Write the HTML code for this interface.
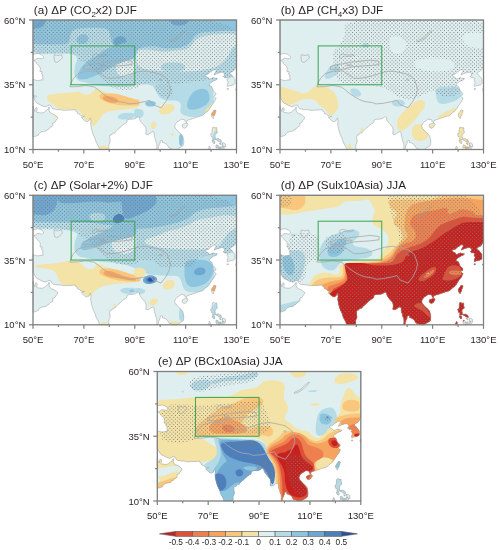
<!DOCTYPE html>
<html><head><meta charset="utf-8"><style>
html,body{margin:0;padding:0;background:#fff;width:500px;height:550px;overflow:hidden}
svg{display:block}
.lab{font-family:"Liberation Sans",sans-serif;font-size:9.5px;fill:#231f20}
.title{font-family:"Liberation Sans",sans-serif;font-size:11.7px;fill:#231f20}
.cbl{font-family:"Liberation Sans",sans-serif;font-size:8.3px;fill:#231f20}
</style></head><body>
<svg width="500" height="550" viewBox="0 0 500 550" style="will-change:transform">
<defs><clipPath id="land"><path d="M0.0,0.0L203.5,0.0L203.5,45.1L203.0,47.1L201.7,49.5L200.7,50.8L198.9,51.8L197.4,52.3L196.9,53.9L197.9,54.4L199.2,55.4L199.9,56.5L200.7,57.5L201.5,58.5L202.0,59.6L202.0,62.2L202.0,63.5L201.0,64.5L199.7,65.0L197.6,65.5L195.9,65.8L194.6,66.6L194.1,65.3L194.6,63.5L195.1,62.2L194.6,60.9L193.8,59.8L195.1,58.5L193.6,57.8L191.5,57.8L190.8,56.5L190.0,56.7L191.3,55.4L191.5,53.6L190.3,52.8L189.0,52.1L187.0,52.6L183.9,53.6L181.1,54.9L181.9,53.1L183.2,51.0L182.6,49.5L180.6,49.7L179.3,51.0L177.0,52.1L175.5,53.9L173.7,54.4L172.2,54.6L172.5,56.2L174.2,57.0L175.5,57.8L176.3,59.3L178.8,58.3L180.1,57.5L181.9,58.3L184.4,58.5L183.7,59.8L180.6,60.9L178.8,62.2L176.8,63.5L176.0,65.3L178.6,66.6L179.8,69.9L180.6,71.2L182.9,73.3L182.6,75.1L180.6,76.1L182.1,77.7L183.2,78.2L182.1,80.3L181.6,81.6L180.1,83.4L178.6,85.5L177.0,88.1L176.0,89.6L174.2,91.7L173.0,92.2L170.9,94.3L169.2,95.6L166.6,96.3L164.1,97.1L162.8,97.6L161.5,97.9L159.0,98.9L156.4,99.7L153.9,100.5L153.4,102.8L152.1,101.5L151.6,99.7L148.8,99.2L147.5,99.7L145.8,101.0L144.0,102.0L142.4,104.1L141.7,106.2L142.4,108.3L144.0,110.1L146.5,112.7L148.0,114.0L149.8,116.3L150.6,119.7L150.8,121.7L150.6,123.8L150.6,124.6L150.1,125.6L147.8,127.2L145.2,128.5L144.2,129.5L139.4,129.5L138.6,128.5L136.3,128.2L135.1,126.4L134.6,125.1L133.0,123.8L131.0,122.8L129.5,122.5L129.5,120.7L128.5,120.4L127.2,121.0L127.1,123.0L126.2,124.8L125.4,126.9L125.2,128.7L124.9,129.5L123.6,129.5L123.9,126.9L123.9,124.8L123.6,123.0L122.6,121.0L122.4,119.1L121.3,116.5L121.1,113.2L120.3,111.6L119.0,111.9L117.8,112.7L115.7,114.2L114.0,114.5L112.7,114.0L113.2,110.6L112.7,107.5L111.7,106.2L110.7,104.9L109.4,103.6L108.4,102.3L107.6,101.3L106.8,99.7L106.3,97.6L105.6,96.9L104.3,97.1L103.0,98.2L102.0,98.7L100.5,98.9L99.2,99.2L97.9,99.2L96.9,99.2L95.6,99.5L94.1,100.0L93.9,101.8L93.4,102.8L91.1,104.1L89.3,105.4L88.3,106.2L86.7,108.0L84.7,109.6L82.2,111.9L82.2,112.7L79.4,113.4L78.9,114.7L76.8,115.3L76.6,117.8L77.1,121.0L76.8,123.0L75.8,124.8L75.8,127.2L75.9,128.7L74.5,129.5L66.6,129.5L65.6,126.4L64.1,123.8L63.1,122.0L62.1,118.4L60.5,115.3L59.3,111.9L58.5,108.8L58.0,106.2L57.7,103.6L58.0,101.0L57.5,97.9L56.5,99.2L56.2,100.5L54.7,101.5L52.9,101.5L51.4,100.5L49.9,98.9L48.3,97.4L49.9,97.1L51.6,96.1L50.1,96.3L47.8,95.6L46.8,94.3L44.5,93.5L43.8,91.4L42.5,90.9L42.2,89.6L39.4,89.9L36.9,90.1L34.3,90.1L31.3,90.4L29.5,90.1L27.0,89.6L24.2,89.6L22.1,89.1L19.8,88.8L18.6,87.3L17.8,85.5L16.0,85.0L14.0,86.2L12.2,86.8L10.2,86.2L8.9,85.7L6.6,84.4L3.8,83.1L2.0,80.5L1.3,79.0L0.5,77.7L0.0,77.2L0.0,59.3L1.3,59.6L2.5,60.1L4.6,60.6L6.4,60.3L8.9,59.8L10.2,60.1L9.9,58.5L9.7,57.0L9.9,54.9L8.1,53.6L9.4,52.8L8.9,51.5L7.1,51.8L7.1,50.2L7.4,48.7L6.9,47.1L6.1,45.8L4.3,44.3L3.3,43.5L3.1,42.5L2.0,41.2L0.8,40.4L2.0,39.9L3.3,39.4L3.8,38.3L6.4,38.3L8.9,38.9L10.7,37.8L10.2,36.3L8.4,34.7L6.4,33.9L4.8,33.5L3.1,33.7L1.0,34.2L0.0,34.7ZM0.0,86.0L0.5,86.5L0.3,87.5L0.5,89.1L1.5,90.6L2.0,91.4L2.0,89.1L3.1,87.5L4.1,88.3L4.1,90.1L3.6,91.7L4.1,92.5L6.4,92.7L8.9,93.0L11.2,92.2L13.5,90.1L15.3,88.8L15.5,87.5L16.3,87.0L16.3,88.6L16.0,90.1L16.8,92.2L18.6,93.5L20.9,94.3L22.4,95.3L24.2,96.9L24.9,97.4L24.2,98.9L22.9,100.5L21.9,102.3L19.8,103.1L19.8,105.7L19.1,106.4L17.3,107.2L16.0,109.0L14.0,109.8L13.2,111.1L10.4,111.4L7.9,112.1L5.6,114.0L5.6,115.0L3.8,115.8L1.3,116.5L0.0,116.8ZM180.6,90.4L181.9,89.9L183.2,90.6L182.6,92.2L182.1,93.8L181.6,95.6L180.6,96.9L180.2,98.7L179.6,97.6L178.8,96.9L178.3,95.8L178.4,94.0L179.3,92.5L180.4,91.2ZM152.6,103.3L154.4,103.3L155.2,104.4L154.2,105.7L153.9,106.7L152.6,107.7L151.4,108.3L149.8,107.5L149.1,105.9L149.3,104.6L150.6,103.9L151.6,103.6ZM203.5,67.6L203.0,68.6L202.5,69.2L203.0,69.9L203.0,71.0L203.5,71.2L203.5,67.6ZM193.8,68.9L194.6,68.5L195.6,68.6L195.4,69.3L194.1,69.4ZM179.6,107.5L180.6,107.2L182.9,108.0L183.7,107.5L183.9,110.6L184.4,112.7L182.1,114.5L182.1,116.5L182.4,118.6L183.7,118.9L185.2,118.6L186.5,119.4L187.7,119.7L188.5,121.7L188.2,122.8L187.0,122.0L185.7,121.5L184.4,120.4L182.6,119.4L181.1,119.9L179.8,119.7L179.6,118.4L180.4,117.6L179.6,117.1L178.6,117.1L178.1,115.8L177.6,113.7L178.6,113.7L179.1,111.9L179.1,110.1ZM179.1,120.4L181.1,120.7L181.9,121.7L181.6,123.5L180.6,123.5L179.3,121.7ZM183.2,124.8L185.2,125.4L185.9,126.4L184.7,127.7L183.2,128.2L182.9,126.4ZM185.4,127.2L187.0,127.2L186.5,129.5L185.2,129.5ZM187.7,126.4L188.5,127.9L188.0,129.5L187.2,128.7ZM189.0,125.6L190.8,126.4L191.3,128.7L190.3,129.5L189.3,127.7ZM189.0,123.0L190.8,122.8L192.3,123.8L192.8,126.9L190.8,126.7L189.8,125.4ZM176.3,125.9L177.6,127.7L176.3,129.5L174.8,129.5L176.0,127.2ZM186.2,123.3L187.7,123.5L188.2,124.6L187.0,124.3Z"/></clipPath>
<pattern id="stip" patternUnits="userSpaceOnUse" width="3.75" height="3.7"><rect x="0.5" y="0.5" width="1" height="1" fill="#787878" shape-rendering="crispEdges"/><rect x="2.375" y="2.35" width="1" height="1" fill="#787878" shape-rendering="crispEdges"/></pattern>
</defs>
<g transform="translate(33.0,20.0)">
<g clip-path="url(#land)">
<rect x="0" y="0" width="203.5" height="129.5" fill="#dfeeee"/>
<path d="M74.8,-6.0L128.7,-6.0L169.1,-2.2L196.0,5.4L209.5,16.9L209.5,32.1L208.6,43.8L206.8,51.8L204.1,56.1L200.4,56.9L197.1,57.7L194.0,58.6L191.2,59.5L188.8,60.5L186.6,61.6L184.9,62.9L183.5,64.2L182.5,65.8L181.7,67.4L181.1,69.1L180.6,71.0L180.4,73.0L180.3,74.9L180.3,76.7L180.5,78.5L180.9,80.1L180.9,81.9L180.5,83.7L179.9,85.7L178.8,87.7L177.4,89.7L175.6,91.4L173.4,93.1L170.9,94.7L168.2,95.8L165.3,96.6L162.4,97.0L159.2,97.0L156.4,96.7L153.8,96.2L151.5,95.5L149.5,94.4L148.1,93.2L147.3,91.6L147.2,89.8L147.7,87.7L147.8,85.9L147.6,84.3L147.1,83.1L146.3,82.0L145.0,81.3L143.3,80.8L141.2,80.5L138.8,80.5L136.4,80.4L134.3,80.2L132.4,79.9L130.6,79.6L129.1,79.0L127.7,78.2L126.5,77.1L125.5,75.9L124.6,74.6L123.9,73.2L123.2,71.8L122.8,70.2L122.1,68.9L121.4,67.8L120.5,66.9L119.5,66.1L118.2,65.5L116.8,65.0L115.0,64.6L113.0,64.4L111.1,64.2L109.4,64.2L107.8,64.4L106.2,64.6L104.6,64.9L102.7,65.3L100.6,65.8L98.4,66.2L96.1,66.6L93.7,66.9L91.2,67.0L88.8,67.0L86.2,67.0L83.8,66.9L81.2,66.8L78.8,66.7L76.2,66.6L73.8,66.4L71.2,66.3L68.8,66.2L66.6,66.0L64.7,65.8L63.1,65.4L61.9,65.1L60.4,64.7L58.8,64.2L57.0,63.8L55.0,63.2L53.1,62.8L51.2,62.3L49.4,61.9L47.6,61.6L46.1,60.9L44.7,60.0L43.5,58.8L42.5,57.2L41.8,55.5L41.4,53.5L41.4,51.2L41.6,48.8L42.0,46.4L42.5,44.3L43.1,42.4L43.9,40.6L44.1,39.1L43.9,37.7L43.1,36.5L41.9,35.5L40.3,34.7L38.4,34.2L36.2,33.8L33.8,33.7L31.2,33.6L28.8,33.6L26.2,33.6L23.8,33.6L20.2,33.7L15.8,33.7L10.2,33.7L3.8,33.7L-1.1,31.2L-4.4,26.3L-6.0,18.8L-6.0,8.9L7.5,1.4L34.4,-3.5Z" fill="#b5dbe7"/>
<path d="M106.1,30.2L108.2,29.8L110.4,29.5L112.7,29.4L115.2,29.6L117.7,29.9L120.3,30.3L122.9,30.7L125.5,31.1L128.0,31.4L130.6,31.6L133.2,31.6L135.8,31.4L138.3,31.1L141.1,30.7L144.0,30.3L147.0,29.9L150.2,29.6L152.9,29.0L155.1,28.2L156.9,27.1L158.1,25.9L159.2,24.6L160.2,23.3L161.1,22.0L161.9,20.6L163.1,19.4L164.7,18.4L166.8,17.4L169.4,16.7L172.0,16.0L174.8,15.4L177.6,14.9L180.6,14.6L183.3,14.2L185.9,14.0L188.3,13.8L190.5,13.7L193.1,13.7L196.2,13.8L199.7,14.1L203.6,14.4L206.6,15.2L208.5,16.2L209.5,17.6L209.5,19.4L208.8,21.1L207.5,22.7L205.6,24.2L202.9,25.8L200.8,27.2L199.3,28.6L198.2,29.9L197.8,31.1L197.0,32.6L196.1,34.2L195.0,36.1L193.7,38.1L192.2,40.1L190.5,41.9L188.6,43.5L186.6,45.1L183.8,46.5L180.1,47.8L175.8,48.9L170.6,50.0L165.5,50.7L160.3,51.2L155.1,51.5L150.0,51.5L144.8,51.4L139.6,51.3L134.5,51.1L129.3,50.9L124.5,50.5L120.0,50.1L115.8,49.6L111.9,48.9L108.7,48.0L106.4,46.7L104.9,45.0L104.1,43.0L103.6,40.9L103.2,38.8L103.0,36.6L103.0,34.4L103.5,32.6L104.6,31.2Z" fill="#dfeeee"/>
<path d="M132.5,43.2L135.5,42.8L138.5,42.5L141.5,42.5L144.5,42.8L147.5,43.2L149.8,44.1L151.2,45.3L152.0,46.8L152.0,48.7L150.5,50.1L147.5,51.0L143.0,51.5L137.0,51.5L132.5,51.0L129.5,50.1L128.0,48.7L128.0,46.8L128.8,45.3L130.2,44.1Z" fill="#b5dbe7"/>
<path d="M85.8,41.2L88.2,40.8L90.8,40.3L93.2,39.9L95.8,39.6L98.2,39.4L100.2,39.6L101.8,40.2L102.8,41.2L103.2,42.8L103.4,44.4L103.1,46.3L102.5,48.4L101.5,50.6L100.2,52.5L98.8,54.0L97.0,55.1L95.0,55.9L93.0,56.3L91.0,56.4L89.0,56.2L87.0,55.8L85.4,54.6L84.1,52.7L83.2,50.1L82.8,46.9L83.0,44.3L84.0,42.4Z" fill="#dfeeee"/>
<path d="M74.8,-6.0L128.7,-6.0L169.1,-4.9L196.0,-2.6L209.5,0.8L209.5,5.2L208.5,8.5L206.6,10.6L203.6,11.4L199.7,11.1L195.9,10.8L192.2,10.8L188.6,10.9L185.2,11.1L181.8,11.4L178.6,11.6L175.5,11.9L172.5,12.1L169.9,12.5L167.6,12.9L165.8,13.4L164.2,14.1L162.9,15.0L161.6,16.2L160.5,17.6L159.5,19.4L158.4,20.9L157.1,22.3L155.8,23.5L154.2,24.5L152.7,25.4L151.1,26.1L149.4,26.8L147.6,27.2L145.7,27.7L143.6,28.0L141.2,28.2L138.8,28.3L136.4,28.4L134.3,28.3L132.4,28.2L130.6,28.1L128.9,27.8L127.2,27.5L125.6,27.1L124.0,26.7L122.1,26.4L120.0,26.3L117.6,26.4L115.0,26.6L112.6,26.9L110.3,27.3L108.4,27.8L106.6,28.2L105.1,28.9L103.9,29.6L102.9,30.5L102.1,31.5L101.2,32.1L100.1,32.2L98.8,31.9L97.2,31.1L95.7,30.5L94.1,30.0L92.4,29.6L90.6,29.4L88.8,28.9L86.9,28.3L85.0,27.5L83.0,26.5L81.3,25.3L80.0,23.9L79.1,22.4L78.4,20.6L77.9,18.8L77.4,16.8L76.9,14.6L76.6,12.4L75.6,10.6L74.0,9.3L71.9,8.4L69.1,8.1L66.1,7.8L62.9,7.7L59.4,7.7L55.6,7.8L52.2,8.0L49.1,8.2L46.2,8.6L43.8,8.9L41.7,9.6L40.1,10.4L38.9,11.6L38.1,12.9L37.5,14.6L37.0,16.4L36.6,18.6L36.4,20.9L35.2,22.7L33.1,23.9L30.0,24.5L26.0,24.5L21.4,24.5L16.1,24.5L10.2,24.5L3.8,24.5L-1.1,22.6L-4.4,18.8L-6.0,13.1L-6.0,5.4L7.5,-0.3L34.4,-4.1Z" fill="#8ec5de"/>
<path d="M44.5,17.3L45.5,16.2L46.6,15.3L47.9,14.7L49.2,14.3L50.8,14.2L52.1,14.3L53.2,14.8L54.1,15.5L54.9,16.5L55.3,17.6L55.4,18.7L55.2,19.9L54.8,21.1L54.0,22.2L53.0,23.0L51.8,23.6L50.2,23.9L48.9,24.1L47.6,24.0L46.5,23.8L45.5,23.2L44.7,22.7L44.1,22.0L43.6,21.2L43.4,20.3L43.4,19.4L43.8,18.4Z" fill="#8ec5de"/>
<path d="M1.5,-6.0L6.5,-6.0L10.1,-5.4L12.4,-4.1L13.2,-2.2L12.8,0.2L12.1,2.4L11.4,4.1L10.5,5.5L9.5,6.5L7.9,7.3L5.6,7.9L2.8,8.4L-0.8,8.6L-3.4,7.9L-5.1,6.1L-6.0,3.4L-6.0,-0.4L-4.8,-3.2L-2.2,-5.1Z" fill="#6ea8d2"/>
<path d="M143.6,-6.0L149.4,-6.0L153.5,-5.4L156.0,-4.1L156.9,-2.2L156.1,0.2L154.9,2.2L153.3,3.8L151.2,4.8L148.8,5.2L146.4,5.5L144.3,5.5L142.4,5.2L140.6,4.8L139.1,3.8L137.9,2.2L136.9,0.2L136.1,-2.2L137.0,-4.1L139.5,-5.4Z" fill="#6ea8d2"/>
<path d="M81.5,19.3L82.5,18.2L83.6,17.3L84.9,16.7L86.2,16.3L87.8,16.2L89.1,16.3L90.4,16.8L91.5,17.5L92.5,18.5L93.1,19.6L93.4,20.7L93.2,21.9L92.8,23.1L91.9,24.2L90.8,25.0L89.4,25.6L87.6,25.9L86.1,26.1L84.7,26.1L83.5,25.9L82.5,25.6L81.7,25.0L81.1,24.3L80.6,23.5L80.4,22.5L80.4,21.5L80.8,20.4Z" fill="#6ea8d2"/>
<path d="M45.9,51.7L47.7,48.5L49.8,45.7L52.3,43.2L55.1,41.1L58.3,39.3L61.2,37.5L63.9,35.7L66.4,33.9L68.6,32.1L70.9,30.5L73.1,29.2L75.4,28.0L77.6,27.2L80.1,26.3L82.8,25.4L85.7,24.4L88.8,23.6L91.7,22.8L94.3,22.2L96.7,21.7L98.8,21.5L100.5,21.8L101.8,22.8L102.8,24.4L103.2,26.6L103.5,28.8L103.6,31.0L103.4,33.2L103.1,35.2L102.3,36.9L101.2,38.2L99.8,39.1L98.0,39.5L95.8,40.2L93.1,41.1L89.9,42.2L86.4,43.6L83.1,44.9L80.2,46.3L77.6,47.6L75.4,49.0L72.8,50.4L69.9,52.0L66.6,53.7L63.0,55.5L59.6,57.0L56.5,58.1L53.6,58.9L50.8,59.3L48.6,59.4L46.8,59.2L45.5,58.7L44.5,57.7L44.3,56.3L44.8,54.3Z" fill="#8ec5de"/>
<path d="M16.0,74.9L17.7,74.6L19.7,74.2L21.9,73.9L24.2,73.6L26.8,73.4L29.3,73.2L31.9,73.0L34.4,72.8L37.0,72.7L39.2,72.5L41.1,72.3L42.8,72.1L44.1,71.9L45.2,71.8L46.2,72.0L47.1,72.4L47.9,73.1L48.8,73.6L49.9,74.0L51.2,74.4L52.8,74.6L54.2,74.6L55.6,74.4L56.9,73.9L58.1,73.1L59.2,72.3L60.2,71.5L61.1,70.7L61.9,69.8L62.7,69.2L63.6,69.0L64.5,69.1L65.5,69.4L66.9,70.0L68.7,70.7L71.0,71.5L73.6,72.5L76.5,73.6L79.6,74.7L82.9,75.9L86.5,77.1L89.8,78.2L92.8,79.0L95.6,79.6L98.2,79.9L100.3,80.1L102.1,80.1L103.5,79.9L104.5,79.6L105.4,79.5L106.1,79.7L106.8,80.1L107.2,80.9L107.5,81.7L107.5,82.7L107.2,83.8L106.8,84.9L106.1,85.9L105.4,86.7L104.5,87.4L103.5,87.8L102.1,88.2L100.3,88.6L98.2,88.9L95.6,89.1L93.1,89.4L90.5,89.6L88.0,89.9L85.4,90.1L82.9,90.4L80.3,90.8L77.8,91.3L75.2,91.8L72.9,92.7L70.9,94.0L69.1,95.6L67.6,97.7L66.2,99.6L64.9,101.4L63.8,103.0L62.7,104.6L61.8,105.6L61.1,106.1L60.5,106.1L60.0,105.6L59.3,104.9L58.6,104.2L57.7,103.3L56.6,102.2L55.6,101.3L54.6,100.6L53.6,100.0L52.5,99.5L51.6,98.8L50.9,98.1L50.2,97.2L49.8,96.1L49.2,95.1L48.7,94.1L48.2,93.1L47.7,92.0L46.9,91.2L45.9,90.6L44.6,90.1L43.1,89.9L41.3,89.7L39.3,89.6L37.0,89.5L34.4,89.5L32.1,89.4L30.1,89.3L28.3,89.1L26.8,88.9L25.4,88.4L24.1,87.8L23.0,87.0L21.9,85.9L20.8,84.9L19.5,83.9L18.1,82.9L16.6,81.8L15.4,80.8L14.5,79.7L13.9,78.5L13.7,77.3L13.9,76.3L14.7,75.5Z" fill="#f4e3a6"/>
<path d="M67.5,74.4L68.5,74.1L70.0,73.8L71.9,73.5L74.3,73.4L77.2,73.3L80.1,73.4L82.8,73.8L85.4,74.3L88.0,75.1L90.5,75.8L93.1,76.6L95.6,77.4L98.2,78.1L100.3,78.8L102.1,79.2L103.5,79.6L104.5,79.7L105.2,80.2L105.8,81.0L106.0,82.1L106.0,83.4L105.8,84.5L105.2,85.2L104.5,85.5L103.5,85.6L102.1,85.6L100.3,85.6L98.2,85.6L95.6,85.6L93.1,85.5L90.5,85.4L88.0,85.2L85.4,85.0L82.9,84.6L80.4,84.1L78.0,83.4L75.6,82.7L73.5,81.9L71.7,81.2L70.1,80.6L68.9,79.9L67.9,79.2L67.1,78.4L66.6,77.5L66.4,76.5L66.4,75.7L66.8,75.0Z" fill="#f8c67c"/>
<path d="M72.5,76.1L74.5,76.1L76.6,76.3L78.6,76.7L80.6,77.3L82.7,78.2L84.1,79.1L84.9,79.9L85.1,80.8L84.6,81.7L83.8,82.3L82.6,82.7L81.0,82.8L79.0,82.7L77.2,82.4L75.5,82.1L73.9,81.6L72.6,80.9L71.5,80.2L70.6,79.4L70.1,78.6L69.8,77.6L70.1,76.9L71.0,76.4Z" fill="#f5a35f"/>
<path d="M86.2,94.9L87.8,94.1L89.4,93.5L91.1,93.1L93.0,92.9L95.0,92.8L96.8,92.8L98.2,92.9L99.5,93.1L100.5,93.5L101.1,94.0L101.4,94.8L101.2,95.7L100.8,96.8L99.9,97.7L98.6,98.4L97.0,98.9L95.0,99.3L93.1,99.4L91.4,99.5L89.8,99.4L88.2,99.3L87.0,98.9L86.0,98.5L85.2,97.9L84.8,97.1L84.8,96.4L85.2,95.6Z" fill="#b5dbe7"/>
<path d="M21.0,94.5L21.4,94.1L21.9,94.0L22.4,94.1L22.9,94.5L23.6,95.1L23.9,95.7L24.1,96.4L23.9,97.0L23.6,97.7L23.1,98.0L22.6,97.8L22.0,97.3L21.4,96.4L21.0,95.6L20.9,95.0Z" fill="#f4e3a6"/>
<path d="M67.1,126.2L68.2,125.8L69.5,125.5L70.7,125.5L72.1,125.8L73.4,126.2L74.5,127.2L75.2,128.5L75.5,130.2L75.5,132.3L74.9,133.9L73.6,135.0L71.7,135.5L69.1,135.5L67.2,135.0L65.9,133.9L65.3,132.3L65.3,130.2L65.6,128.5L66.2,127.2Z" fill="#f4e3a6"/>
<path d="M-2.2,74.4L0.2,74.6L2.1,75.0L3.4,75.5L4.0,76.1L4.0,76.9L3.4,77.4L2.1,77.8L0.2,78.0L-2.2,78.0L-4.1,77.8L-5.4,77.2L-6.0,76.5L-6.0,75.5L-5.4,74.8L-4.1,74.4Z" fill="#b5dbe7"/>
<path d="M154.8,81.3L156.4,77.6L158.2,74.7L160.2,72.3L162.6,70.7L165.1,69.6L167.5,69.0L169.5,68.8L171.3,68.9L172.9,69.4L174.2,70.5L175.2,72.0L176.0,74.1L176.5,76.6L176.5,79.0L176.0,81.0L175.0,82.8L173.4,84.4L171.5,85.8L169.2,87.1L166.4,88.2L163.3,89.3L160.6,89.8L158.3,89.8L156.4,89.3L154.8,88.2L154.1,86.6L154.1,84.2Z" fill="#8ec5de"/>
<path d="M113.1,82.1L114.2,81.4L115.6,81.1L117.1,80.9L118.9,81.1L120.8,81.4L122.1,82.0L122.7,82.8L122.7,83.8L122.0,84.9L121.1,85.8L119.9,86.4L118.4,86.6L116.6,86.6L115.1,86.3L113.9,85.9L113.0,85.2L112.3,84.3L112.1,83.5L112.3,82.8Z" fill="#8ec5de"/>
<path d="M127.3,88.1L128.4,86.9L129.6,85.8L131.0,85.1L132.6,84.5L134.4,84.1L136.0,84.0L137.5,84.1L138.9,84.5L140.2,85.1L141.1,85.9L141.5,87.0L141.4,88.2L140.8,89.8L140.0,91.1L138.8,92.2L137.4,93.1L135.6,93.8L133.9,94.3L132.3,94.6L130.8,94.6L129.2,94.3L128.0,93.9L127.1,93.3L126.5,92.5L126.2,91.5L126.2,90.4L126.6,89.3Z" fill="#f4e3a6"/>
<path d="M118.4,103.5L119.1,102.5L119.8,101.9L120.5,101.6L121.4,101.8L122.3,102.2L122.9,102.9L123.2,103.8L123.3,104.9L122.9,106.1L122.5,107.2L121.9,107.9L121.2,108.5L120.3,108.9L119.6,108.9L118.9,108.5L118.4,107.8L118.1,106.6L117.9,105.6L118.1,104.5Z" fill="#f4e3a6"/>
<path d="M138.8,112.8L139.2,112.7L139.7,112.8L140.1,113.0L140.4,113.4L140.6,114.1L140.7,114.6L140.6,115.1L140.2,115.6L139.8,116.0L139.3,116.1L138.9,115.8L138.6,115.2L138.4,114.4L138.3,113.6L138.4,113.1Z" fill="#f4e3a6"/>
<path d="M178.5,84.1L179.5,83.5L180.2,83.4L180.6,83.8L180.6,84.6L180.4,86.0L179.9,87.3L179.1,88.6L178.1,89.8L176.9,91.1L175.7,91.9L174.6,92.4L173.5,92.6L172.5,92.3L172.1,91.7L172.4,90.7L173.2,89.4L174.8,87.6L176.1,86.2L177.4,85.0Z" fill="#f4e3a6"/>
<path d="M179.9,88.0L181.1,88.0L182.1,88.5L182.7,89.5L183.0,91.0L183.0,93.0L182.7,94.5L182.1,95.5L181.1,96.0L179.9,96.0L178.9,95.5L178.3,94.5L178.0,93.0L178.0,91.0L178.3,89.5L178.9,88.5Z" fill="#f5a35f"/>
<path d="M183.1,110.0L185.9,110.0L187.9,111.6L189.3,114.8L190.0,119.6L190.0,125.9L189.3,130.7L187.9,133.9L185.9,135.5L183.1,135.5L181.1,133.9L179.7,130.7L179.0,125.9L179.0,119.6L179.7,114.8L181.1,111.6Z" fill="#b5dbe7"/>
<path d="M102.9,88.9L104.1,88.8L105.4,88.9L106.6,89.2L107.9,89.6L109.1,90.1L110.0,90.9L110.5,92.0L110.6,93.2L110.4,94.8L109.8,96.0L108.9,97.0L107.8,97.8L106.2,98.2L104.9,98.5L103.8,98.5L102.9,98.2L102.1,97.8L101.6,96.9L101.2,95.6L101.0,94.0L101.0,92.0L101.3,90.5L101.9,89.4Z" fill="#b5dbe7"/>
<path d="M147.5,114.0L148.5,114.0L149.2,114.8L149.8,116.2L150.0,118.5L150.0,121.5L149.8,123.8L149.2,125.2L148.5,126.0L147.5,126.0L146.8,125.2L146.2,123.8L146.0,121.5L146.0,118.5L146.2,116.2L146.8,114.8Z" fill="#8ec5de"/>
<path d="M181.5,106.5L182.5,106.5L183.2,106.7L183.8,107.2L184.0,107.8L184.0,108.7L183.8,109.3L183.2,109.8L182.5,110.0L181.5,110.0L180.8,109.8L180.2,109.3L180.0,108.7L180.0,107.8L180.2,107.2L180.8,106.7Z" fill="#f4e3a6"/>
<path d="M74.8,-6.0L128.7,-6.0L169.1,-2.1L196.0,5.6L209.5,17.2L209.5,32.8L208.3,44.5L205.8,52.5L202.2,56.8L197.3,57.2L192.7,57.8L188.4,58.2L184.4,58.8L180.6,59.2L176.9,59.8L173.1,60.2L169.4,60.8L165.6,61.2L162.2,61.7L159.1,62.1L156.2,62.4L153.8,62.6L151.2,62.9L148.8,63.1L146.2,63.4L143.8,63.6L141.2,63.8L138.8,63.8L136.2,63.6L133.8,63.4L131.2,63.1L128.8,62.9L126.2,62.6L123.8,62.4L121.2,62.3L118.8,62.4L116.2,62.8L113.8,63.2L111.5,63.9L109.5,64.6L107.8,65.5L106.2,66.5L104.6,67.4L102.7,68.2L100.6,68.9L98.4,69.6L95.8,69.9L92.8,70.1L89.4,69.9L85.6,69.6L82.5,68.9L80.0,68.0L78.1,66.8L76.9,65.2L75.5,63.8L74.0,62.4L72.4,61.1L70.6,59.9L68.9,58.6L67.3,57.2L65.8,55.8L64.2,54.2L62.9,52.8L61.6,51.2L60.5,49.8L59.5,48.2L58.2,46.9L56.8,45.6L55.0,44.5L53.0,43.5L51.2,42.5L49.6,41.5L48.1,40.5L46.9,39.5L45.9,38.5L45.3,37.5L45.0,36.5L45.0,35.5L44.1,34.7L42.2,34.2L39.4,33.9L35.6,33.8L30.6,33.8L24.2,33.7L16.5,33.7L7.5,33.7L0.8,31.2L-3.8,26.3L-6.0,18.8L-6.0,8.9L7.5,1.4L34.4,-3.5ZM128.5,64.0L133.1,64.0L136.6,64.9L138.8,66.6L140.0,69.2L140.0,72.8L139.4,75.4L138.1,77.1L136.2,78.0L133.8,78.0L131.3,77.6L129.1,76.9L126.9,75.8L124.8,74.2L123.2,72.6L122.1,70.9L121.6,69.0L121.6,67.0L122.7,65.5L125.0,64.5Z" fill="url(#stip)" fill-rule="evenodd"/>
</g>
<path d="M0.0,0.0L203.5,0.0L203.5,45.1L203.0,47.1L201.7,49.5L200.7,50.8L198.9,51.8L197.4,52.3L196.9,53.9L197.9,54.4L199.2,55.4L199.9,56.5L200.7,57.5L201.5,58.5L202.0,59.6L202.0,62.2L202.0,63.5L201.0,64.5L199.7,65.0L197.6,65.5L195.9,65.8L194.6,66.6L194.1,65.3L194.6,63.5L195.1,62.2L194.6,60.9L193.8,59.8L195.1,58.5L193.6,57.8L191.5,57.8L190.8,56.5L190.0,56.7L191.3,55.4L191.5,53.6L190.3,52.8L189.0,52.1L187.0,52.6L183.9,53.6L181.1,54.9L181.9,53.1L183.2,51.0L182.6,49.5L180.6,49.7L179.3,51.0L177.0,52.1L175.5,53.9L173.7,54.4L172.2,54.6L172.5,56.2L174.2,57.0L175.5,57.8L176.3,59.3L178.8,58.3L180.1,57.5L181.9,58.3L184.4,58.5L183.7,59.8L180.6,60.9L178.8,62.2L176.8,63.5L176.0,65.3L178.6,66.6L179.8,69.9L180.6,71.2L182.9,73.3L182.6,75.1L180.6,76.1L182.1,77.7L183.2,78.2L182.1,80.3L181.6,81.6L180.1,83.4L178.6,85.5L177.0,88.1L176.0,89.6L174.2,91.7L173.0,92.2L170.9,94.3L169.2,95.6L166.6,96.3L164.1,97.1L162.8,97.6L161.5,97.9L159.0,98.9L156.4,99.7L153.9,100.5L153.4,102.8L152.1,101.5L151.6,99.7L148.8,99.2L147.5,99.7L145.8,101.0L144.0,102.0L142.4,104.1L141.7,106.2L142.4,108.3L144.0,110.1L146.5,112.7L148.0,114.0L149.8,116.3L150.6,119.7L150.8,121.7L150.6,123.8L150.6,124.6L150.1,125.6L147.8,127.2L145.2,128.5L144.2,129.5L139.4,129.5L138.6,128.5L136.3,128.2L135.1,126.4L134.6,125.1L133.0,123.8L131.0,122.8L129.5,122.5L129.5,120.7L128.5,120.4L127.2,121.0L127.1,123.0L126.2,124.8L125.4,126.9L125.2,128.7L124.9,129.5L123.6,129.5L123.9,126.9L123.9,124.8L123.6,123.0L122.6,121.0L122.4,119.1L121.3,116.5L121.1,113.2L120.3,111.6L119.0,111.9L117.8,112.7L115.7,114.2L114.0,114.5L112.7,114.0L113.2,110.6L112.7,107.5L111.7,106.2L110.7,104.9L109.4,103.6L108.4,102.3L107.6,101.3L106.8,99.7L106.3,97.6L105.6,96.9L104.3,97.1L103.0,98.2L102.0,98.7L100.5,98.9L99.2,99.2L97.9,99.2L96.9,99.2L95.6,99.5L94.1,100.0L93.9,101.8L93.4,102.8L91.1,104.1L89.3,105.4L88.3,106.2L86.7,108.0L84.7,109.6L82.2,111.9L82.2,112.7L79.4,113.4L78.9,114.7L76.8,115.3L76.6,117.8L77.1,121.0L76.8,123.0L75.8,124.8L75.8,127.2L75.9,128.7L74.5,129.5L66.6,129.5L65.6,126.4L64.1,123.8L63.1,122.0L62.1,118.4L60.5,115.3L59.3,111.9L58.5,108.8L58.0,106.2L57.7,103.6L58.0,101.0L57.5,97.9L56.5,99.2L56.2,100.5L54.7,101.5L52.9,101.5L51.4,100.5L49.9,98.9L48.3,97.4L49.9,97.1L51.6,96.1L50.1,96.3L47.8,95.6L46.8,94.3L44.5,93.5L43.8,91.4L42.5,90.9L42.2,89.6L39.4,89.9L36.9,90.1L34.3,90.1L31.3,90.4L29.5,90.1L27.0,89.6L24.2,89.6L22.1,89.1L19.8,88.8L18.6,87.3L17.8,85.5L16.0,85.0L14.0,86.2L12.2,86.8L10.2,86.2L8.9,85.7L6.6,84.4L3.8,83.1L2.0,80.5L1.3,79.0L0.5,77.7L0.0,77.2L0.0,59.3L1.3,59.6L2.5,60.1L4.6,60.6L6.4,60.3L8.9,59.8L10.2,60.1L9.9,58.5L9.7,57.0L9.9,54.9L8.1,53.6L9.4,52.8L8.9,51.5L7.1,51.8L7.1,50.2L7.4,48.7L6.9,47.1L6.1,45.8L4.3,44.3L3.3,43.5L3.1,42.5L2.0,41.2L0.8,40.4L2.0,39.9L3.3,39.4L3.8,38.3L6.4,38.3L8.9,38.9L10.7,37.8L10.2,36.3L8.4,34.7L6.4,33.9L4.8,33.5L3.1,33.7L1.0,34.2L0.0,34.7ZM0.0,86.0L0.5,86.5L0.3,87.5L0.5,89.1L1.5,90.6L2.0,91.4L2.0,89.1L3.1,87.5L4.1,88.3L4.1,90.1L3.6,91.7L4.1,92.5L6.4,92.7L8.9,93.0L11.2,92.2L13.5,90.1L15.3,88.8L15.5,87.5L16.3,87.0L16.3,88.6L16.0,90.1L16.8,92.2L18.6,93.5L20.9,94.3L22.4,95.3L24.2,96.9L24.9,97.4L24.2,98.9L22.9,100.5L21.9,102.3L19.8,103.1L19.8,105.7L19.1,106.4L17.3,107.2L16.0,109.0L14.0,109.8L13.2,111.1L10.4,111.4L7.9,112.1L5.6,114.0L5.6,115.0L3.8,115.8L1.3,116.5L0.0,116.8ZM180.6,90.4L181.9,89.9L183.2,90.6L182.6,92.2L182.1,93.8L181.6,95.6L180.6,96.9L180.2,98.7L179.6,97.6L178.8,96.9L178.3,95.8L178.4,94.0L179.3,92.5L180.4,91.2ZM152.6,103.3L154.4,103.3L155.2,104.4L154.2,105.7L153.9,106.7L152.6,107.7L151.4,108.3L149.8,107.5L149.1,105.9L149.3,104.6L150.6,103.9L151.6,103.6ZM203.5,67.6L203.0,68.6L202.5,69.2L203.0,69.9L203.0,71.0L203.5,71.2L203.5,67.6ZM193.8,68.9L194.6,68.5L195.6,68.6L195.4,69.3L194.1,69.4ZM179.6,107.5L180.6,107.2L182.9,108.0L183.7,107.5L183.9,110.6L184.4,112.7L182.1,114.5L182.1,116.5L182.4,118.6L183.7,118.9L185.2,118.6L186.5,119.4L187.7,119.7L188.5,121.7L188.2,122.8L187.0,122.0L185.7,121.5L184.4,120.4L182.6,119.4L181.1,119.9L179.8,119.7L179.6,118.4L180.4,117.6L179.6,117.1L178.6,117.1L178.1,115.8L177.6,113.7L178.6,113.7L179.1,111.9L179.1,110.1ZM179.1,120.4L181.1,120.7L181.9,121.7L181.6,123.5L180.6,123.5L179.3,121.7ZM183.2,124.8L185.2,125.4L185.9,126.4L184.7,127.7L183.2,128.2L182.9,126.4ZM185.4,127.2L187.0,127.2L186.5,129.5L185.2,129.5ZM187.7,126.4L188.5,127.9L188.0,129.5L187.2,128.7ZM189.0,125.6L190.8,126.4L191.3,128.7L190.3,129.5L189.3,127.7ZM189.0,123.0L190.8,122.8L192.3,123.8L192.8,126.9L190.8,126.7L189.8,125.4ZM176.3,125.9L177.6,127.7L176.3,129.5L174.8,129.5L176.0,127.2ZM186.2,123.3L187.7,123.5L188.2,124.6L187.0,124.3Z" fill="none" stroke="#9a9a9a" stroke-width="0.5"/>
<path d="M21.1,34.7L24.9,35.5L28.5,34.7L29.5,37.6L26.7,40.7L23.7,42.5L21.6,41.4L21.1,38.1Z" fill="none" stroke="#9a9a9a" stroke-width="0.5"/><path d="M59.8,35.0L62.3,33.9L64.9,34.7L68.7,35.2L72.5,34.4L74.3,35.0L71.2,36.3L67.4,36.5L63.6,36.0L61.6,38.3L59.8,38.1Z" fill="none" stroke="#9a9a9a" stroke-width="0.5"/><path d="M136.6,21.5L138.6,21.8L142.4,19.9L146.3,17.4L150.1,13.5L152.1,11.1L150.8,10.9L147.5,14.0L143.7,17.6L139.9,19.7L137.4,20.7Z" fill="none" stroke="#9a9a9a" stroke-width="0.5"/><path d="M66.6,45.3L69.2,44.5L72.0,45.1L71.2,46.1L68.7,45.8Z" fill="none" stroke="#9a9a9a" stroke-width="0.5"/><path d="M126.2,59.6L128.0,59.1L129.2,59.8L127.7,60.6Z" fill="none" stroke="#9a9a9a" stroke-width="0.5"/>
<path d="M36.9,66.8L44.8,66.6L52.7,65.5L61.0,66.8L65.1,69.7L70.0,73.8L75.0,77.2L79.9,79.8L85.0,81.6L92.6,82.6L95.9,83.9L102.8,83.4L111.9,81.6L117.0,80.3L120.1,84.7L128.0,87.8L132.8,81.6L136.1,75.1L137.6,68.6L134.3,59.1L128.0,54.4L123.1,53.1L112.4,51.0L105.1,51.8L99.0,53.6L90.0,56.5L80.9,58.3L73.8,58.3L68.4,54.6L63.1,51.0L53.9,51.0L45.0,53.6L40.7,58.3L38.2,62.2ZM50.4,46.6L55.7,44.8L63.1,43.8L72.0,42.0L80.9,41.2L90.0,40.1L99.0,41.2L99.0,44.5L90.0,45.6L73.8,46.6L63.1,49.2L50.4,49.2Z" fill="none" stroke="#a8a8a8" stroke-width="0.8" stroke-linejoin="round"/>
<rect x="38.16" y="25.90" width="63.59" height="38.85" fill="none" stroke="#3aa655" stroke-width="1"/>
<rect x="0" y="0" width="203.5" height="129.5" fill="none" stroke="#7f7f7f" stroke-width="1.3"/>
<line x1="0.00" y1="129.5" x2="0.00" y2="133.5" stroke="#7f7f7f" stroke-width="1.2"/>
<line x1="25.44" y1="129.5" x2="25.44" y2="131.7" stroke="#7f7f7f" stroke-width="1.2"/>
<line x1="50.88" y1="129.5" x2="50.88" y2="133.5" stroke="#7f7f7f" stroke-width="1.2"/>
<line x1="76.31" y1="129.5" x2="76.31" y2="131.7" stroke="#7f7f7f" stroke-width="1.2"/>
<line x1="101.75" y1="129.5" x2="101.75" y2="133.5" stroke="#7f7f7f" stroke-width="1.2"/>
<line x1="127.19" y1="129.5" x2="127.19" y2="131.7" stroke="#7f7f7f" stroke-width="1.2"/>
<line x1="152.62" y1="129.5" x2="152.62" y2="133.5" stroke="#7f7f7f" stroke-width="1.2"/>
<line x1="178.06" y1="129.5" x2="178.06" y2="131.7" stroke="#7f7f7f" stroke-width="1.2"/>
<line x1="203.50" y1="129.5" x2="203.50" y2="133.5" stroke="#7f7f7f" stroke-width="1.2"/>
<line x1="-4" y1="0.00" x2="0" y2="0.00" stroke="#7f7f7f" stroke-width="1.2"/>
<line x1="-2.2" y1="32.38" x2="0" y2="32.38" stroke="#7f7f7f" stroke-width="1.2"/>
<line x1="-4" y1="64.75" x2="0" y2="64.75" stroke="#7f7f7f" stroke-width="1.2"/>
<line x1="-2.2" y1="97.12" x2="0" y2="97.12" stroke="#7f7f7f" stroke-width="1.2"/>
<line x1="-4" y1="129.50" x2="0" y2="129.50" stroke="#7f7f7f" stroke-width="1.2"/>
<text x="0.00" y="147.60" text-anchor="middle" class="lab">50°E</text>
<text x="50.88" y="147.60" text-anchor="middle" class="lab">70°E</text>
<text x="101.75" y="147.60" text-anchor="middle" class="lab">90°E</text>
<text x="152.62" y="147.60" text-anchor="middle" class="lab">110°E</text>
<text x="203.50" y="147.60" text-anchor="middle" class="lab">130°E</text>
<text x="-7.7" y="3.60" text-anchor="end" class="lab">60°N</text>
<text x="-7.7" y="68.35" text-anchor="end" class="lab">35°N</text>
<text x="-7.7" y="133.10" text-anchor="end" class="lab">10°N</text>
<text x="0.8" y="-6.5" class="title">(a) ΔP (CO<tspan dy="3.6" font-size="8">2</tspan><tspan dy="-3.6">x2)</tspan> DJF</text>
</g>
<g transform="translate(280.0,20.0)">
<g clip-path="url(#land)">
<rect x="0" y="0" width="203.5" height="129.5" fill="#dfeeee"/>
<path d="M45.8,53.3L47.1,50.7L48.4,48.6L49.8,47.0L51.3,45.8L52.8,45.0L54.3,44.6L55.7,44.5L57.0,44.6L58.3,45.1L59.2,45.9L59.7,46.9L59.8,48.2L59.6,49.7L59.0,51.2L58.1,52.6L56.9,53.9L55.4,55.2L53.9,56.3L52.3,57.2L50.8,57.9L49.2,58.4L47.9,58.7L46.7,58.7L45.8,58.4L45.0,57.9L44.8,56.9L45.0,55.3Z" fill="#b5dbe7"/>
<path d="M82.9,24.0L83.7,23.4L84.7,23.0L85.7,22.9L86.8,23.0L88.0,23.4L88.8,23.9L89.2,24.6L89.1,25.3L88.7,26.2L88.0,26.9L87.2,27.3L86.1,27.5L84.9,27.5L83.8,27.3L83.1,27.0L82.5,26.5L82.1,25.9L82.1,25.3L82.3,24.7Z" fill="#b5dbe7"/>
<path d="M-1.5,65.5L1.6,66.6L4.5,67.5L7.3,68.4L9.9,69.2L12.5,70.0L14.9,70.7L17.2,71.5L19.4,72.3L21.4,73.0L23.3,73.4L25.1,73.2L26.8,72.7L28.3,71.6L29.7,70.6L31.0,69.6L32.1,68.6L33.2,67.5L34.3,66.7L35.6,66.1L37.0,65.6L38.5,65.4L40.2,65.4L42.0,65.6L43.9,66.2L45.9,66.9L47.8,67.8L49.6,68.9L51.3,70.0L52.8,71.3L54.2,72.8L55.3,74.6L56.3,76.7L57.0,79.0L57.6,81.1L58.0,83.0L58.2,84.7L58.2,86.2L58.0,87.6L57.6,88.9L57.0,90.0L56.3,91.1L55.5,92.0L54.7,92.9L53.9,93.7L53.2,94.5L52.4,95.0L51.6,95.2L50.9,95.2L50.1,95.0L49.3,94.4L48.4,93.5L47.5,92.3L46.4,90.8L45.3,89.5L44.2,88.5L43.0,87.7L41.7,87.2L40.6,86.5L39.5,85.6L38.6,84.5L37.9,83.2L36.9,82.1L35.8,81.1L34.4,80.2L32.9,79.4L31.2,78.9L29.4,78.7L27.5,78.7L25.5,78.9L23.7,79.2L22.2,79.6L20.9,80.0L19.9,80.5L18.8,81.1L17.5,81.8L16.1,82.5L14.5,83.2L13.0,83.9L11.4,84.4L9.9,84.8L8.4,85.0L6.5,85.2L4.2,85.2L1.6,85.0L-1.5,84.8L-3.7,83.3L-5.2,80.6L-6.0,76.8L-6.0,71.7L-5.2,68.1L-3.7,66.0Z" fill="#f4e3a6"/>
<path d="M70.8,69.3L71.7,68.8L72.6,68.5L73.7,68.4L74.9,68.4L76.1,68.7L77.3,69.1L78.4,69.9L79.3,70.9L80.2,72.1L80.8,73.3L80.9,74.3L80.6,75.2L80.0,76.1L79.1,76.6L78.0,76.8L76.8,76.8L75.2,76.5L73.9,75.9L72.7,75.0L71.7,73.8L70.8,72.2L70.3,71.0L70.3,70.0Z" fill="#b5dbe7"/>
<path d="M80.5,108.2L81.1,107.7L81.7,107.4L82.2,107.4L82.6,107.7L83.1,108.2L83.3,108.8L83.3,109.4L83.1,110.1L82.6,110.9L82.2,111.2L81.7,111.2L81.1,110.9L80.5,110.1L80.2,109.4L80.2,108.8Z" fill="#f4e3a6"/>
<path d="M68.3,124.9L69.0,124.1L69.6,123.8L70.1,123.9L70.5,124.5L70.9,125.5L71.1,126.8L71.3,128.3L71.4,130.2L71.4,132.3L71.1,133.9L70.6,135.0L69.9,135.5L68.8,135.5L68.1,134.9L67.6,133.7L67.3,131.9L67.3,129.6L67.5,127.6L67.8,126.0Z" fill="#f4e3a6"/>
<path d="M117.1,106.3L116.9,104.2L117.0,102.1L117.5,100.1L118.4,98.0L119.7,96.0L121.3,93.9L123.2,91.9L125.5,89.8L128.0,87.7L130.4,85.8L132.4,84.2L134.2,82.7L135.8,81.4L137.3,80.5L138.9,80.0L140.4,79.9L142.0,80.1L143.2,80.7L144.1,81.6L144.7,82.8L144.9,84.4L144.8,85.9L144.3,87.5L143.4,89.0L142.1,90.6L140.8,92.2L139.4,94.1L137.9,96.0L136.3,98.0L134.8,99.9L133.2,101.8L131.7,103.4L130.1,105.0L128.6,106.4L127.0,107.7L125.5,108.8L123.9,109.9L122.5,110.5L121.2,110.8L120.1,110.7L119.0,110.2L118.2,109.3L117.6,108.0Z" fill="#f4e3a6"/>
<path d="M134.9,104.9L137.0,104.3L138.9,103.9L140.8,103.9L142.6,104.3L144.4,104.9L145.9,105.9L147.2,107.1L148.3,108.6L149.2,110.4L149.6,112.1L149.4,113.9L148.8,115.6L147.7,117.4L146.3,118.8L144.8,119.9L143.0,120.6L141.0,121.1L139.1,121.1L137.4,120.7L135.7,119.9L134.2,118.8L133.0,117.2L132.3,115.2L131.9,112.9L131.9,110.1L132.4,107.9L133.4,106.2Z" fill="#f4e3a6"/>
<path d="M160.0,95.1L162.0,93.9L164.1,92.7L166.4,91.6L168.8,90.5L171.2,89.5L173.4,88.6L175.3,87.9L176.9,87.2L178.1,86.8L178.9,86.6L179.3,86.9L179.2,87.5L178.8,88.5L177.9,89.6L176.6,90.7L175.0,91.9L173.0,93.1L170.9,94.3L168.6,95.4L166.2,96.5L163.8,97.5L161.7,98.1L160.1,98.4L158.9,98.2L158.1,97.8L158.1,97.1L158.7,96.2Z" fill="#f4e3a6"/>
<path d="M160.6,67.3L164.0,66.8L167.1,66.5L170.1,66.4L172.9,66.5L175.5,66.7L177.6,67.4L179.3,68.4L180.5,69.8L181.3,71.6L181.5,73.3L181.3,75.0L180.5,76.6L179.2,78.2L177.4,79.6L174.9,80.9L171.9,82.0L168.3,83.1L165.3,83.7L162.8,84.0L161.0,83.8L159.7,83.3L158.5,82.5L157.6,81.2L156.9,79.5L156.4,77.4L156.0,75.5L155.7,73.7L155.6,72.0L155.6,70.4L156.4,69.1L158.1,68.1Z" fill="#b5dbe7"/>
<path d="M113.1,81.1L114.2,80.4L115.6,80.0L117.0,79.8L118.6,79.7L120.4,79.8L121.9,80.2L123.1,80.7L124.0,81.5L124.7,82.5L124.8,83.4L124.5,84.3L123.6,85.0L122.1,85.7L120.6,86.2L119.0,86.4L117.4,86.4L115.6,86.3L114.2,85.9L113.1,85.3L112.4,84.5L111.9,83.5L111.9,82.6L112.3,81.8Z" fill="#b5dbe7"/>
<path d="M157.5,104.0L162.5,104.0L166.2,104.4L168.8,105.1L170.0,106.2L170.0,107.8L168.8,108.9L166.2,109.6L162.5,110.0L157.5,110.0L153.8,109.6L151.2,108.9L150.0,107.8L150.0,106.2L151.2,105.1L153.8,104.4Z" fill="#f4e3a6"/>
<path d="M180.6,86.0L184.4,86.0L187.2,89.1L189.1,95.3L190.0,104.6L190.0,116.9L189.1,126.2L187.2,132.4L184.4,135.5L180.6,135.5L177.8,132.4L175.9,126.2L175.0,116.9L175.0,104.6L175.9,95.3L177.8,89.1Z" fill="#f4e3a6"/>
<path d="M186.9,120.0L188.1,120.0L189.1,121.0L189.7,122.9L190.0,125.8L190.0,129.7L189.7,132.6L189.1,134.5L188.1,135.5L186.9,135.5L185.9,134.5L185.3,132.6L185.0,129.7L185.0,125.8L185.3,122.9L185.9,121.0Z" fill="#f8c67c"/>
<path d="M66.4,3.9L68.6,3.1L72.1,2.1L76.9,0.7L82.9,-1.0L90.1,-3.0L102.3,-4.5L119.5,-5.5L141.7,-6.0L168.8,-6.0L189.2,-2.8L202.7,3.6L209.5,13.1L209.5,25.9L208.6,35.9L206.8,43.1L204.1,47.6L200.4,49.4L197.4,51.2L195.0,53.1L193.1,55.0L191.9,57.0L190.3,58.9L188.4,60.6L186.2,62.2L183.8,63.8L181.2,65.0L178.8,66.0L176.2,66.8L173.8,67.2L171.2,67.7L168.8,68.1L166.2,68.4L163.8,68.6L161.1,69.0L158.4,69.5L155.5,70.1L152.5,70.9L149.6,71.8L146.9,72.9L144.2,74.2L141.8,75.8L139.2,77.0L136.8,78.0L134.2,78.8L131.8,79.2L129.2,79.4L126.8,79.3L124.2,78.9L121.8,78.1L119.4,77.2L117.1,76.1L115.0,74.8L113.0,73.2L110.9,71.8L108.8,70.4L106.6,69.1L104.4,67.9L100.1,66.9L93.9,66.1L85.6,65.5L75.4,65.2L67.4,64.4L61.6,63.0L58.1,61.1L56.9,58.7L55.8,55.9L54.9,52.8L54.2,49.4L53.8,45.6L53.4,42.2L53.1,39.2L53.0,36.6L53.0,34.4L53.4,32.4L54.3,30.6L55.6,29.1L57.4,27.9L59.1,26.1L60.7,23.7L62.2,20.8L63.8,17.2L64.7,14.2L65.1,11.6L64.9,9.4L64.1,7.6L64.1,6.1L64.9,4.9ZM112.4,16.6L114.6,16.4L116.8,16.4L118.9,16.8L121.0,17.5L123.0,18.5L124.5,19.9L125.5,21.6L126.0,23.8L126.0,26.2L125.5,28.4L124.5,30.3L123.0,31.9L121.0,33.1L119.0,33.8L117.0,33.8L115.0,33.1L113.0,31.9L111.4,30.1L110.3,27.9L109.6,25.1L109.4,21.9L109.8,19.4L110.8,17.6ZM140.6,39.2L144.4,38.8L148.3,38.4L152.4,38.3L156.8,38.4L161.2,38.6L165.1,39.1L168.4,39.7L171.0,40.5L173.0,41.5L174.2,42.7L174.8,44.1L174.5,45.6L173.5,47.4L171.9,48.8L169.6,49.9L166.8,50.8L163.2,51.2L159.6,51.5L155.9,51.5L152.0,51.2L148.0,50.8L144.5,50.1L141.5,49.4L139.0,48.5L137.0,47.5L135.6,46.4L134.7,45.1L134.4,43.8L134.6,42.2L135.8,41.0L137.8,40.0ZM186.9,13.2L190.1,12.8L193.5,12.5L196.9,12.5L200.4,12.8L204.1,13.2L206.8,14.5L208.6,16.5L209.5,19.2L209.5,22.8L208.3,25.4L205.8,27.1L202.2,28.0L197.3,28.0L193.2,27.6L189.9,26.9L187.4,25.8L185.6,24.2L184.2,22.6L183.2,20.9L182.6,19.0L182.4,17.0L183.0,15.4L184.5,14.1ZM160.2,67.8L163.8,67.2L167.0,66.9L170.0,66.8L172.8,66.9L175.2,67.1L177.3,67.6L178.9,68.3L180.1,69.2L180.9,70.3L181.0,71.4L180.5,72.5L179.4,73.5L177.6,74.5L175.7,75.3L173.6,75.9L171.2,76.4L168.8,76.6L166.3,76.6L163.9,76.4L161.6,75.9L159.4,75.1L157.6,74.2L156.4,73.2L155.6,71.9L155.4,70.6L156.1,69.4L157.7,68.5Z" fill="url(#stip)" fill-rule="evenodd"/>
</g>
<path d="M0.0,0.0L203.5,0.0L203.5,45.1L203.0,47.1L201.7,49.5L200.7,50.8L198.9,51.8L197.4,52.3L196.9,53.9L197.9,54.4L199.2,55.4L199.9,56.5L200.7,57.5L201.5,58.5L202.0,59.6L202.0,62.2L202.0,63.5L201.0,64.5L199.7,65.0L197.6,65.5L195.9,65.8L194.6,66.6L194.1,65.3L194.6,63.5L195.1,62.2L194.6,60.9L193.8,59.8L195.1,58.5L193.6,57.8L191.5,57.8L190.8,56.5L190.0,56.7L191.3,55.4L191.5,53.6L190.3,52.8L189.0,52.1L187.0,52.6L183.9,53.6L181.1,54.9L181.9,53.1L183.2,51.0L182.6,49.5L180.6,49.7L179.3,51.0L177.0,52.1L175.5,53.9L173.7,54.4L172.2,54.6L172.5,56.2L174.2,57.0L175.5,57.8L176.3,59.3L178.8,58.3L180.1,57.5L181.9,58.3L184.4,58.5L183.7,59.8L180.6,60.9L178.8,62.2L176.8,63.5L176.0,65.3L178.6,66.6L179.8,69.9L180.6,71.2L182.9,73.3L182.6,75.1L180.6,76.1L182.1,77.7L183.2,78.2L182.1,80.3L181.6,81.6L180.1,83.4L178.6,85.5L177.0,88.1L176.0,89.6L174.2,91.7L173.0,92.2L170.9,94.3L169.2,95.6L166.6,96.3L164.1,97.1L162.8,97.6L161.5,97.9L159.0,98.9L156.4,99.7L153.9,100.5L153.4,102.8L152.1,101.5L151.6,99.7L148.8,99.2L147.5,99.7L145.8,101.0L144.0,102.0L142.4,104.1L141.7,106.2L142.4,108.3L144.0,110.1L146.5,112.7L148.0,114.0L149.8,116.3L150.6,119.7L150.8,121.7L150.6,123.8L150.6,124.6L150.1,125.6L147.8,127.2L145.2,128.5L144.2,129.5L139.4,129.5L138.6,128.5L136.3,128.2L135.1,126.4L134.6,125.1L133.0,123.8L131.0,122.8L129.5,122.5L129.5,120.7L128.5,120.4L127.2,121.0L127.1,123.0L126.2,124.8L125.4,126.9L125.2,128.7L124.9,129.5L123.6,129.5L123.9,126.9L123.9,124.8L123.6,123.0L122.6,121.0L122.4,119.1L121.3,116.5L121.1,113.2L120.3,111.6L119.0,111.9L117.8,112.7L115.7,114.2L114.0,114.5L112.7,114.0L113.2,110.6L112.7,107.5L111.7,106.2L110.7,104.9L109.4,103.6L108.4,102.3L107.6,101.3L106.8,99.7L106.3,97.6L105.6,96.9L104.3,97.1L103.0,98.2L102.0,98.7L100.5,98.9L99.2,99.2L97.9,99.2L96.9,99.2L95.6,99.5L94.1,100.0L93.9,101.8L93.4,102.8L91.1,104.1L89.3,105.4L88.3,106.2L86.7,108.0L84.7,109.6L82.2,111.9L82.2,112.7L79.4,113.4L78.9,114.7L76.8,115.3L76.6,117.8L77.1,121.0L76.8,123.0L75.8,124.8L75.8,127.2L75.9,128.7L74.5,129.5L66.6,129.5L65.6,126.4L64.1,123.8L63.1,122.0L62.1,118.4L60.5,115.3L59.3,111.9L58.5,108.8L58.0,106.2L57.7,103.6L58.0,101.0L57.5,97.9L56.5,99.2L56.2,100.5L54.7,101.5L52.9,101.5L51.4,100.5L49.9,98.9L48.3,97.4L49.9,97.1L51.6,96.1L50.1,96.3L47.8,95.6L46.8,94.3L44.5,93.5L43.8,91.4L42.5,90.9L42.2,89.6L39.4,89.9L36.9,90.1L34.3,90.1L31.3,90.4L29.5,90.1L27.0,89.6L24.2,89.6L22.1,89.1L19.8,88.8L18.6,87.3L17.8,85.5L16.0,85.0L14.0,86.2L12.2,86.8L10.2,86.2L8.9,85.7L6.6,84.4L3.8,83.1L2.0,80.5L1.3,79.0L0.5,77.7L0.0,77.2L0.0,59.3L1.3,59.6L2.5,60.1L4.6,60.6L6.4,60.3L8.9,59.8L10.2,60.1L9.9,58.5L9.7,57.0L9.9,54.9L8.1,53.6L9.4,52.8L8.9,51.5L7.1,51.8L7.1,50.2L7.4,48.7L6.9,47.1L6.1,45.8L4.3,44.3L3.3,43.5L3.1,42.5L2.0,41.2L0.8,40.4L2.0,39.9L3.3,39.4L3.8,38.3L6.4,38.3L8.9,38.9L10.7,37.8L10.2,36.3L8.4,34.7L6.4,33.9L4.8,33.5L3.1,33.7L1.0,34.2L0.0,34.7ZM0.0,86.0L0.5,86.5L0.3,87.5L0.5,89.1L1.5,90.6L2.0,91.4L2.0,89.1L3.1,87.5L4.1,88.3L4.1,90.1L3.6,91.7L4.1,92.5L6.4,92.7L8.9,93.0L11.2,92.2L13.5,90.1L15.3,88.8L15.5,87.5L16.3,87.0L16.3,88.6L16.0,90.1L16.8,92.2L18.6,93.5L20.9,94.3L22.4,95.3L24.2,96.9L24.9,97.4L24.2,98.9L22.9,100.5L21.9,102.3L19.8,103.1L19.8,105.7L19.1,106.4L17.3,107.2L16.0,109.0L14.0,109.8L13.2,111.1L10.4,111.4L7.9,112.1L5.6,114.0L5.6,115.0L3.8,115.8L1.3,116.5L0.0,116.8ZM180.6,90.4L181.9,89.9L183.2,90.6L182.6,92.2L182.1,93.8L181.6,95.6L180.6,96.9L180.2,98.7L179.6,97.6L178.8,96.9L178.3,95.8L178.4,94.0L179.3,92.5L180.4,91.2ZM152.6,103.3L154.4,103.3L155.2,104.4L154.2,105.7L153.9,106.7L152.6,107.7L151.4,108.3L149.8,107.5L149.1,105.9L149.3,104.6L150.6,103.9L151.6,103.6ZM203.5,67.6L203.0,68.6L202.5,69.2L203.0,69.9L203.0,71.0L203.5,71.2L203.5,67.6ZM193.8,68.9L194.6,68.5L195.6,68.6L195.4,69.3L194.1,69.4ZM179.6,107.5L180.6,107.2L182.9,108.0L183.7,107.5L183.9,110.6L184.4,112.7L182.1,114.5L182.1,116.5L182.4,118.6L183.7,118.9L185.2,118.6L186.5,119.4L187.7,119.7L188.5,121.7L188.2,122.8L187.0,122.0L185.7,121.5L184.4,120.4L182.6,119.4L181.1,119.9L179.8,119.7L179.6,118.4L180.4,117.6L179.6,117.1L178.6,117.1L178.1,115.8L177.6,113.7L178.6,113.7L179.1,111.9L179.1,110.1ZM179.1,120.4L181.1,120.7L181.9,121.7L181.6,123.5L180.6,123.5L179.3,121.7ZM183.2,124.8L185.2,125.4L185.9,126.4L184.7,127.7L183.2,128.2L182.9,126.4ZM185.4,127.2L187.0,127.2L186.5,129.5L185.2,129.5ZM187.7,126.4L188.5,127.9L188.0,129.5L187.2,128.7ZM189.0,125.6L190.8,126.4L191.3,128.7L190.3,129.5L189.3,127.7ZM189.0,123.0L190.8,122.8L192.3,123.8L192.8,126.9L190.8,126.7L189.8,125.4ZM176.3,125.9L177.6,127.7L176.3,129.5L174.8,129.5L176.0,127.2ZM186.2,123.3L187.7,123.5L188.2,124.6L187.0,124.3Z" fill="none" stroke="#9a9a9a" stroke-width="0.5"/>
<path d="M21.1,34.7L24.9,35.5L28.5,34.7L29.5,37.6L26.7,40.7L23.7,42.5L21.6,41.4L21.1,38.1Z" fill="none" stroke="#9a9a9a" stroke-width="0.5"/><path d="M59.8,35.0L62.3,33.9L64.9,34.7L68.7,35.2L72.5,34.4L74.3,35.0L71.2,36.3L67.4,36.5L63.6,36.0L61.6,38.3L59.8,38.1Z" fill="none" stroke="#9a9a9a" stroke-width="0.5"/><path d="M136.6,21.5L138.6,21.8L142.4,19.9L146.3,17.4L150.1,13.5L152.1,11.1L150.8,10.9L147.5,14.0L143.7,17.6L139.9,19.7L137.4,20.7Z" fill="none" stroke="#9a9a9a" stroke-width="0.5"/><path d="M66.6,45.3L69.2,44.5L72.0,45.1L71.2,46.1L68.7,45.8Z" fill="none" stroke="#9a9a9a" stroke-width="0.5"/><path d="M126.2,59.6L128.0,59.1L129.2,59.8L127.7,60.6Z" fill="none" stroke="#9a9a9a" stroke-width="0.5"/>
<path d="M36.9,66.8L44.8,66.6L52.7,65.5L61.0,66.8L65.1,69.7L70.0,73.8L75.0,77.2L79.9,79.8L85.0,81.6L92.6,82.6L95.9,83.9L102.8,83.4L111.9,81.6L117.0,80.3L120.1,84.7L128.0,87.8L132.8,81.6L136.1,75.1L137.6,68.6L134.3,59.1L128.0,54.4L123.1,53.1L112.4,51.0L105.1,51.8L99.0,53.6L90.0,56.5L80.9,58.3L73.8,58.3L68.4,54.6L63.1,51.0L53.9,51.0L45.0,53.6L40.7,58.3L38.2,62.2ZM50.4,46.6L55.7,44.8L63.1,43.8L72.0,42.0L80.9,41.2L90.0,40.1L99.0,41.2L99.0,44.5L90.0,45.6L73.8,46.6L63.1,49.2L50.4,49.2Z" fill="none" stroke="#a8a8a8" stroke-width="0.8" stroke-linejoin="round"/>
<rect x="38.16" y="25.90" width="63.59" height="38.85" fill="none" stroke="#3aa655" stroke-width="1"/>
<rect x="0" y="0" width="203.5" height="129.5" fill="none" stroke="#7f7f7f" stroke-width="1.3"/>
<line x1="0.00" y1="129.5" x2="0.00" y2="133.5" stroke="#7f7f7f" stroke-width="1.2"/>
<line x1="25.44" y1="129.5" x2="25.44" y2="131.7" stroke="#7f7f7f" stroke-width="1.2"/>
<line x1="50.88" y1="129.5" x2="50.88" y2="133.5" stroke="#7f7f7f" stroke-width="1.2"/>
<line x1="76.31" y1="129.5" x2="76.31" y2="131.7" stroke="#7f7f7f" stroke-width="1.2"/>
<line x1="101.75" y1="129.5" x2="101.75" y2="133.5" stroke="#7f7f7f" stroke-width="1.2"/>
<line x1="127.19" y1="129.5" x2="127.19" y2="131.7" stroke="#7f7f7f" stroke-width="1.2"/>
<line x1="152.62" y1="129.5" x2="152.62" y2="133.5" stroke="#7f7f7f" stroke-width="1.2"/>
<line x1="178.06" y1="129.5" x2="178.06" y2="131.7" stroke="#7f7f7f" stroke-width="1.2"/>
<line x1="203.50" y1="129.5" x2="203.50" y2="133.5" stroke="#7f7f7f" stroke-width="1.2"/>
<line x1="-4" y1="0.00" x2="0" y2="0.00" stroke="#7f7f7f" stroke-width="1.2"/>
<line x1="-2.2" y1="32.38" x2="0" y2="32.38" stroke="#7f7f7f" stroke-width="1.2"/>
<line x1="-4" y1="64.75" x2="0" y2="64.75" stroke="#7f7f7f" stroke-width="1.2"/>
<line x1="-2.2" y1="97.12" x2="0" y2="97.12" stroke="#7f7f7f" stroke-width="1.2"/>
<line x1="-4" y1="129.50" x2="0" y2="129.50" stroke="#7f7f7f" stroke-width="1.2"/>
<text x="0.00" y="147.60" text-anchor="middle" class="lab">50°E</text>
<text x="50.88" y="147.60" text-anchor="middle" class="lab">70°E</text>
<text x="101.75" y="147.60" text-anchor="middle" class="lab">90°E</text>
<text x="152.62" y="147.60" text-anchor="middle" class="lab">110°E</text>
<text x="203.50" y="147.60" text-anchor="middle" class="lab">130°E</text>
<text x="-7.7" y="3.60" text-anchor="end" class="lab">60°N</text>
<text x="-7.7" y="68.35" text-anchor="end" class="lab">35°N</text>
<text x="-7.7" y="133.10" text-anchor="end" class="lab">10°N</text>
<text x="0.8" y="-6.5" class="title">(b) ΔP (CH<tspan dy="3.6" font-size="8">4</tspan><tspan dy="-3.6">x3)</tspan> DJF</text>
</g>
<g transform="translate(33.0,195.3)">
<g clip-path="url(#land)">
<rect x="0" y="0" width="203.5" height="129.5" fill="#dfeeee"/>
<path d="M74.8,-6.0L128.7,-6.0L169.1,-2.2L196.0,5.4L209.5,16.9L209.5,32.1L208.6,43.8L206.8,51.8L204.1,56.1L200.4,56.9L197.1,57.7L194.0,58.6L191.2,59.5L188.8,60.5L186.6,61.6L184.9,62.9L183.5,64.2L182.5,65.8L181.8,67.4L181.2,69.1L181.0,71.0L181.0,73.0L181.0,75.0L181.1,77.0L181.1,79.0L181.3,81.0L181.1,83.0L180.6,85.0L179.9,87.0L178.8,89.0L177.4,90.8L175.6,92.4L173.4,93.9L170.9,95.1L168.2,96.1L165.3,96.7L162.4,97.0L159.2,97.0L156.6,96.7L154.5,96.2L152.9,95.5L151.7,94.4L150.7,93.2L149.9,91.6L149.2,89.8L148.8,87.7L148.2,85.9L147.6,84.3L146.9,83.1L146.1,82.0L144.9,81.3L143.3,80.8L141.2,80.5L138.8,80.5L136.2,80.5L133.8,80.4L131.2,80.3L128.8,80.2L126.1,80.0L123.2,79.8L120.1,79.4L116.9,79.1L113.9,78.5L111.3,77.8L109.0,76.8L107.0,75.7L104.9,74.6L102.8,73.5L100.6,72.5L98.4,71.5L96.1,70.6L93.7,69.9L91.2,69.2L88.8,68.8L86.2,68.3L83.8,67.9L81.2,67.6L78.8,67.4L76.2,67.1L73.8,66.9L71.2,66.6L68.8,66.4L66.6,66.1L64.7,65.8L63.1,65.4L61.9,65.1L60.4,64.7L58.8,64.2L57.0,63.8L55.0,63.2L53.1,62.8L51.2,62.3L49.4,61.9L47.6,61.6L46.1,60.9L44.7,60.0L43.5,58.8L42.5,57.2L41.8,55.5L41.4,53.5L41.4,51.2L41.6,48.8L42.0,46.5L42.5,44.5L43.1,42.7L43.9,41.1L44.1,39.8L43.9,38.7L43.1,37.8L41.9,37.0L40.3,36.4L38.4,35.8L36.2,35.2L33.8,34.8L31.2,34.3L28.8,33.9L26.2,33.6L23.8,33.4L20.2,33.2L15.8,33.1L10.2,33.0L3.8,33.0L-1.1,30.6L-4.4,25.7L-6.0,18.4L-6.0,8.6L7.5,1.3L34.4,-3.6Z" fill="#b5dbe7"/>
<path d="M115.4,43.3L119.1,42.2L122.4,41.0L125.4,39.9L128.1,38.7L130.4,37.6L132.9,36.5L135.6,35.7L138.3,34.9L141.2,34.4L144.1,33.6L147.0,32.8L149.9,31.7L152.9,30.6L155.5,29.4L157.9,28.2L159.9,27.0L161.7,25.9L164.0,24.8L166.9,24.0L170.4,23.2L174.5,22.7L178.4,22.1L181.9,21.5L185.1,20.9L188.0,20.3L191.3,20.0L194.9,20.0L198.8,20.3L203.1,20.9L206.3,21.9L208.4,23.2L209.5,24.9L209.5,26.9L208.7,28.8L207.0,30.6L204.4,32.2L201.1,33.8L198.2,35.4L195.7,37.3L193.8,39.4L192.2,41.6L190.9,43.8L189.6,45.8L188.5,47.6L187.5,49.4L185.8,50.8L183.2,51.9L180.0,52.8L176.0,53.2L171.8,53.6L167.2,53.9L162.5,54.0L157.5,54.0L152.5,53.9L147.5,53.8L142.5,53.6L137.5,53.4L132.8,53.0L128.4,52.5L124.4,51.9L120.6,51.1L117.5,50.2L115.0,49.2L113.1,48.1L111.9,46.9L111.8,45.7L113.0,44.5Z" fill="#dfeeee"/>
<path d="M81.5,42.9L84.1,42.1L86.9,41.5L90.0,41.2L93.2,40.9L96.8,40.9L99.5,41.3L101.5,42.2L102.8,43.5L103.2,45.3L103.4,47.2L103.1,49.2L102.5,51.4L101.5,53.6L100.1,55.5L98.4,56.8L96.2,57.8L93.8,58.4L91.2,58.6L88.8,58.5L86.2,58.0L83.8,57.2L81.7,55.8L80.2,54.0L79.1,51.5L78.5,48.5L78.7,46.1L79.7,44.2Z" fill="#dfeeee"/>
<path d="M74.8,-6.0L128.7,-6.0L169.1,-5.0L196.0,-3.0L209.5,0.0L209.5,4.1L208.0,7.2L205.0,9.5L200.5,11.0L194.4,11.5L189.0,12.0L184.3,12.5L180.1,12.8L176.6,13.2L173.4,13.6L170.4,14.2L167.8,14.9L165.5,15.8L163.4,16.7L161.7,17.8L160.2,18.9L159.1,20.0L157.6,21.2L155.8,22.4L153.8,23.6L151.4,24.7L149.1,25.8L146.7,26.6L144.4,27.4L142.0,27.9L139.7,28.5L137.3,29.1L135.0,29.7L132.7,30.2L129.8,30.8L126.3,31.4L122.2,32.0L117.5,32.6L112.5,33.0L107.2,33.4L101.6,33.5L95.8,33.5L90.9,33.3L87.2,32.8L84.4,32.2L82.6,31.3L80.1,30.5L76.7,29.8L72.5,29.1L67.5,28.4L62.5,27.9L57.5,27.6L52.5,27.3L47.5,27.2L42.5,27.1L37.5,27.0L32.5,27.0L27.5,27.0L22.1,27.0L16.4,27.0L10.2,27.0L3.8,27.0L-1.1,24.9L-4.4,20.8L-6.0,14.6L-6.0,6.4L7.5,0.2L34.4,-3.9Z" fill="#8ec5de"/>
<path d="M58.2,18.4L59.8,18.1L61.4,17.8L63.1,17.7L65.0,17.7L67.0,17.8L68.7,18.2L70.1,18.7L71.1,19.5L71.9,20.5L72.2,21.5L72.2,22.5L71.9,23.5L71.1,24.5L70.1,25.3L68.7,25.8L67.0,26.2L65.0,26.3L63.2,26.2L61.6,26.0L60.1,25.6L58.9,24.9L57.9,24.2L57.1,23.2L56.6,22.1L56.4,20.9L56.6,19.8L57.2,19.0Z" fill="#b5dbe7"/>
<path d="M52.9,-6.0L72.1,-6.0L86.6,-5.3L96.2,-3.9L101.0,-1.9L101.0,0.9L99.7,3.1L97.1,4.7L93.1,5.8L87.9,6.2L82.7,6.6L77.6,6.7L72.5,6.6L67.5,6.4L62.5,6.3L57.5,6.4L52.5,6.8L47.5,7.2L42.8,7.6L38.2,7.9L34.0,8.0L30.0,8.0L27.0,7.1L25.0,5.4L24.0,2.8L24.0,-0.8L28.8,-3.4L38.4,-5.1Z" fill="#6ea8d2"/>
<path d="M5.4,-6.0L13.1,-6.0L18.8,-5.1L22.6,-3.3L24.5,-0.7L24.5,2.9L24.2,6.0L23.7,8.8L23.0,11.2L21.9,13.3L20.7,15.0L19.1,16.6L17.3,17.8L15.3,18.9L13.2,19.6L11.2,20.0L9.2,20.0L7.1,19.8L5.0,19.5L2.7,19.3L0.3,19.0L-2.2,18.8L-4.1,17.1L-5.4,13.9L-6.0,9.2L-6.0,3.1L-4.1,-1.4L-0.3,-4.5Z" fill="#6ea8d2"/>
<path d="M99.4,-6.0L107.6,-6.0L114.1,-5.2L118.9,-3.8L121.9,-1.5L123.1,1.5L123.6,4.2L123.4,6.8L122.4,9.0L120.6,11.0L118.5,12.9L116.0,14.6L113.1,16.2L109.9,17.8L106.8,19.1L103.9,20.4L101.2,21.5L98.8,22.5L96.6,23.1L94.7,23.4L93.1,23.2L91.9,22.8L90.8,20.6L89.8,16.9L88.9,11.5L88.1,4.5L89.6,-0.8L93.4,-4.2Z" fill="#6ea8d2"/>
<path d="M72.6,-6.0L76.4,-6.0L79.1,-5.2L80.9,-3.8L81.6,-1.5L81.4,1.5L80.8,3.9L79.8,5.6L78.4,6.8L76.6,7.2L74.9,7.4L73.3,7.3L71.8,6.9L70.2,6.1L69.1,4.9L68.2,3.1L67.6,0.9L67.4,-1.9L68.1,-3.9L69.9,-5.3Z" fill="#6ea8d2"/>
<path d="M80.9,21.5L81.7,20.5L82.7,19.7L83.7,19.1L84.9,18.8L86.1,18.6L87.3,18.7L88.4,19.1L89.4,19.8L90.4,20.6L91.0,21.6L91.2,22.7L91.1,23.9L90.7,25.1L90.0,26.2L89.0,27.0L87.8,27.6L86.2,28.0L84.9,28.2L83.7,28.1L82.7,27.8L81.8,27.3L81.1,26.7L80.6,26.0L80.2,25.2L79.9,24.3L80.0,23.4L80.3,22.5Z" fill="#4e7fbb"/>
<path d="M50.8,46.2L53.6,44.4L56.5,42.7L59.6,41.1L63.0,39.7L66.6,38.3L69.8,36.9L72.6,35.5L75.0,33.9L77.0,32.4L79.1,30.9L81.4,29.6L83.8,28.5L86.2,27.5L88.9,26.7L91.7,26.1L94.7,25.6L97.8,25.4L100.2,25.5L102.0,26.0L103.1,26.9L103.4,28.1L103.6,29.8L103.6,31.9L103.4,34.4L103.1,37.3L101.4,39.7L98.6,41.6L94.4,43.0L89.1,43.9L83.9,45.1L79.0,46.4L74.2,48.0L69.8,49.8L65.5,51.4L61.4,52.7L57.6,53.8L54.0,54.8L51.2,55.0L49.2,54.5L47.9,53.4L47.5,51.6L47.8,49.8L48.9,48.0Z" fill="#8ec5de"/>
<path d="M5.8,69.4L8.4,69.2L11.1,68.9L13.9,68.7L16.8,68.4L19.9,68.2L22.8,67.9L25.6,67.5L28.3,67.0L30.9,66.5L33.2,66.0L35.2,65.6L37.0,65.3L38.5,65.1L40.2,65.1L42.0,65.5L43.9,66.2L45.9,67.3L47.7,68.3L49.3,69.5L50.5,70.7L51.6,72.0L52.8,72.9L54.4,73.6L56.1,73.9L58.2,73.9L59.8,73.5L61.1,72.8L62.0,71.6L62.5,70.1L63.4,69.1L64.7,68.7L66.3,68.9L68.4,69.7L70.8,70.6L73.6,71.6L76.8,72.8L80.3,74.1L84.0,75.3L87.9,76.4L91.8,77.5L95.9,78.5L99.2,79.2L101.7,79.6L103.5,79.6L104.5,79.4L105.4,79.4L106.1,79.6L106.8,80.1L107.2,80.9L107.5,81.7L107.5,82.6L107.2,83.5L106.8,84.5L106.1,85.3L105.4,86.0L104.5,86.4L103.5,86.8L101.7,87.0L99.2,87.3L95.9,87.6L91.8,87.8L87.9,88.1L84.0,88.5L80.3,89.0L76.8,89.5L73.6,90.1L70.8,90.8L68.4,91.7L66.3,92.8L64.6,93.8L63.0,94.8L61.8,95.8L60.7,96.9L59.8,97.9L59.1,98.9L58.4,99.9L57.9,101.0L57.2,101.6L56.5,101.8L55.6,101.7L54.6,101.2L53.6,100.5L52.6,99.8L51.6,98.9L50.5,97.9L49.5,96.9L48.5,95.9L47.5,94.9L46.4,93.8L45.2,92.9L43.6,92.2L41.8,91.5L39.8,91.0L37.7,90.5L35.7,90.1L33.7,89.8L31.6,89.6L30.0,89.2L28.7,88.7L27.8,88.0L27.3,87.3L26.6,86.0L25.9,84.4L25.0,82.3L23.9,79.8L22.8,77.8L21.5,76.2L20.1,75.2L18.6,74.7L16.9,74.2L15.2,73.8L13.3,73.5L11.2,73.3L9.3,73.0L7.5,72.8L5.9,72.5L4.3,72.3L3.2,72.0L2.4,71.6L2.0,71.1L2.0,70.6L2.6,70.1L3.9,69.7Z" fill="#f4e3a6"/>
<path d="M67.5,74.2L68.5,73.8L70.0,73.4L72.0,73.2L74.5,73.2L77.5,73.3L80.4,73.6L83.1,74.1L85.8,74.8L88.2,75.7L90.8,76.5L93.2,77.3L95.8,78.1L98.2,78.9L100.4,79.5L102.3,79.9L103.9,80.2L105.1,80.3L106.1,80.8L106.9,81.5L107.4,82.6L107.6,83.9L107.4,85.0L106.8,85.8L105.8,86.2L104.2,86.3L102.5,86.4L100.5,86.4L98.2,86.3L95.8,86.2L93.2,86.0L90.8,85.8L88.2,85.4L85.8,85.1L83.2,84.6L80.8,84.0L78.2,83.4L75.8,82.6L73.6,81.9L71.7,81.2L70.1,80.6L68.9,79.9L67.9,79.2L67.1,78.4L66.6,77.5L66.4,76.5L66.4,75.6L66.8,74.9Z" fill="#f8c67c"/>
<path d="M73.0,75.8L75.0,75.7L77.0,75.8L79.0,76.2L81.0,76.8L83.0,77.7L85.1,78.5L87.2,79.3L89.4,80.1L91.6,80.9L93.8,81.5L95.8,82.0L97.6,82.4L99.4,82.6L100.8,83.0L101.9,83.4L102.8,83.9L103.2,84.6L103.1,85.0L102.4,85.2L101.0,85.3L99.0,85.2L96.8,85.0L94.4,84.7L91.9,84.2L89.1,83.8L86.5,83.3L84.0,82.8L81.6,82.4L79.4,82.1L77.4,81.7L75.6,81.2L74.1,80.8L72.9,80.2L71.9,79.7L71.1,79.0L70.6,78.2L70.4,77.3L70.7,76.6L71.6,76.1Z" fill="#f5a35f"/>
<path d="M88.1,94.0L89.6,93.3L91.4,92.8L93.5,92.5L95.8,92.4L98.2,92.4L100.2,92.7L101.8,93.1L102.8,93.8L103.2,94.7L103.4,95.5L103.1,96.2L102.5,96.9L101.5,97.5L100.2,98.0L98.8,98.3L97.0,98.6L95.0,98.6L93.1,98.5L91.3,98.1L89.6,97.4L88.1,96.4L87.3,95.5L87.3,94.7Z" fill="#b5dbe7"/>
<path d="M96.9,94.6L98.1,94.4L99.2,94.3L100.1,94.4L100.8,94.8L101.2,95.2L101.4,95.7L101.1,96.1L100.5,96.4L99.5,96.6L98.6,96.7L97.7,96.6L96.9,96.2L96.1,95.8L95.9,95.3L96.1,94.9Z" fill="#8ec5de"/>
<path d="M80.5,109.5L81.1,109.1L81.7,109.0L82.2,109.0L82.6,109.3L83.1,109.8L83.3,110.3L83.3,110.8L83.1,111.3L82.6,111.9L82.2,112.1L81.7,112.1L81.1,111.7L80.5,111.0L80.2,110.4L80.2,109.9Z" fill="#f4e3a6"/>
<path d="M68.7,127.4L69.6,127.1L70.6,126.9L71.6,126.9L72.7,127.1L73.8,127.4L74.7,128.2L75.2,129.3L75.5,130.8L75.5,132.7L75.0,134.1L74.0,135.0L72.4,135.5L70.4,135.5L68.8,135.0L67.8,134.1L67.3,132.7L67.3,130.8L67.5,129.3L68.0,128.2Z" fill="#f4e3a6"/>
<path d="M156.4,65.0L159.0,64.5L161.9,64.2L164.9,64.2L168.3,64.5L171.9,65.0L174.9,65.9L177.2,67.2L178.8,68.9L179.9,70.9L180.4,73.1L180.4,75.4L179.9,77.9L178.8,80.4L177.6,82.8L176.0,84.8L174.2,86.6L172.1,88.2L169.8,89.5L167.2,90.5L164.4,91.3L161.3,91.8L158.7,91.7L156.5,90.9L154.8,89.5L153.4,87.4L152.5,85.1L151.8,82.5L151.5,79.6L151.5,76.5L151.6,73.8L151.7,71.5L151.9,69.6L152.1,68.1L153.0,66.8L154.4,65.8Z" fill="#8ec5de"/>
<path d="M162.0,74.7L162.8,73.8L163.8,73.1L164.9,72.6L166.2,72.3L167.8,72.2L169.1,72.3L170.2,72.6L171.2,73.1L172.0,73.9L172.5,74.7L172.6,75.7L172.4,76.7L171.8,77.8L171.0,78.7L170.0,79.3L168.8,79.8L167.2,79.9L165.9,80.0L164.7,79.9L163.7,79.8L162.8,79.4L162.1,79.0L161.6,78.5L161.2,77.9L161.1,77.1L161.1,76.3L161.4,75.5Z" fill="#6ea8d2"/>
<path d="M110.8,82.8L111.7,81.9L112.7,81.1L113.9,80.6L115.2,80.2L116.8,80.0L118.2,80.0L119.7,80.3L121.1,80.8L122.4,81.4L123.4,82.3L124.0,83.2L124.1,84.2L123.9,85.3L123.3,86.3L122.3,87.1L121.1,87.8L119.4,88.2L117.8,88.6L116.3,88.7L114.8,88.6L113.2,88.4L112.0,88.0L111.1,87.3L110.4,86.6L110.1,85.6L110.0,84.7L110.2,83.7Z" fill="#6ea8d2"/>
<path d="M113.8,83.1L114.7,82.4L115.7,82.0L116.7,81.8L117.9,81.7L119.1,81.8L120.2,82.1L121.0,82.5L121.6,83.1L121.9,83.9L122.0,84.6L121.8,85.3L121.2,85.9L120.3,86.6L119.3,87.0L118.3,87.2L117.1,87.3L115.9,87.2L114.8,86.9L114.0,86.5L113.4,85.9L113.1,85.1L113.0,84.4L113.2,83.7Z" fill="#4e7fbb"/>
<path d="M115.4,83.4L116.1,83.1L116.7,82.8L117.4,82.8L118.1,82.9L118.9,83.1L119.4,83.5L119.7,83.9L119.8,84.4L119.7,85.1L119.4,85.6L119.0,85.9L118.4,86.2L117.6,86.3L116.9,86.2L116.3,86.0L115.8,85.6L115.2,84.9L115.0,84.4L115.1,83.9Z" fill="#2a4ea0"/>
<path d="M103.6,72.6L105.4,72.4L107.0,72.4L108.6,72.6L110.0,73.1L111.4,73.9L112.3,74.8L112.8,75.8L112.9,76.9L112.5,78.1L111.9,79.2L111.0,80.1L109.8,80.9L108.2,81.4L106.8,81.8L105.4,81.9L104.1,81.8L102.9,81.5L101.9,80.7L101.3,79.6L101.0,78.0L101.0,76.0L101.4,74.4L102.3,73.3Z" fill="#f4e3a6"/>
<path d="M131.4,87.5L132.5,86.5L133.6,85.7L134.9,85.1L136.2,84.7L137.8,84.6L139.0,84.7L140.0,85.0L140.8,85.7L141.4,86.6L141.6,87.6L141.6,88.7L141.4,89.9L140.8,91.1L140.0,92.2L139.0,93.0L137.8,93.6L136.2,94.0L134.9,94.2L133.6,94.2L132.5,94.0L131.5,93.6L130.7,93.1L130.2,92.3L130.0,91.5L129.9,90.5L130.2,89.5L130.7,88.5Z" fill="#f4e3a6"/>
<path d="M116.8,106.3L117.6,105.2L118.7,104.3L120.0,103.7L121.5,103.3L123.2,103.2L124.3,103.4L125.0,104.0L125.1,104.9L124.6,106.1L124.0,107.3L123.2,108.3L122.1,109.2L120.9,109.9L119.7,110.3L118.6,110.3L117.6,109.9L116.8,109.2L116.3,108.3L116.3,107.3Z" fill="#f4e3a6"/>
<path d="M137.9,126.5L139.1,126.1L140.4,125.9L141.7,125.9L143.0,126.1L144.4,126.5L145.4,127.3L146.1,128.5L146.4,130.2L146.4,132.3L145.8,133.9L144.5,135.0L142.5,135.5L139.9,135.5L137.9,135.0L136.7,133.9L136.0,132.3L136.0,130.2L136.3,128.5L136.9,127.3Z" fill="#f4e3a6"/>
<path d="M103.2,92.9L104.8,92.8L106.3,92.8L107.8,93.1L109.4,93.5L111.0,94.1L112.0,94.8L112.4,95.6L112.1,96.4L111.3,97.4L110.2,98.1L108.9,98.5L107.4,98.7L105.6,98.6L104.2,98.2L103.1,97.5L102.2,96.4L101.8,95.1L101.8,94.0L102.2,93.3Z" fill="#b5dbe7"/>
<path d="M147.9,112.0L149.1,112.0L150.1,112.9L150.7,114.6L151.0,117.2L151.0,120.8L150.7,123.4L150.1,125.1L149.1,126.0L147.9,126.0L146.9,125.1L146.3,123.4L146.0,120.8L146.0,117.2L146.3,114.6L146.9,112.9Z" fill="#b5dbe7"/>
<path d="M179.9,88.0L181.1,88.0L182.1,88.5L182.7,89.5L183.0,91.0L183.0,93.0L182.7,94.5L182.1,95.5L181.1,96.0L179.9,96.0L178.9,95.5L178.3,94.5L178.0,93.0L178.0,91.0L178.3,89.5L178.9,88.5Z" fill="#f5a35f"/>
<path d="M182.5,108.0L185.5,108.0L187.8,109.7L189.2,113.2L190.0,118.3L190.0,125.2L189.2,130.3L187.8,133.8L185.5,135.5L182.5,135.5L180.2,133.8L178.8,130.3L178.0,125.2L178.0,118.3L178.8,113.2L180.2,109.7Z" fill="#b5dbe7"/>
<path d="M74.8,-6.0L128.7,-6.0L169.1,-2.1L196.0,5.6L209.5,17.2L209.5,32.8L208.3,44.5L205.8,52.5L202.2,56.8L197.3,57.2L192.7,57.8L188.4,58.2L184.4,58.8L180.6,59.2L177.2,59.8L174.1,60.4L171.2,61.1L168.8,61.9L166.6,63.0L164.7,64.5L163.1,66.4L161.9,68.6L160.3,70.3L158.4,71.4L156.2,72.0L153.8,72.0L151.2,72.0L148.8,72.0L146.2,72.0L143.8,72.0L141.0,72.0L138.0,72.0L134.8,72.0L131.2,72.0L128.4,71.6L126.1,70.9L124.5,69.8L123.5,68.2L122.0,67.0L120.0,66.0L117.5,65.2L114.5,64.8L111.9,64.6L109.6,64.9L107.8,65.5L106.2,66.5L104.6,67.4L102.7,68.1L100.6,68.8L98.4,69.2L95.8,69.5L92.8,69.5L89.4,69.2L85.6,68.8L82.5,68.1L80.0,67.2L78.1,66.1L76.9,64.9L75.5,63.6L74.0,62.4L72.4,61.1L70.6,59.9L68.9,58.6L67.3,57.2L65.8,55.8L64.2,54.2L62.9,52.8L61.6,51.2L60.5,49.8L59.5,48.2L58.2,46.9L56.8,45.6L55.0,44.5L53.0,43.5L51.2,42.5L49.6,41.5L48.1,40.5L46.9,39.5L45.9,38.6L45.3,37.7L45.0,36.9L45.0,36.1L44.1,35.5L42.2,35.1L39.4,34.8L35.6,34.7L30.6,34.6L24.2,34.5L16.5,34.5L7.5,34.5L0.8,32.0L-3.8,26.9L-6.0,19.3L-6.0,9.2L7.5,1.6L34.4,-3.5Z" fill="url(#stip)" fill-rule="evenodd"/>
</g>
<path d="M0.0,0.0L203.5,0.0L203.5,45.1L203.0,47.1L201.7,49.5L200.7,50.8L198.9,51.8L197.4,52.3L196.9,53.9L197.9,54.4L199.2,55.4L199.9,56.5L200.7,57.5L201.5,58.5L202.0,59.6L202.0,62.2L202.0,63.5L201.0,64.5L199.7,65.0L197.6,65.5L195.9,65.8L194.6,66.6L194.1,65.3L194.6,63.5L195.1,62.2L194.6,60.9L193.8,59.8L195.1,58.5L193.6,57.8L191.5,57.8L190.8,56.5L190.0,56.7L191.3,55.4L191.5,53.6L190.3,52.8L189.0,52.1L187.0,52.6L183.9,53.6L181.1,54.9L181.9,53.1L183.2,51.0L182.6,49.5L180.6,49.7L179.3,51.0L177.0,52.1L175.5,53.9L173.7,54.4L172.2,54.6L172.5,56.2L174.2,57.0L175.5,57.8L176.3,59.3L178.8,58.3L180.1,57.5L181.9,58.3L184.4,58.5L183.7,59.8L180.6,60.9L178.8,62.2L176.8,63.5L176.0,65.3L178.6,66.6L179.8,69.9L180.6,71.2L182.9,73.3L182.6,75.1L180.6,76.1L182.1,77.7L183.2,78.2L182.1,80.3L181.6,81.6L180.1,83.4L178.6,85.5L177.0,88.1L176.0,89.6L174.2,91.7L173.0,92.2L170.9,94.3L169.2,95.6L166.6,96.3L164.1,97.1L162.8,97.6L161.5,97.9L159.0,98.9L156.4,99.7L153.9,100.5L153.4,102.8L152.1,101.5L151.6,99.7L148.8,99.2L147.5,99.7L145.8,101.0L144.0,102.0L142.4,104.1L141.7,106.2L142.4,108.3L144.0,110.1L146.5,112.7L148.0,114.0L149.8,116.3L150.6,119.7L150.8,121.7L150.6,123.8L150.6,124.6L150.1,125.6L147.8,127.2L145.2,128.5L144.2,129.5L139.4,129.5L138.6,128.5L136.3,128.2L135.1,126.4L134.6,125.1L133.0,123.8L131.0,122.8L129.5,122.5L129.5,120.7L128.5,120.4L127.2,121.0L127.1,123.0L126.2,124.8L125.4,126.9L125.2,128.7L124.9,129.5L123.6,129.5L123.9,126.9L123.9,124.8L123.6,123.0L122.6,121.0L122.4,119.1L121.3,116.5L121.1,113.2L120.3,111.6L119.0,111.9L117.8,112.7L115.7,114.2L114.0,114.5L112.7,114.0L113.2,110.6L112.7,107.5L111.7,106.2L110.7,104.9L109.4,103.6L108.4,102.3L107.6,101.3L106.8,99.7L106.3,97.6L105.6,96.9L104.3,97.1L103.0,98.2L102.0,98.7L100.5,98.9L99.2,99.2L97.9,99.2L96.9,99.2L95.6,99.5L94.1,100.0L93.9,101.8L93.4,102.8L91.1,104.1L89.3,105.4L88.3,106.2L86.7,108.0L84.7,109.6L82.2,111.9L82.2,112.7L79.4,113.4L78.9,114.7L76.8,115.3L76.6,117.8L77.1,121.0L76.8,123.0L75.8,124.8L75.8,127.2L75.9,128.7L74.5,129.5L66.6,129.5L65.6,126.4L64.1,123.8L63.1,122.0L62.1,118.4L60.5,115.3L59.3,111.9L58.5,108.8L58.0,106.2L57.7,103.6L58.0,101.0L57.5,97.9L56.5,99.2L56.2,100.5L54.7,101.5L52.9,101.5L51.4,100.5L49.9,98.9L48.3,97.4L49.9,97.1L51.6,96.1L50.1,96.3L47.8,95.6L46.8,94.3L44.5,93.5L43.8,91.4L42.5,90.9L42.2,89.6L39.4,89.9L36.9,90.1L34.3,90.1L31.3,90.4L29.5,90.1L27.0,89.6L24.2,89.6L22.1,89.1L19.8,88.8L18.6,87.3L17.8,85.5L16.0,85.0L14.0,86.2L12.2,86.8L10.2,86.2L8.9,85.7L6.6,84.4L3.8,83.1L2.0,80.5L1.3,79.0L0.5,77.7L0.0,77.2L0.0,59.3L1.3,59.6L2.5,60.1L4.6,60.6L6.4,60.3L8.9,59.8L10.2,60.1L9.9,58.5L9.7,57.0L9.9,54.9L8.1,53.6L9.4,52.8L8.9,51.5L7.1,51.8L7.1,50.2L7.4,48.7L6.9,47.1L6.1,45.8L4.3,44.3L3.3,43.5L3.1,42.5L2.0,41.2L0.8,40.4L2.0,39.9L3.3,39.4L3.8,38.3L6.4,38.3L8.9,38.9L10.7,37.8L10.2,36.3L8.4,34.7L6.4,33.9L4.8,33.5L3.1,33.7L1.0,34.2L0.0,34.7ZM0.0,86.0L0.5,86.5L0.3,87.5L0.5,89.1L1.5,90.6L2.0,91.4L2.0,89.1L3.1,87.5L4.1,88.3L4.1,90.1L3.6,91.7L4.1,92.5L6.4,92.7L8.9,93.0L11.2,92.2L13.5,90.1L15.3,88.8L15.5,87.5L16.3,87.0L16.3,88.6L16.0,90.1L16.8,92.2L18.6,93.5L20.9,94.3L22.4,95.3L24.2,96.9L24.9,97.4L24.2,98.9L22.9,100.5L21.9,102.3L19.8,103.1L19.8,105.7L19.1,106.4L17.3,107.2L16.0,109.0L14.0,109.8L13.2,111.1L10.4,111.4L7.9,112.1L5.6,114.0L5.6,115.0L3.8,115.8L1.3,116.5L0.0,116.8ZM180.6,90.4L181.9,89.9L183.2,90.6L182.6,92.2L182.1,93.8L181.6,95.6L180.6,96.9L180.2,98.7L179.6,97.6L178.8,96.9L178.3,95.8L178.4,94.0L179.3,92.5L180.4,91.2ZM152.6,103.3L154.4,103.3L155.2,104.4L154.2,105.7L153.9,106.7L152.6,107.7L151.4,108.3L149.8,107.5L149.1,105.9L149.3,104.6L150.6,103.9L151.6,103.6ZM203.5,67.6L203.0,68.6L202.5,69.2L203.0,69.9L203.0,71.0L203.5,71.2L203.5,67.6ZM193.8,68.9L194.6,68.5L195.6,68.6L195.4,69.3L194.1,69.4ZM179.6,107.5L180.6,107.2L182.9,108.0L183.7,107.5L183.9,110.6L184.4,112.7L182.1,114.5L182.1,116.5L182.4,118.6L183.7,118.9L185.2,118.6L186.5,119.4L187.7,119.7L188.5,121.7L188.2,122.8L187.0,122.0L185.7,121.5L184.4,120.4L182.6,119.4L181.1,119.9L179.8,119.7L179.6,118.4L180.4,117.6L179.6,117.1L178.6,117.1L178.1,115.8L177.6,113.7L178.6,113.7L179.1,111.9L179.1,110.1ZM179.1,120.4L181.1,120.7L181.9,121.7L181.6,123.5L180.6,123.5L179.3,121.7ZM183.2,124.8L185.2,125.4L185.9,126.4L184.7,127.7L183.2,128.2L182.9,126.4ZM185.4,127.2L187.0,127.2L186.5,129.5L185.2,129.5ZM187.7,126.4L188.5,127.9L188.0,129.5L187.2,128.7ZM189.0,125.6L190.8,126.4L191.3,128.7L190.3,129.5L189.3,127.7ZM189.0,123.0L190.8,122.8L192.3,123.8L192.8,126.9L190.8,126.7L189.8,125.4ZM176.3,125.9L177.6,127.7L176.3,129.5L174.8,129.5L176.0,127.2ZM186.2,123.3L187.7,123.5L188.2,124.6L187.0,124.3Z" fill="none" stroke="#9a9a9a" stroke-width="0.5"/>
<path d="M21.1,34.7L24.9,35.5L28.5,34.7L29.5,37.6L26.7,40.7L23.7,42.5L21.6,41.4L21.1,38.1Z" fill="none" stroke="#9a9a9a" stroke-width="0.5"/><path d="M59.8,35.0L62.3,33.9L64.9,34.7L68.7,35.2L72.5,34.4L74.3,35.0L71.2,36.3L67.4,36.5L63.6,36.0L61.6,38.3L59.8,38.1Z" fill="none" stroke="#9a9a9a" stroke-width="0.5"/><path d="M136.6,21.5L138.6,21.8L142.4,19.9L146.3,17.4L150.1,13.5L152.1,11.1L150.8,10.9L147.5,14.0L143.7,17.6L139.9,19.7L137.4,20.7Z" fill="none" stroke="#9a9a9a" stroke-width="0.5"/><path d="M66.6,45.3L69.2,44.5L72.0,45.1L71.2,46.1L68.7,45.8Z" fill="none" stroke="#9a9a9a" stroke-width="0.5"/><path d="M126.2,59.6L128.0,59.1L129.2,59.8L127.7,60.6Z" fill="none" stroke="#9a9a9a" stroke-width="0.5"/>
<path d="M36.9,66.8L44.8,66.6L52.7,65.5L61.0,66.8L65.1,69.7L70.0,73.8L75.0,77.2L79.9,79.8L85.0,81.6L92.6,82.6L95.9,83.9L102.8,83.4L111.9,81.6L117.0,80.3L120.1,84.7L128.0,87.8L132.8,81.6L136.1,75.1L137.6,68.6L134.3,59.1L128.0,54.4L123.1,53.1L112.4,51.0L105.1,51.8L99.0,53.6L90.0,56.5L80.9,58.3L73.8,58.3L68.4,54.6L63.1,51.0L53.9,51.0L45.0,53.6L40.7,58.3L38.2,62.2ZM50.4,46.6L55.7,44.8L63.1,43.8L72.0,42.0L80.9,41.2L90.0,40.1L99.0,41.2L99.0,44.5L90.0,45.6L73.8,46.6L63.1,49.2L50.4,49.2Z" fill="none" stroke="#a8a8a8" stroke-width="0.8" stroke-linejoin="round"/>
<rect x="38.16" y="25.90" width="63.59" height="38.85" fill="none" stroke="#3aa655" stroke-width="1"/>
<rect x="0" y="0" width="203.5" height="129.5" fill="none" stroke="#7f7f7f" stroke-width="1.3"/>
<line x1="0.00" y1="129.5" x2="0.00" y2="133.5" stroke="#7f7f7f" stroke-width="1.2"/>
<line x1="25.44" y1="129.5" x2="25.44" y2="131.7" stroke="#7f7f7f" stroke-width="1.2"/>
<line x1="50.88" y1="129.5" x2="50.88" y2="133.5" stroke="#7f7f7f" stroke-width="1.2"/>
<line x1="76.31" y1="129.5" x2="76.31" y2="131.7" stroke="#7f7f7f" stroke-width="1.2"/>
<line x1="101.75" y1="129.5" x2="101.75" y2="133.5" stroke="#7f7f7f" stroke-width="1.2"/>
<line x1="127.19" y1="129.5" x2="127.19" y2="131.7" stroke="#7f7f7f" stroke-width="1.2"/>
<line x1="152.62" y1="129.5" x2="152.62" y2="133.5" stroke="#7f7f7f" stroke-width="1.2"/>
<line x1="178.06" y1="129.5" x2="178.06" y2="131.7" stroke="#7f7f7f" stroke-width="1.2"/>
<line x1="203.50" y1="129.5" x2="203.50" y2="133.5" stroke="#7f7f7f" stroke-width="1.2"/>
<line x1="-4" y1="0.00" x2="0" y2="0.00" stroke="#7f7f7f" stroke-width="1.2"/>
<line x1="-2.2" y1="32.38" x2="0" y2="32.38" stroke="#7f7f7f" stroke-width="1.2"/>
<line x1="-4" y1="64.75" x2="0" y2="64.75" stroke="#7f7f7f" stroke-width="1.2"/>
<line x1="-2.2" y1="97.12" x2="0" y2="97.12" stroke="#7f7f7f" stroke-width="1.2"/>
<line x1="-4" y1="129.50" x2="0" y2="129.50" stroke="#7f7f7f" stroke-width="1.2"/>
<text x="0.00" y="147.60" text-anchor="middle" class="lab">50°E</text>
<text x="50.88" y="147.60" text-anchor="middle" class="lab">70°E</text>
<text x="101.75" y="147.60" text-anchor="middle" class="lab">90°E</text>
<text x="152.62" y="147.60" text-anchor="middle" class="lab">110°E</text>
<text x="203.50" y="147.60" text-anchor="middle" class="lab">130°E</text>
<text x="-7.7" y="3.60" text-anchor="end" class="lab">60°N</text>
<text x="-7.7" y="68.35" text-anchor="end" class="lab">35°N</text>
<text x="-7.7" y="133.10" text-anchor="end" class="lab">10°N</text>
<text x="0.8" y="-6.5" class="title">(c) ΔP (Solar+2%) DJF</text>
</g>
<g transform="translate(280.0,195.3)">
<g clip-path="url(#land)">
<rect x="0" y="0" width="203.5" height="129.5" fill="#dfeeee"/>
<path d="M74.8,-6.0L128.7,-6.0L169.1,2.8L196.0,20.5L209.5,47.1L209.5,82.4L198.0,109.0L174.9,126.7L140.3,135.5L94.2,135.5L59.6,133.9L36.5,130.7L25.0,125.9L25.0,119.6L25.1,113.9L25.4,109.0L25.8,104.8L26.2,101.2L26.7,98.3L27.2,95.8L27.6,93.9L27.9,92.4L28.4,91.0L28.9,89.7L29.4,88.3L30.1,87.0L30.8,85.7L31.6,84.3L32.5,83.0L33.5,81.7L34.6,80.6L35.7,79.7L36.9,79.0L38.1,78.5L39.5,78.0L41.0,77.7L42.6,77.5L44.4,77.4L46.1,77.4L47.7,77.5L49.2,77.8L50.8,78.1L52.1,78.5L53.4,78.8L54.5,79.1L55.5,79.3L56.4,79.5L57.1,79.5L57.8,79.3L58.2,79.1L58.7,78.6L59.1,78.0L59.4,77.2L59.6,76.2L59.8,75.2L59.8,74.2L59.6,73.2L59.4,72.2L59.3,71.4L59.4,70.8L59.8,70.3L60.2,70.1L60.8,69.8L61.2,69.6L61.8,69.3L62.2,69.1L63.1,68.8L64.2,68.4L65.6,67.9L67.4,67.3L69.3,66.9L71.4,66.5L73.8,66.3L76.2,66.2L78.8,66.1L81.2,65.9L83.8,65.8L86.2,65.7L88.5,65.5L90.7,65.4L92.6,65.2L94.2,65.0L95.6,64.8L96.7,64.5L97.4,64.1L97.8,63.7L98.3,63.1L98.9,62.3L99.6,61.3L100.4,60.1L101.2,58.9L102.0,57.7L102.8,56.5L103.6,55.3L104.4,54.1L105.2,52.9L106.0,51.7L106.8,50.5L107.5,49.3L108.0,48.1L108.3,46.9L108.5,45.7L108.6,44.5L108.6,43.3L108.5,42.1L108.3,40.9L107.8,39.7L107.1,38.5L106.1,37.4L104.7,36.2L103.5,35.2L102.2,34.3L101.0,33.6L99.8,33.0L98.6,32.4L97.4,31.8L96.2,31.2L95.0,30.6L94.0,29.8L93.3,28.9L92.8,27.9L92.4,26.7L92.3,25.5L92.3,24.3L92.4,23.1L92.8,21.9L93.1,20.7L93.5,19.5L93.9,18.3L94.3,17.1L94.5,16.0L94.5,14.9L94.3,13.9L93.9,13.1L93.4,12.1L92.9,11.0L92.3,9.9L91.7,8.7L91.1,7.6L90.6,6.6L90.1,5.8L89.7,5.0L89.1,4.5L88.3,4.2L87.4,4.1L86.4,4.3L85.3,4.5L84.2,4.7L83.0,4.9L81.8,5.3L80.4,5.5L78.8,5.6L77.0,5.7L75.0,5.8L73.1,5.8L71.3,5.8L69.6,5.9L68.0,6.0L66.6,6.1L65.4,6.4L64.4,6.7L63.6,7.1L62.8,7.6L62.0,8.2L61.2,8.9L60.4,9.7L59.4,10.4L58.2,11.0L56.8,11.5L55.2,11.9L53.5,12.2L51.7,12.5L49.8,12.8L47.8,13.0L45.7,13.3L43.5,13.6L41.2,13.9L38.8,14.3L36.4,14.7L34.0,15.1L31.6,15.5L29.2,15.9L26.8,16.3L24.4,16.7L22.0,17.1L19.6,17.5L17.3,17.9L15.1,18.3L13.0,18.7L11.0,19.1L8.6,19.3L5.9,19.4L2.8,19.2L-0.8,18.9L-3.4,17.1L-5.1,13.9L-6.0,9.2L-6.0,3.1L7.5,-1.4L34.4,-4.5Z" fill="#f4e3a6"/>
<path d="M5.2,-6.0L12.8,-6.0L18.5,-5.3L22.4,-4.0L24.6,-2.1L25.0,0.6L25.3,2.8L25.4,4.7L25.3,6.3L25.1,7.5L24.7,8.7L24.1,9.8L23.3,10.8L22.3,11.8L21.2,12.7L20.2,13.4L19.0,13.9L17.8,14.3L16.5,14.6L15.1,14.7L13.6,14.6L12.0,14.4L10.4,14.1L8.8,13.8L7.2,13.5L5.6,13.1L3.8,12.8L1.9,12.5L-0.2,12.2L-2.6,12.0L-4.3,10.7L-5.4,8.4L-6.0,5.1L-6.0,0.6L-4.1,-2.7L-0.4,-4.9Z" fill="#f8c67c"/>
<path d="M113.0,4.3L115.8,4.2L118.8,4.1L122.1,4.0L125.6,4.0L129.4,4.0L133.1,4.0L136.9,4.0L140.6,4.0L144.4,4.0L147.8,3.9L150.9,3.6L153.8,3.2L156.2,2.8L159.1,1.9L162.2,0.6L165.6,-1.0L169.4,-3.0L174.3,-4.5L180.5,-5.5L187.9,-6.0L196.6,-6.0L203.0,2.8L207.3,20.5L209.5,47.1L209.5,82.4L198.3,109.0L175.8,126.7L142.2,135.5L97.3,135.5L63.7,133.6L41.2,129.8L30.0,124.1L30.0,116.4L30.1,110.1L30.2,105.0L30.4,101.2L30.6,98.8L30.9,96.6L31.1,94.7L31.4,93.1L31.6,91.9L32.0,90.7L32.5,89.5L33.1,88.4L33.9,87.3L34.8,86.4L35.8,85.6L36.9,85.0L38.1,84.5L39.5,84.0L41.0,83.5L42.6,83.1L44.4,82.8L46.2,82.5L48.1,82.3L50.0,82.2L52.0,82.2L53.9,82.2L55.6,82.1L57.2,82.0L58.8,81.9L60.0,81.6L61.0,81.2L61.8,80.6L62.2,79.8L62.6,79.0L62.9,78.0L63.0,76.8L63.0,75.6L63.0,74.4L62.9,73.3L62.8,72.2L62.7,71.2L62.7,70.4L62.8,69.7L63.1,69.2L63.4,68.9L64.1,68.7L65.0,68.4L66.2,68.2L67.8,68.1L69.5,67.9L71.5,67.7L73.8,67.5L76.2,67.3L78.8,67.1L81.2,67.0L83.8,66.8L86.2,66.7L88.8,66.6L91.2,66.4L93.8,66.3L96.2,66.2L98.2,66.0L99.8,65.6L100.8,65.1L101.2,64.6L101.8,63.9L102.4,63.3L103.1,62.6L103.9,61.8L104.8,61.1L105.8,60.3L106.9,59.6L108.1,58.8L109.2,58.0L110.2,57.1L111.1,56.2L111.9,55.2L112.6,54.3L113.4,53.4L114.1,52.6L114.9,51.8L115.7,51.0L116.6,50.1L117.5,49.2L118.5,48.2L119.4,47.2L120.3,46.2L121.1,45.2L121.9,44.2L122.4,43.2L122.6,42.2L122.6,41.2L122.4,40.2L122.1,39.1L121.7,37.8L121.2,36.5L120.8,35.0L120.0,33.6L119.0,32.5L117.8,31.6L116.2,30.8L115.1,30.0L114.2,29.1L113.6,28.2L113.4,27.2L113.4,26.1L113.8,25.0L114.5,23.8L115.5,22.6L116.2,21.3L116.6,20.1L116.6,18.8L116.4,17.6L115.9,16.4L115.1,15.4L114.1,14.6L112.9,13.8L111.8,13.0L110.9,12.1L110.2,11.2L109.8,10.2L109.4,9.2L109.1,8.2L108.9,7.1L108.9,6.1L109.5,5.3L110.9,4.7Z" fill="#f8c67c"/>
<path d="M124.7,27.0L124.8,25.0L125.0,23.1L125.3,21.2L125.8,19.4L126.2,17.6L126.9,16.0L127.6,14.5L128.5,13.1L129.5,11.9L130.6,10.8L131.9,9.8L133.2,9.1L134.8,8.4L136.4,7.9L138.1,7.4L140.0,6.9L142.0,6.6L144.1,6.2L146.4,5.8L148.8,5.4L151.2,5.1L153.7,4.7L156.1,4.4L158.4,4.1L160.6,3.9L163.3,3.6L166.4,3.4L170.0,3.1L174.0,2.9L178.0,2.8L182.0,2.8L186.0,3.1L190.0,3.4L193.8,3.8L197.5,4.2L201.1,4.6L204.4,4.9L207.0,13.3L208.7,29.8L209.5,54.2L209.5,86.8L198.9,111.1L177.7,127.4L145.9,135.5L103.6,135.5L71.8,132.6L50.8,126.9L40.4,118.3L40.6,106.9L41.1,98.2L41.9,92.2L42.9,89.0L44.1,88.5L45.5,88.0L47.0,87.5L48.6,87.0L50.4,86.5L52.1,86.0L53.9,85.6L55.6,85.3L57.4,85.1L58.9,84.8L60.3,84.4L61.5,84.0L62.5,83.5L63.3,82.8L63.9,81.9L64.4,80.8L64.6,79.6L64.8,78.3L64.8,76.9L64.8,75.5L64.7,74.0L64.7,72.7L64.8,71.6L65.1,70.7L65.4,70.0L66.3,69.4L67.6,69.0L69.4,68.6L71.6,68.4L74.2,68.2L77.2,68.0L80.6,67.8L84.4,67.7L87.8,67.6L90.9,67.4L93.8,67.3L96.2,67.2L98.3,67.0L99.9,66.6L101.1,66.1L101.9,65.6L102.8,65.0L103.8,64.5L104.9,64.0L106.1,63.5L107.3,62.9L108.4,62.3L109.5,61.6L110.5,60.8L111.4,60.0L112.1,59.1L112.8,58.2L113.2,57.2L113.8,56.2L114.4,55.2L115.1,54.2L115.9,53.2L116.7,52.2L117.6,51.2L118.5,50.2L119.5,49.2L120.5,48.3L121.5,47.4L122.5,46.6L123.5,45.8L124.4,45.0L125.3,44.1L126.1,43.2L126.9,42.2L127.4,41.3L127.6,40.6L127.6,40.0L127.4,39.5L127.0,38.7L126.6,37.8L126.1,36.6L125.4,35.1L125.0,33.9L124.7,32.8L124.5,31.9L124.5,31.1L124.5,30.1L124.6,28.7Z" fill="#f5a35f"/>
<path d="M130.4,26.1L130.6,24.9L131.1,23.7L131.7,22.7L132.5,21.7L133.5,20.8L134.6,20.0L135.9,19.3L137.2,18.8L138.8,18.2L140.4,17.8L142.3,17.2L144.4,16.8L146.6,16.2L148.8,15.8L150.9,15.4L153.0,15.1L155.0,14.9L156.8,14.6L158.4,14.2L159.9,13.8L161.1,13.4L162.4,13.0L163.6,12.8L164.9,12.7L166.1,12.7L167.1,13.1L167.7,13.9L168.0,15.1L168.0,16.6L168.2,17.8L168.8,18.4L169.5,18.6L170.5,18.4L171.6,18.0L172.7,17.6L173.9,17.1L175.1,16.6L176.3,16.0L177.4,15.5L178.5,14.9L179.5,14.4L180.7,14.1L182.1,14.0L183.6,14.1L185.4,14.3L187.0,14.6L188.5,14.9L189.9,15.2L191.1,15.5L192.2,16.0L193.1,16.6L193.8,17.3L194.2,18.2L194.9,18.9L195.8,19.4L196.9,19.7L198.1,19.8L199.7,19.9L201.5,20.0L203.6,20.0L205.9,20.0L207.7,27.2L208.9,41.7L209.5,63.3L209.5,92.2L199.2,113.8L178.5,128.3L147.4,135.5L106.1,135.5L75.2,132.8L54.7,127.3L44.8,119.1L45.2,108.1L46.1,99.8L47.2,94.1L48.6,91.0L50.4,90.5L52.1,90.0L53.7,89.5L55.2,89.0L56.8,88.5L58.2,87.9L59.8,87.3L61.2,86.6L62.8,85.8L63.9,85.0L64.8,84.0L65.4,82.8L65.6,81.6L65.8,80.3L65.8,78.9L65.8,77.5L65.7,76.0L65.6,74.6L65.6,73.3L65.7,72.1L65.8,71.1L66.8,70.2L68.6,69.5L71.2,68.9L74.8,68.6L78.6,68.2L82.9,68.0L87.5,67.8L92.5,67.7L96.8,67.5L100.2,67.2L103.0,66.8L105.0,66.2L106.8,65.6L108.4,64.9L109.9,64.1L111.1,63.1L112.2,62.1L113.1,61.0L113.8,59.8L114.2,58.6L114.8,57.4L115.4,56.3L116.1,55.2L116.9,54.2L117.7,53.3L118.6,52.4L119.5,51.6L120.5,50.8L121.6,50.1L122.7,49.5L123.9,48.9L125.1,48.3L126.4,47.8L127.8,47.4L129.2,46.9L130.8,46.6L132.1,46.0L133.2,45.2L134.1,44.1L134.9,42.9L135.4,41.6L135.6,40.2L135.6,38.8L135.4,37.2L134.9,35.9L134.3,34.6L133.5,33.5L132.5,32.5L131.7,31.6L131.1,30.7L130.6,29.9L130.4,29.1L130.2,28.2L130.2,27.2Z" fill="#ee8050"/>
<path d="M70.6,69.1L74.4,68.8L78.4,68.5L82.8,68.3L87.5,68.1L92.5,68.1L96.9,68.0L100.6,67.9L103.8,67.8L106.2,67.7L108.4,67.4L110.1,67.1L111.5,66.6L112.5,65.9L113.4,65.2L114.1,64.2L114.8,63.1L115.2,61.9L115.9,60.7L116.8,59.5L117.9,58.3L119.1,57.2L120.4,56.2L121.8,55.3L123.2,54.6L124.8,53.9L126.2,53.3L127.8,52.8L129.2,52.2L130.8,51.8L132.2,51.2L133.8,50.8L135.2,50.2L136.8,49.8L138.2,49.2L139.8,48.6L141.2,47.9L142.8,47.1L144.2,46.3L145.6,45.4L146.9,44.5L148.1,43.5L149.4,42.3L150.6,40.9L151.9,39.4L153.1,37.6L154.4,36.0L155.6,34.5L156.9,33.1L158.1,31.9L159.4,30.8L160.6,29.8L161.9,29.1L163.1,28.4L164.7,27.8L166.6,27.0L168.8,26.2L171.2,25.3L173.6,24.5L175.9,23.7L178.0,22.9L180.0,22.1L181.9,21.6L183.8,21.4L185.6,21.5L187.4,21.7L189.3,22.0L191.4,22.2L193.8,22.4L196.2,22.5L198.7,22.6L201.2,22.7L203.6,22.7L205.9,22.7L207.7,29.8L208.9,43.8L209.5,65.0L209.5,93.2L199.4,114.3L179.2,128.4L148.9,135.5L108.6,135.5L78.5,132.9L58.7,127.8L49.1,120.2L49.9,110.0L50.8,102.2L51.9,96.7L53.2,93.6L54.8,92.8L56.2,92.1L57.8,91.3L59.2,90.6L60.8,89.8L62.1,89.1L63.4,88.3L64.5,87.6L65.5,86.8L66.2,86.0L66.8,85.0L67.0,83.8L67.0,82.6L66.9,81.3L66.8,79.9L66.6,78.5L66.4,77.0L66.1,75.5L65.9,74.1L65.6,72.8L65.4,71.6L66.1,70.5L67.9,69.7Z" fill="#de5138"/>
<path d="M52.5,96.3L53.5,95.6L54.6,95.0L55.7,94.3L56.9,93.6L58.1,92.8L59.3,92.1L60.4,91.3L61.5,90.6L62.5,89.8L63.4,89.1L64.3,88.3L65.1,87.6L65.9,86.8L66.5,86.1L67.0,85.3L67.4,84.6L67.6,83.8L67.7,82.9L67.6,81.8L67.2,80.5L66.8,79.0L66.3,77.5L65.9,76.1L65.6,74.8L65.4,73.6L65.1,72.5L64.9,71.5L64.6,70.6L64.4,69.8L64.4,69.2L64.8,68.7L65.5,68.3L66.5,68.0L67.7,67.8L69.1,67.7L70.6,67.6L72.4,67.6L74.3,67.6L76.4,67.7L78.8,67.8L81.2,67.8L83.4,68.0L85.3,68.3L86.9,68.6L88.1,68.9L89.7,69.3L91.6,69.6L93.8,69.9L96.2,70.1L98.8,70.3L101.2,70.3L103.8,70.3L106.2,70.2L108.5,70.0L110.5,69.8L112.2,69.6L113.8,69.4L115.2,69.1L116.6,68.8L117.9,68.4L119.1,68.1L120.2,67.6L121.2,67.1L122.1,66.6L122.9,65.9L123.6,65.2L124.2,64.2L124.8,63.1L125.2,61.9L125.9,60.8L126.6,59.8L127.5,58.9L128.5,58.1L129.6,57.4L130.9,56.8L132.2,56.2L133.8,55.8L135.3,55.2L136.9,54.7L138.6,54.1L140.4,53.4L142.1,52.7L143.9,51.9L145.6,51.0L147.4,50.0L149.1,48.9L150.9,47.8L152.6,46.6L154.4,45.4L156.1,44.2L157.7,43.0L159.2,41.8L160.8,40.7L162.3,39.6L163.9,38.4L165.6,37.3L167.4,36.2L169.3,35.0L171.4,33.7L173.8,32.2L176.2,30.8L178.6,29.5L180.7,28.5L182.6,27.8L184.4,27.2L186.2,26.9L188.1,26.7L190.0,26.6L192.0,26.6L194.4,26.7L197.2,26.7L200.4,26.8L204.1,26.9L206.8,33.7L208.6,47.3L209.5,67.7L209.5,94.8L199.5,115.2L179.6,128.7L149.7,135.5L109.8,135.5L79.8,133.3L59.6,128.8L49.2,122.2L48.8,113.3L48.6,106.5L48.7,101.7L49.1,98.9L49.9,98.3L50.7,97.6L51.6,96.9Z" fill="#c7211f"/>
<path d="M138.8,82.9L139.6,81.7L140.6,80.5L141.8,79.3L143.2,78.1L144.8,76.9L146.4,75.8L148.0,74.6L149.6,73.6L151.2,72.6L152.6,71.9L153.8,71.7L154.8,71.7L155.6,72.1L156.1,72.8L156.3,73.7L156.2,74.8L155.8,76.2L155.1,77.5L154.1,78.8L152.8,80.1L151.2,81.3L149.6,82.4L148.0,83.4L146.4,84.3L144.8,85.1L143.3,85.6L141.9,85.8L140.6,85.7L139.4,85.3L138.7,84.7L138.5,83.9Z" fill="#de5138"/>
<path d="M144.2,81.3L145.4,80.1L146.7,78.9L148.1,77.7L149.6,76.5L151.2,75.3L152.4,74.6L153.3,74.4L153.9,74.7L154.1,75.5L153.9,76.4L153.3,77.4L152.3,78.5L150.9,79.7L149.5,80.7L148.0,81.5L146.4,82.1L144.8,82.5L143.9,82.5L143.7,82.1Z" fill="#ee8050"/>
<path d="M147.1,77.7L148.1,77.3L148.9,77.1L149.4,77.0L149.8,77.2L149.9,77.5L149.7,77.8L149.4,78.2L148.9,78.6L148.1,78.9L147.5,79.1L146.9,79.2L146.5,79.1L146.1,78.8L146.1,78.4L146.4,78.1Z" fill="#f5a35f"/>
<path d="M163.9,79.6L165.0,77.0L166.0,74.9L167.0,73.2L168.1,71.9L169.1,71.2L170.3,70.6L171.6,70.2L173.0,70.0L174.6,70.0L176.0,70.1L177.3,70.4L178.5,70.8L179.5,71.3L180.4,72.2L181.0,73.3L181.5,74.8L181.7,76.6L181.6,78.2L181.1,79.6L180.2,80.9L178.8,81.9L177.4,82.8L175.7,83.6L173.8,84.3L171.7,84.8L169.8,85.1L168.0,85.3L166.3,85.2L164.7,84.9L163.6,84.6L162.8,84.4L162.4,84.1L162.4,83.9L162.7,83.0L163.2,81.6Z" fill="#de5138"/>
<path d="M169.5,76.2L170.5,75.8L171.8,75.4L173.2,75.2L175.0,75.2L177.0,75.3L178.6,75.5L179.9,75.8L180.8,76.2L181.2,76.8L181.5,77.3L181.5,77.8L181.2,78.4L180.8,79.1L179.9,79.5L178.6,79.8L177.0,80.0L175.0,80.0L173.2,79.8L171.8,79.4L170.5,78.9L169.5,78.1L169.0,77.4L169.0,76.8Z" fill="#ee8050"/>
<path d="M136.0,108.7L137.6,107.9L139.1,107.6L140.5,107.8L141.8,108.5L143.0,109.7L144.2,111.0L145.4,112.4L146.6,113.9L147.8,115.5L148.7,117.0L149.4,118.4L149.9,119.7L150.1,120.9L150.0,121.6L149.6,121.8L148.9,121.5L147.9,120.7L146.9,119.8L145.8,118.8L144.6,117.7L143.4,116.5L142.1,115.5L140.7,114.6L139.2,113.8L137.6,113.2L136.3,112.6L135.3,112.0L134.6,111.4L134.2,110.8L134.3,110.2L134.9,109.5Z" fill="#de5138"/>
<path d="M41.9,49.0L43.1,47.0L44.5,45.2L46.0,43.8L47.6,42.5L49.4,41.5L51.2,40.6L53.1,39.7L55.0,38.9L57.0,38.1L59.0,37.4L61.0,36.7L63.0,36.1L65.0,35.4L67.0,35.0L69.0,34.8L71.0,34.7L73.0,34.8L74.8,35.0L76.2,35.3L77.5,35.8L78.5,36.2L79.1,36.9L79.4,37.8L79.2,38.9L78.8,40.1L78.0,41.4L77.0,42.6L75.8,43.9L74.2,45.1L73.2,46.3L72.8,47.4L72.8,48.5L73.2,49.5L74.1,50.3L75.4,50.9L77.0,51.4L79.0,51.6L81.0,51.9L83.0,52.3L85.0,52.8L87.0,53.2L88.7,53.9L90.1,54.6L91.1,55.5L91.9,56.5L92.2,57.5L92.2,58.5L91.9,59.5L91.1,60.5L89.9,61.3L88.3,62.0L86.2,62.6L83.8,62.9L81.2,63.3L78.8,63.7L76.2,64.1L73.8,64.4L71.4,64.8L69.1,65.1L67.0,65.4L65.0,65.6L63.2,66.1L61.8,66.7L60.5,67.5L59.5,68.5L58.6,69.5L57.7,70.6L56.9,71.7L56.1,72.8L55.2,73.7L54.2,74.4L53.1,74.9L51.9,75.1L50.6,75.2L49.2,75.0L47.8,74.6L46.2,73.9L44.9,73.2L43.8,72.2L42.9,71.1L42.1,69.9L41.4,68.4L40.8,66.8L40.2,65.0L39.8,63.0L39.4,61.0L39.3,59.0L39.4,57.0L39.6,55.0L40.1,53.0L40.9,51.0Z" fill="#b5dbe7"/>
<path d="M48.9,52.8L50.1,51.2L51.4,49.9L52.8,48.6L54.2,47.5L55.8,46.5L57.2,45.6L58.8,44.9L60.2,44.2L61.8,43.8L63.1,43.6L64.2,43.7L65.1,44.1L65.9,44.9L66.2,45.8L66.2,46.8L65.9,47.9L65.1,49.1L64.5,50.4L64.0,51.8L63.6,53.2L63.4,54.8L62.9,56.1L62.1,57.4L61.1,58.5L59.9,59.5L58.6,60.3L57.2,60.9L55.8,61.4L54.2,61.6L52.9,61.7L51.6,61.6L50.5,61.2L49.5,60.8L48.7,60.1L48.1,59.2L47.6,58.1L47.4,56.9L47.5,55.6L48.0,54.2Z" fill="#8ec5de"/>
<path d="M-3.1,59.7L-1.2,59.4L0.7,59.1L2.6,58.6L4.6,57.9L6.6,57.1L8.6,56.4L10.6,55.8L12.6,55.3L14.6,54.9L16.5,54.8L18.3,55.0L20.0,55.5L21.6,56.3L22.9,57.3L23.9,58.5L24.6,59.9L25.0,61.5L25.2,63.2L25.2,65.0L25.0,66.9L24.6,68.9L24.2,70.8L23.8,72.6L23.4,74.3L23.0,75.9L22.5,77.5L21.9,79.1L21.2,80.7L20.4,82.3L19.4,83.7L18.2,84.9L16.8,85.9L15.2,86.7L13.6,87.2L12.0,87.6L10.4,87.6L8.8,87.4L7.3,87.1L5.9,86.7L4.6,86.2L3.4,85.6L2.0,84.9L0.5,84.0L-1.2,82.9L-3.1,81.8L-4.6,79.6L-5.5,76.5L-6.0,72.5L-6.0,67.5L-5.5,63.7L-4.6,61.1Z" fill="#b5dbe7"/>
<path d="M4.6,60.9L5.9,60.6L7.2,60.4L8.4,60.6L9.5,60.9L10.5,61.6L11.4,62.4L12.2,63.6L12.9,64.9L13.6,66.6L14.0,68.2L14.3,69.9L14.5,71.6L14.5,73.4L14.3,74.9L14.0,76.3L13.6,77.5L12.9,78.5L12.2,79.2L11.3,79.6L10.3,79.6L9.2,79.4L8.1,78.9L7.1,78.1L6.2,77.1L5.3,75.9L4.6,74.6L3.9,73.2L3.4,71.8L3.1,70.2L2.8,68.7L2.6,67.2L2.5,65.6L2.5,63.9L2.8,62.6L3.5,61.6Z" fill="#8ec5de"/>
<path d="M-0.6,109.7L3.0,108.9L6.2,108.1L9.1,107.4L11.6,106.8L13.7,106.3L15.5,105.9L17.1,105.5L18.4,105.3L19.4,105.2L20.4,105.2L21.3,105.4L22.1,105.8L22.9,106.2L23.4,107.8L23.8,110.2L24.0,113.8L24.0,118.2L22.1,121.6L18.4,123.9L12.8,125.0L5.2,125.0L-0.4,124.1L-4.1,122.4L-6.0,119.8L-6.0,116.2L-5.1,113.4L-3.3,111.2Z" fill="#b5dbe7"/>
<path d="M12.1,38.6L12.9,38.4L13.6,38.3L14.2,38.4L14.8,38.8L15.2,39.2L15.5,39.7L15.5,40.2L15.2,40.6L14.8,41.0L14.2,41.3L13.6,41.4L12.9,41.4L12.1,41.2L11.6,41.0L11.2,40.7L11.0,40.2L11.0,39.8L11.2,39.3L11.6,38.9Z" fill="#b5dbe7"/>
<path d="M0.8,-6.0L5.2,-6.0L8.6,-5.1L10.9,-3.4L12.0,-0.8L12.0,2.8L11.6,5.6L10.9,7.9L9.8,9.5L8.2,10.5L6.4,11.2L4.1,11.8L1.5,12.0L-1.5,12.0L-3.8,10.9L-5.2,8.6L-6.0,5.2L-6.0,0.8L-4.9,-2.6L-2.6,-4.9ZM19.9,38.0L27.1,38.0L32.7,38.8L36.6,40.2L38.8,42.5L39.2,45.5L39.5,48.8L39.5,52.2L39.2,56.0L38.8,60.0L37.6,63.0L35.9,65.0L33.5,66.0L30.5,66.0L28.2,67.4L26.8,70.1L26.0,74.2L26.0,79.8L24.0,83.9L20.0,86.6L14.0,88.0L6.0,88.0L0.0,86.0L-4.0,82.0L-6.0,76.0L-6.0,68.0L-5.1,61.8L-3.2,57.2L-0.4,54.5L3.4,53.5L6.2,51.9L8.1,49.6L9.0,46.8L9.0,43.2L10.8,40.6L14.4,38.9ZM53.2,39.2L58.8,38.8L62.9,39.5L65.6,41.5L67.0,44.8L67.0,49.2L65.9,52.9L63.8,55.6L60.6,57.5L56.4,58.5L52.9,58.8L50.1,58.2L48.1,57.0L46.9,55.0L45.9,52.8L45.3,50.2L45.0,47.5L45.0,44.5L46.4,42.1L49.1,40.4ZM145.4,-6.0L171.1,-6.0L190.3,2.8L203.1,20.5L209.5,47.1L209.5,82.4L199.5,109.0L179.6,126.7L149.7,135.5L109.8,135.5L80.2,133.2L60.9,128.5L51.9,121.4L53.1,112.1L54.5,104.7L56.0,99.2L57.6,95.8L59.4,94.2L60.9,92.7L62.3,91.1L63.5,89.4L64.5,87.6L65.3,85.7L65.9,83.6L66.4,81.2L66.6,78.8L67.1,76.6L67.9,74.7L68.9,73.1L70.1,71.9L72.2,70.9L75.1,70.3L78.8,70.0L83.2,70.0L87.4,69.9L91.1,69.8L94.5,69.6L97.5,69.4L100.1,69.0L102.4,68.5L104.2,67.9L105.8,67.1L107.2,66.2L108.6,65.1L109.9,63.8L111.1,62.2L112.4,60.8L113.6,59.4L114.9,58.1L116.1,56.9L117.2,55.3L118.1,53.4L118.8,51.2L119.2,48.8L119.5,46.2L119.5,43.8L119.2,41.2L118.8,38.8L118.1,36.2L117.2,33.8L116.1,31.2L114.9,28.8L113.8,26.2L112.8,23.8L111.9,21.2L111.1,18.8L110.4,16.2L109.8,13.8L109.2,11.2L108.8,8.8L108.3,6.2L107.9,3.6L107.6,0.9L107.4,-1.9L113.6,-3.9L126.3,-5.3Z" fill="url(#stip)" fill-rule="evenodd"/>
</g>
<path d="M0.0,0.0L203.5,0.0L203.5,45.1L203.0,47.1L201.7,49.5L200.7,50.8L198.9,51.8L197.4,52.3L196.9,53.9L197.9,54.4L199.2,55.4L199.9,56.5L200.7,57.5L201.5,58.5L202.0,59.6L202.0,62.2L202.0,63.5L201.0,64.5L199.7,65.0L197.6,65.5L195.9,65.8L194.6,66.6L194.1,65.3L194.6,63.5L195.1,62.2L194.6,60.9L193.8,59.8L195.1,58.5L193.6,57.8L191.5,57.8L190.8,56.5L190.0,56.7L191.3,55.4L191.5,53.6L190.3,52.8L189.0,52.1L187.0,52.6L183.9,53.6L181.1,54.9L181.9,53.1L183.2,51.0L182.6,49.5L180.6,49.7L179.3,51.0L177.0,52.1L175.5,53.9L173.7,54.4L172.2,54.6L172.5,56.2L174.2,57.0L175.5,57.8L176.3,59.3L178.8,58.3L180.1,57.5L181.9,58.3L184.4,58.5L183.7,59.8L180.6,60.9L178.8,62.2L176.8,63.5L176.0,65.3L178.6,66.6L179.8,69.9L180.6,71.2L182.9,73.3L182.6,75.1L180.6,76.1L182.1,77.7L183.2,78.2L182.1,80.3L181.6,81.6L180.1,83.4L178.6,85.5L177.0,88.1L176.0,89.6L174.2,91.7L173.0,92.2L170.9,94.3L169.2,95.6L166.6,96.3L164.1,97.1L162.8,97.6L161.5,97.9L159.0,98.9L156.4,99.7L153.9,100.5L153.4,102.8L152.1,101.5L151.6,99.7L148.8,99.2L147.5,99.7L145.8,101.0L144.0,102.0L142.4,104.1L141.7,106.2L142.4,108.3L144.0,110.1L146.5,112.7L148.0,114.0L149.8,116.3L150.6,119.7L150.8,121.7L150.6,123.8L150.6,124.6L150.1,125.6L147.8,127.2L145.2,128.5L144.2,129.5L139.4,129.5L138.6,128.5L136.3,128.2L135.1,126.4L134.6,125.1L133.0,123.8L131.0,122.8L129.5,122.5L129.5,120.7L128.5,120.4L127.2,121.0L127.1,123.0L126.2,124.8L125.4,126.9L125.2,128.7L124.9,129.5L123.6,129.5L123.9,126.9L123.9,124.8L123.6,123.0L122.6,121.0L122.4,119.1L121.3,116.5L121.1,113.2L120.3,111.6L119.0,111.9L117.8,112.7L115.7,114.2L114.0,114.5L112.7,114.0L113.2,110.6L112.7,107.5L111.7,106.2L110.7,104.9L109.4,103.6L108.4,102.3L107.6,101.3L106.8,99.7L106.3,97.6L105.6,96.9L104.3,97.1L103.0,98.2L102.0,98.7L100.5,98.9L99.2,99.2L97.9,99.2L96.9,99.2L95.6,99.5L94.1,100.0L93.9,101.8L93.4,102.8L91.1,104.1L89.3,105.4L88.3,106.2L86.7,108.0L84.7,109.6L82.2,111.9L82.2,112.7L79.4,113.4L78.9,114.7L76.8,115.3L76.6,117.8L77.1,121.0L76.8,123.0L75.8,124.8L75.8,127.2L75.9,128.7L74.5,129.5L66.6,129.5L65.6,126.4L64.1,123.8L63.1,122.0L62.1,118.4L60.5,115.3L59.3,111.9L58.5,108.8L58.0,106.2L57.7,103.6L58.0,101.0L57.5,97.9L56.5,99.2L56.2,100.5L54.7,101.5L52.9,101.5L51.4,100.5L49.9,98.9L48.3,97.4L49.9,97.1L51.6,96.1L50.1,96.3L47.8,95.6L46.8,94.3L44.5,93.5L43.8,91.4L42.5,90.9L42.2,89.6L39.4,89.9L36.9,90.1L34.3,90.1L31.3,90.4L29.5,90.1L27.0,89.6L24.2,89.6L22.1,89.1L19.8,88.8L18.6,87.3L17.8,85.5L16.0,85.0L14.0,86.2L12.2,86.8L10.2,86.2L8.9,85.7L6.6,84.4L3.8,83.1L2.0,80.5L1.3,79.0L0.5,77.7L0.0,77.2L0.0,59.3L1.3,59.6L2.5,60.1L4.6,60.6L6.4,60.3L8.9,59.8L10.2,60.1L9.9,58.5L9.7,57.0L9.9,54.9L8.1,53.6L9.4,52.8L8.9,51.5L7.1,51.8L7.1,50.2L7.4,48.7L6.9,47.1L6.1,45.8L4.3,44.3L3.3,43.5L3.1,42.5L2.0,41.2L0.8,40.4L2.0,39.9L3.3,39.4L3.8,38.3L6.4,38.3L8.9,38.9L10.7,37.8L10.2,36.3L8.4,34.7L6.4,33.9L4.8,33.5L3.1,33.7L1.0,34.2L0.0,34.7ZM0.0,86.0L0.5,86.5L0.3,87.5L0.5,89.1L1.5,90.6L2.0,91.4L2.0,89.1L3.1,87.5L4.1,88.3L4.1,90.1L3.6,91.7L4.1,92.5L6.4,92.7L8.9,93.0L11.2,92.2L13.5,90.1L15.3,88.8L15.5,87.5L16.3,87.0L16.3,88.6L16.0,90.1L16.8,92.2L18.6,93.5L20.9,94.3L22.4,95.3L24.2,96.9L24.9,97.4L24.2,98.9L22.9,100.5L21.9,102.3L19.8,103.1L19.8,105.7L19.1,106.4L17.3,107.2L16.0,109.0L14.0,109.8L13.2,111.1L10.4,111.4L7.9,112.1L5.6,114.0L5.6,115.0L3.8,115.8L1.3,116.5L0.0,116.8ZM180.6,90.4L181.9,89.9L183.2,90.6L182.6,92.2L182.1,93.8L181.6,95.6L180.6,96.9L180.2,98.7L179.6,97.6L178.8,96.9L178.3,95.8L178.4,94.0L179.3,92.5L180.4,91.2ZM152.6,103.3L154.4,103.3L155.2,104.4L154.2,105.7L153.9,106.7L152.6,107.7L151.4,108.3L149.8,107.5L149.1,105.9L149.3,104.6L150.6,103.9L151.6,103.6ZM203.5,67.6L203.0,68.6L202.5,69.2L203.0,69.9L203.0,71.0L203.5,71.2L203.5,67.6ZM193.8,68.9L194.6,68.5L195.6,68.6L195.4,69.3L194.1,69.4ZM179.6,107.5L180.6,107.2L182.9,108.0L183.7,107.5L183.9,110.6L184.4,112.7L182.1,114.5L182.1,116.5L182.4,118.6L183.7,118.9L185.2,118.6L186.5,119.4L187.7,119.7L188.5,121.7L188.2,122.8L187.0,122.0L185.7,121.5L184.4,120.4L182.6,119.4L181.1,119.9L179.8,119.7L179.6,118.4L180.4,117.6L179.6,117.1L178.6,117.1L178.1,115.8L177.6,113.7L178.6,113.7L179.1,111.9L179.1,110.1ZM179.1,120.4L181.1,120.7L181.9,121.7L181.6,123.5L180.6,123.5L179.3,121.7ZM183.2,124.8L185.2,125.4L185.9,126.4L184.7,127.7L183.2,128.2L182.9,126.4ZM185.4,127.2L187.0,127.2L186.5,129.5L185.2,129.5ZM187.7,126.4L188.5,127.9L188.0,129.5L187.2,128.7ZM189.0,125.6L190.8,126.4L191.3,128.7L190.3,129.5L189.3,127.7ZM189.0,123.0L190.8,122.8L192.3,123.8L192.8,126.9L190.8,126.7L189.8,125.4ZM176.3,125.9L177.6,127.7L176.3,129.5L174.8,129.5L176.0,127.2ZM186.2,123.3L187.7,123.5L188.2,124.6L187.0,124.3Z" fill="none" stroke="#9a9a9a" stroke-width="0.5"/>
<path d="M21.1,34.7L24.9,35.5L28.5,34.7L29.5,37.6L26.7,40.7L23.7,42.5L21.6,41.4L21.1,38.1Z" fill="none" stroke="#9a9a9a" stroke-width="0.5"/><path d="M59.8,35.0L62.3,33.9L64.9,34.7L68.7,35.2L72.5,34.4L74.3,35.0L71.2,36.3L67.4,36.5L63.6,36.0L61.6,38.3L59.8,38.1Z" fill="none" stroke="#9a9a9a" stroke-width="0.5"/><path d="M136.6,21.5L138.6,21.8L142.4,19.9L146.3,17.4L150.1,13.5L152.1,11.1L150.8,10.9L147.5,14.0L143.7,17.6L139.9,19.7L137.4,20.7Z" fill="none" stroke="#9a9a9a" stroke-width="0.5"/><path d="M66.6,45.3L69.2,44.5L72.0,45.1L71.2,46.1L68.7,45.8Z" fill="none" stroke="#9a9a9a" stroke-width="0.5"/><path d="M126.2,59.6L128.0,59.1L129.2,59.8L127.7,60.6Z" fill="none" stroke="#9a9a9a" stroke-width="0.5"/>
<path d="M36.9,66.8L44.8,66.6L52.7,65.5L61.0,66.8L65.1,69.7L70.0,73.8L75.0,77.2L79.9,79.8L85.0,81.6L92.6,82.6L95.9,83.9L102.8,83.4L111.9,81.6L117.0,80.3L120.1,84.7L128.0,87.8L132.8,81.6L136.1,75.1L137.6,68.6L134.3,59.1L128.0,54.4L123.1,53.1L112.4,51.0L105.1,51.8L99.0,53.6L90.0,56.5L80.9,58.3L73.8,58.3L68.4,54.6L63.1,51.0L53.9,51.0L45.0,53.6L40.7,58.3L38.2,62.2ZM50.4,46.6L55.7,44.8L63.1,43.8L72.0,42.0L80.9,41.2L90.0,40.1L99.0,41.2L99.0,44.5L90.0,45.6L73.8,46.6L63.1,49.2L50.4,49.2Z" fill="none" stroke="#a8a8a8" stroke-width="0.8" stroke-linejoin="round"/>
<rect x="38.16" y="25.90" width="63.59" height="38.85" fill="none" stroke="#3aa655" stroke-width="1"/>
<rect x="0" y="0" width="203.5" height="129.5" fill="none" stroke="#7f7f7f" stroke-width="1.3"/>
<line x1="0.00" y1="129.5" x2="0.00" y2="133.5" stroke="#7f7f7f" stroke-width="1.2"/>
<line x1="25.44" y1="129.5" x2="25.44" y2="131.7" stroke="#7f7f7f" stroke-width="1.2"/>
<line x1="50.88" y1="129.5" x2="50.88" y2="133.5" stroke="#7f7f7f" stroke-width="1.2"/>
<line x1="76.31" y1="129.5" x2="76.31" y2="131.7" stroke="#7f7f7f" stroke-width="1.2"/>
<line x1="101.75" y1="129.5" x2="101.75" y2="133.5" stroke="#7f7f7f" stroke-width="1.2"/>
<line x1="127.19" y1="129.5" x2="127.19" y2="131.7" stroke="#7f7f7f" stroke-width="1.2"/>
<line x1="152.62" y1="129.5" x2="152.62" y2="133.5" stroke="#7f7f7f" stroke-width="1.2"/>
<line x1="178.06" y1="129.5" x2="178.06" y2="131.7" stroke="#7f7f7f" stroke-width="1.2"/>
<line x1="203.50" y1="129.5" x2="203.50" y2="133.5" stroke="#7f7f7f" stroke-width="1.2"/>
<line x1="-4" y1="0.00" x2="0" y2="0.00" stroke="#7f7f7f" stroke-width="1.2"/>
<line x1="-2.2" y1="32.38" x2="0" y2="32.38" stroke="#7f7f7f" stroke-width="1.2"/>
<line x1="-4" y1="64.75" x2="0" y2="64.75" stroke="#7f7f7f" stroke-width="1.2"/>
<line x1="-2.2" y1="97.12" x2="0" y2="97.12" stroke="#7f7f7f" stroke-width="1.2"/>
<line x1="-4" y1="129.50" x2="0" y2="129.50" stroke="#7f7f7f" stroke-width="1.2"/>
<text x="0.00" y="147.60" text-anchor="middle" class="lab">50°E</text>
<text x="50.88" y="147.60" text-anchor="middle" class="lab">70°E</text>
<text x="101.75" y="147.60" text-anchor="middle" class="lab">90°E</text>
<text x="152.62" y="147.60" text-anchor="middle" class="lab">110°E</text>
<text x="203.50" y="147.60" text-anchor="middle" class="lab">130°E</text>
<text x="-7.7" y="3.60" text-anchor="end" class="lab">60°N</text>
<text x="-7.7" y="68.35" text-anchor="end" class="lab">35°N</text>
<text x="-7.7" y="133.10" text-anchor="end" class="lab">10°N</text>
<text x="0.8" y="-6.5" class="title">(d) ΔP (Sulx10Asia) JJA</text>
</g>
<g transform="translate(157.3,371.5)">
<g clip-path="url(#land)">
<rect x="0" y="0" width="203.5" height="129.5" fill="#dfeeee"/>
<path d="M2.2,28.5L7.8,28.3L12.9,28.0L17.6,27.8L22.0,27.4L26.0,27.0L30.0,26.6L34.0,26.3L38.0,26.1L42.0,25.9L45.5,25.7L48.5,25.5L51.0,25.3L53.0,25.1L55.0,25.0L57.0,24.9L59.0,25.0L61.0,25.1L63.0,25.2L65.0,25.2L67.0,25.2L69.0,25.1L70.9,24.9L72.6,24.5L74.2,23.9L75.8,23.1L77.2,22.3L78.8,21.5L80.2,20.7L81.8,19.8L83.2,19.1L84.7,18.5L86.1,18.2L87.5,17.9L89.2,17.7L91.3,17.4L93.8,17.0L96.6,16.6L98.9,16.0L100.7,15.2L102.0,14.2L102.8,13.0L103.7,11.9L104.7,11.0L105.8,10.3L107.0,9.7L108.6,9.2L110.6,9.0L113.0,8.8L115.8,8.8L118.3,9.0L120.5,9.2L122.4,9.7L124.0,10.3L125.3,11.0L126.3,11.9L127.0,13.0L127.4,14.2L127.6,15.4L127.6,16.6L127.4,17.8L127.0,19.0L126.7,20.3L126.5,21.7L126.4,23.2L126.4,24.8L126.6,26.3L127.0,27.7L127.6,29.0L128.4,30.2L129.1,31.5L129.7,32.9L130.2,34.4L130.6,36.0L130.7,37.5L130.5,38.9L130.0,40.2L129.2,41.4L128.5,42.6L128.0,43.8L127.6,45.0L127.4,46.2L127.4,47.3L127.8,48.2L128.5,48.9L129.5,49.6L130.5,50.2L131.5,50.8L132.5,51.4L133.5,52.1L134.4,52.8L135.3,53.5L136.1,54.3L136.9,55.2L137.7,56.0L138.6,56.7L139.5,57.2L140.5,57.8L141.8,58.2L143.2,58.6L145.0,58.9L147.0,59.1L148.8,59.5L150.2,60.1L151.5,60.8L152.5,61.7L153.5,62.6L154.5,63.4L155.5,64.3L156.5,65.2L157.6,65.8L158.7,66.3L159.9,66.5L161.1,66.5L162.2,66.2L163.2,65.7L164.1,64.8L164.9,63.7L165.7,62.6L166.6,61.5L167.5,60.5L168.5,59.5L169.6,58.6L170.7,57.9L171.9,57.2L173.1,56.8L174.2,56.0L175.1,55.0L175.8,53.8L176.2,52.2L176.8,50.8L177.4,49.4L178.1,48.1L178.9,46.9L179.7,45.6L180.5,44.5L181.4,43.3L182.2,42.1L182.8,41.0L183.1,39.8L183.2,38.6L182.8,37.3L182.9,35.7L183.2,33.7L183.8,31.3L184.7,28.5L185.6,25.9L186.6,23.4L187.5,21.0L188.4,18.9L189.4,17.4L190.5,16.6L191.7,16.5L192.9,17.2L194.2,18.1L195.4,19.4L196.7,20.9L197.9,22.8L199.5,24.3L201.3,25.6L203.4,26.5L205.9,27.1L207.7,34.3L208.9,48.0L209.5,68.3L209.5,95.2L196.0,115.3L169.1,128.8L128.7,135.5L74.8,135.5L34.4,128.8L7.5,115.5L-6.0,95.5L-6.0,68.8L-4.6,48.8L-1.9,35.3Z" fill="#f4e3a6"/>
<path d="M0.8,97.2L5.4,96.3L9.4,95.6L12.8,95.1L15.6,94.7L17.9,94.6L19.8,94.6L21.4,95.0L22.6,95.6L23.5,96.5L24.1,97.2L24.4,97.9L24.5,98.4L24.2,98.9L23.6,99.2L22.5,99.5L21.0,99.7L19.0,99.8L17.1,100.2L15.1,100.7L13.2,101.5L11.2,102.5L8.9,103.4L6.1,104.2L2.9,104.9L-0.6,105.6L-3.3,105.5L-5.1,104.8L-6.0,103.5L-6.0,101.5L-4.9,99.8L-2.6,98.3Z" fill="#dfeeee"/>
<path d="M-1.0,111.6L2.3,110.6L5.2,109.8L7.6,109.1L9.6,108.4L11.1,107.8L12.6,107.3L14.1,106.8L15.6,106.5L17.1,106.2L18.5,105.9L19.8,105.8L21.1,105.8L22.2,105.9L23.1,107.1L23.7,109.5L24.0,113.1L24.0,117.9L22.1,121.4L18.4,123.8L12.8,125.0L5.2,125.0L-0.4,124.2L-4.1,122.7L-6.0,120.5L-6.0,117.4L-5.2,114.9L-3.5,113.0Z" fill="#f8c67c"/>
<path d="M42.7,66.7L44.7,67.5L46.6,68.4L48.4,69.4L50.1,70.5L51.7,71.7L53.4,72.8L55.2,73.8L57.1,74.7L59.1,75.5L60.7,76.5L61.9,77.7L62.7,79.1L63.1,80.7L63.3,82.2L63.3,83.6L63.1,84.9L62.7,86.1L61.9,87.1L60.7,87.9L59.1,88.5L57.1,88.9L55.1,89.2L53.1,89.6L51.1,89.8L49.1,90.0L47.4,90.2L46.0,90.4L44.9,90.6L44.1,90.8L43.3,91.2L42.6,91.8L41.8,92.6L41.1,93.5L40.5,96.8L40.2,102.3L40.0,110.2L40.0,120.3L44.9,127.9L54.6,133.0L69.2,135.5L88.8,135.5L103.4,133.3L113.1,128.8L118.0,122.2L118.0,113.3L117.8,106.0L117.2,100.3L116.5,96.2L115.5,93.8L114.6,91.2L113.7,88.8L112.9,86.2L112.1,83.8L111.4,81.4L110.6,79.1L109.9,77.0L109.1,75.0L108.3,73.2L107.4,71.8L106.5,70.5L105.5,69.5L104.2,68.6L102.6,67.9L100.6,67.2L98.4,66.8L96.1,66.3L93.7,66.0L91.2,65.8L88.8,65.7L85.9,65.6L82.8,65.6L79.4,65.6L75.6,65.7L71.9,65.7L68.1,65.6L64.4,65.5L60.6,65.3L57.2,65.1L54.1,65.0L51.2,64.8L48.8,64.7L46.5,64.7L44.6,64.7L43.0,64.9L41.7,65.1L41.2,65.5L41.5,66.0Z" fill="#dfeeee"/>
<path d="M61.1,66.2L64.6,66.3L68.1,66.5L71.8,66.7L75.7,66.9L79.7,67.1L83.5,67.3L87.1,67.5L90.5,67.7L93.7,67.8L96.6,68.1L99.1,68.4L101.3,68.9L103.2,69.6L104.8,70.4L106.2,71.4L107.3,72.6L108.2,73.9L108.9,75.3L109.6,76.7L110.1,78.1L110.4,79.4L110.8,80.8L111.2,82.2L111.6,83.6L111.9,84.9L112.3,86.3L112.7,87.6L113.1,88.9L113.4,90.1L113.8,91.6L114.0,93.2L114.2,95.0L114.3,97.0L114.5,99.1L114.8,101.4L115.1,103.8L115.4,106.2L115.8,109.7L116.1,114.2L116.4,119.6L116.6,125.9L112.3,130.7L103.4,133.9L90.0,135.5L72.0,135.5L58.5,133.1L49.5,128.3L45.0,121.1L45.0,111.4L45.2,103.9L45.6,98.5L46.1,95.1L46.9,93.9L47.7,92.8L48.6,91.9L49.5,91.2L50.5,90.8L51.6,90.1L52.9,89.4L54.2,88.5L55.8,87.5L57.0,86.4L58.0,85.1L58.8,83.8L59.2,82.2L59.5,80.6L59.5,78.9L59.2,77.0L58.8,75.0L58.2,73.1L57.8,71.4L57.2,69.8L56.8,68.2L57.2,67.2L58.7,66.5Z" fill="#b5dbe7"/>
<path d="M63.8,67.5L66.2,67.5L69.1,67.6L72.2,67.7L75.6,67.9L79.4,68.1L82.9,68.3L86.3,68.5L89.5,68.7L92.5,68.8L95.2,69.1L97.6,69.5L99.6,70.1L101.4,70.9L102.9,71.8L104.2,72.9L105.3,74.2L106.2,75.8L107.0,77.2L107.7,78.8L108.2,80.2L108.8,81.8L109.2,83.2L109.7,84.8L110.1,86.2L110.4,87.8L110.8,89.3L111.1,90.9L111.4,92.6L111.6,94.4L111.9,96.2L112.1,98.1L112.4,100.0L112.6,102.0L112.9,104.1L113.1,106.4L113.4,108.8L113.6,111.2L113.9,114.4L114.1,118.2L114.4,122.7L114.6,127.8L111.5,131.7L105.0,134.2L95.1,135.5L81.9,135.5L71.6,134.4L64.2,132.2L59.8,128.9L58.2,124.6L57.0,120.7L56.0,117.2L55.2,114.2L54.8,111.8L54.5,109.2L54.5,106.8L54.8,104.2L55.2,101.8L56.0,99.4L57.0,97.1L58.2,95.0L59.8,93.0L61.0,91.0L62.0,89.0L62.8,87.0L63.2,85.0L63.5,82.9L63.5,80.8L63.2,78.6L62.8,76.4L62.2,74.3L61.8,72.5L61.2,70.9L60.8,69.6L61.0,68.5L62.0,67.8Z" fill="#8ec5de"/>
<path d="M65.8,68.8L68.2,68.7L71.0,68.6L74.0,68.6L77.2,68.7L80.8,68.8L84.0,68.9L87.0,69.1L89.8,69.2L92.2,69.3L94.6,69.6L96.7,70.1L98.6,70.8L100.4,71.7L101.9,72.8L103.2,74.1L104.3,75.6L105.2,77.4L106.0,79.1L106.7,80.7L107.2,82.2L107.8,83.8L108.2,85.3L108.8,86.9L109.2,88.6L109.8,90.4L110.2,92.1L110.6,93.9L110.9,95.6L111.1,97.4L111.3,99.4L111.5,101.8L111.7,104.5L111.8,107.5L112.0,111.2L112.2,115.7L112.4,120.8L112.6,126.7L112.0,131.1L110.5,134.0L108.1,135.5L104.9,135.5L101.9,134.3L99.3,131.8L97.0,128.2L95.0,123.3L92.9,119.3L90.6,116.1L88.2,113.8L85.8,112.2L83.4,111.4L81.1,111.1L79.0,111.5L77.0,112.5L75.1,113.6L73.4,114.9L71.8,116.2L70.2,117.8L68.6,118.8L66.9,119.4L65.0,119.6L63.0,119.4L61.2,118.6L59.8,117.4L58.5,115.6L57.5,113.4L57.0,111.1L57.0,108.7L57.5,106.2L58.5,103.8L59.6,101.4L60.9,99.1L62.2,97.0L63.8,95.0L65.1,93.4L66.4,92.1L67.5,91.2L68.5,90.8L69.0,90.0L69.0,89.0L68.5,87.8L67.5,86.2L66.6,84.6L65.7,82.9L64.9,81.0L64.1,79.0L63.5,77.1L63.0,75.2L62.6,73.4L62.4,71.6L62.8,70.3L63.9,69.3Z" fill="#6ea8d2"/>
<path d="M66.1,71.2L67.6,70.9L69.4,70.7L71.4,70.5L73.6,70.3L76.1,70.2L78.4,70.1L80.7,69.9L82.8,69.7L84.9,69.4L86.9,69.2L88.9,69.0L90.9,68.8L92.8,68.7L94.5,68.7L96.0,68.9L97.3,69.2L98.4,69.8L99.4,70.3L100.4,70.9L101.4,71.6L102.3,72.2L103.3,73.3L104.4,74.6L105.5,76.3L106.7,78.3L107.8,80.2L108.8,82.0L109.7,83.7L110.5,85.3L111.4,86.9L112.4,88.5L113.5,90.1L114.7,91.7L115.7,93.4L116.5,95.2L117.1,97.1L117.5,99.1L117.7,101.3L117.7,103.7L117.5,106.3L117.1,109.1L116.6,111.1L116.0,112.3L115.3,112.7L114.5,112.3L113.8,111.5L113.1,110.4L112.4,108.8L111.9,106.9L111.3,105.1L110.7,103.5L110.1,102.1L109.4,100.8L108.7,99.6L107.8,98.5L106.8,97.4L105.7,96.5L104.5,95.6L103.3,94.8L102.1,94.1L100.8,93.4L99.2,92.9L97.1,92.4L94.7,91.9L91.9,91.5L89.1,91.0L86.3,90.4L83.5,89.7L80.7,88.9L78.2,88.1L76.0,87.2L74.1,86.3L72.4,85.4L71.0,84.5L69.8,83.7L68.8,83.0L68.1,82.3L67.3,81.4L66.5,80.3L65.7,78.9L64.9,77.3L64.3,75.9L63.9,74.7L63.7,73.7L63.7,72.9L64.1,72.2L64.9,71.7Z" fill="#4e7fbb"/>
<path d="M79.6,98.4L80.5,97.9L81.5,97.8L82.5,97.8L83.5,98.1L84.6,98.7L85.3,99.4L85.7,100.2L85.9,101.2L85.7,102.3L85.3,103.2L84.7,104.0L83.8,104.5L82.7,104.8L81.7,104.9L80.8,104.8L80.1,104.4L79.4,103.9L78.9,103.2L78.6,102.4L78.3,101.5L78.2,100.5L78.4,99.6L78.9,98.9Z" fill="#4e7fbb"/>
<path d="M58.9,102.4L60.1,102.1L61.4,101.9L62.6,102.1L63.9,102.4L65.1,103.1L66.2,103.9L67.2,105.0L67.9,106.2L68.6,107.8L68.9,109.3L69.1,110.9L68.9,112.6L68.6,114.4L68.0,115.9L67.2,117.1L66.1,118.1L64.9,118.9L63.7,119.2L62.5,119.1L61.3,118.5L60.2,117.5L59.2,116.3L58.4,114.9L57.8,113.4L57.2,111.6L56.9,109.9L56.7,108.3L56.7,106.8L56.8,105.2L57.2,104.0L57.9,103.1Z" fill="#4e7fbb"/>
<path d="M87.3,95.4L89.2,95.1L91.1,94.8L93.1,94.8L95.2,94.9L97.3,95.1L98.8,95.5L99.5,96.1L99.6,96.8L98.9,97.7L98.0,98.3L96.7,98.8L95.0,99.0L93.0,99.0L91.2,98.8L89.5,98.4L87.9,97.9L86.6,97.1L86.0,96.5L86.2,95.9Z" fill="#8ec5de"/>
<path d="M34.5,12.5L35.5,11.5L36.6,10.7L37.9,10.0L39.2,9.4L40.8,9.1L42.3,8.8L43.9,8.5L45.6,8.3L47.4,8.2L48.9,8.2L50.3,8.4L51.5,8.8L52.5,9.2L53.2,9.9L53.6,10.6L53.6,11.5L53.4,12.5L52.9,13.5L52.1,14.5L51.1,15.5L49.9,16.5L48.5,17.3L47.0,18.0L45.4,18.6L43.6,18.9L41.9,19.1L40.3,19.1L38.8,18.9L37.2,18.6L36.0,18.0L35.0,17.3L34.2,16.5L33.8,15.5L33.6,14.5L33.9,13.5Z" fill="#b5dbe7"/>
<path d="M55.0,9.1L57.0,8.4L59.1,7.8L61.4,7.3L63.8,6.8L66.2,6.2L68.8,5.8L71.2,5.3L73.8,4.9L76.2,4.6L78.5,4.2L80.6,4.0L82.4,3.8L84.1,3.7L85.5,3.5L86.8,3.2L87.8,2.9L88.7,2.6L90.0,2.2L91.7,1.8L93.8,1.4L96.2,1.1L98.2,1.0L99.6,1.2L100.4,1.8L100.6,2.7L100.4,3.5L99.8,4.3L98.8,5.1L97.2,5.9L95.6,6.5L93.7,7.1L91.6,7.6L89.4,7.9L87.0,8.2L84.5,8.5L81.9,8.7L79.1,8.8L76.4,9.0L73.8,9.2L71.2,9.4L68.8,9.6L66.3,10.0L63.9,10.5L61.6,11.1L59.4,11.9L57.4,12.2L55.8,12.2L54.5,11.9L53.5,11.1L53.2,10.4L53.8,9.7Z" fill="#b5dbe7"/>
<path d="M24.8,19.3L25.2,19.2L25.7,19.2L26.1,19.3L26.4,19.6L26.6,19.9L26.7,20.3L26.6,20.5L26.2,20.8L25.8,20.9L25.3,21.0L24.9,20.8L24.6,20.6L24.4,20.1L24.3,19.8L24.4,19.5Z" fill="#b5dbe7"/>
<path d="M23.0,-6.0L27.0,-6.0L29.8,-5.4L31.4,-4.3L31.9,-2.6L31.1,-0.4L30.2,1.3L29.1,2.5L27.8,3.2L26.2,3.3L24.8,3.3L23.4,3.3L22.1,3.1L20.9,2.9L19.8,2.2L18.9,1.0L18.2,-0.7L17.8,-2.8L18.4,-4.4L20.1,-5.5Z" fill="#f4e3a6"/>
<path d="M138.5,-6.0L143.5,-6.0L147.1,-5.4L149.4,-4.1L150.2,-2.2L149.8,0.2L148.9,2.3L147.8,3.8L146.4,4.9L144.6,5.5L142.8,5.9L140.9,6.0L139.0,5.9L137.0,5.5L135.3,4.6L133.9,3.0L132.9,0.9L132.1,-1.9L132.8,-3.9L134.9,-5.3Z" fill="#f4e3a6"/>
<path d="M177.1,8.4L177.8,6.8L178.7,5.5L179.9,4.3L181.5,3.3L183.3,2.6L185.3,2.0L187.5,1.7L189.8,1.6L192.3,1.8L194.5,2.0L196.3,2.4L197.9,2.9L199.1,3.6L200.0,4.3L200.5,5.0L200.5,5.9L200.2,6.8L199.6,7.7L198.5,8.4L197.0,9.1L195.1,9.8L193.1,10.4L190.9,11.0L188.6,11.6L186.1,12.2L183.9,12.5L181.9,12.5L180.1,12.2L178.5,11.6L177.5,10.8L177.1,9.7Z" fill="#f4e3a6"/>
<path d="M151.9,19.2L153.1,18.9L154.4,18.8L155.8,18.7L157.2,18.8L158.8,18.9L159.7,19.0L160.1,19.3L159.9,19.6L159.1,20.0L158.2,20.3L157.1,20.5L155.8,20.6L154.2,20.5L153.0,20.5L152.0,20.3L151.2,20.1L150.8,19.9L150.7,19.6L151.1,19.4Z" fill="#b5dbe7"/>
<path d="M154.2,32.4L155.4,32.1L156.6,31.8L157.8,31.7L159.2,31.7L160.8,31.8L161.8,32.0L162.2,32.4L162.2,32.8L161.8,33.4L161.0,33.8L160.0,34.1L158.8,34.2L157.2,34.2L156.0,34.1L154.9,34.0L154.1,33.8L153.5,33.5L153.3,33.1L153.6,32.8Z" fill="#f4e3a6"/>
<path d="M185.3,34.4L185.7,32.8L186.3,31.5L187.2,30.4L188.4,29.6L190.0,28.9L191.5,28.5L193.1,28.3L194.6,28.3L196.2,28.4L197.6,28.7L198.8,29.0L199.9,29.4L200.9,29.8L201.6,30.7L202.1,32.0L202.3,33.8L202.3,35.9L201.8,37.6L200.9,38.9L199.5,39.6L197.6,39.9L195.7,40.1L193.9,40.1L192.0,39.9L190.2,39.6L188.6,39.3L187.4,38.8L186.5,38.3L185.8,37.6L185.4,36.8L185.3,35.7Z" fill="#f8c67c"/>
<path d="M38.5,60.1L38.5,57.9L39.0,55.9L39.8,54.0L41.2,52.5L43.0,51.1L44.9,49.7L46.9,48.1L49.1,46.4L51.3,44.6L53.6,42.9L55.8,41.3L58.1,39.9L60.3,38.5L62.7,37.3L65.2,36.2L67.8,35.2L70.4,34.2L72.9,33.3L75.2,32.4L77.2,31.5L79.0,30.7L80.7,29.8L82.2,29.0L83.7,28.3L85.0,27.6L86.6,27.1L88.4,26.6L90.4,26.3L92.6,26.0L94.9,25.9L97.1,25.9L99.4,26.0L101.6,26.3L103.4,26.7L104.8,27.4L105.7,28.3L106.1,29.4L106.0,30.6L105.3,31.8L104.1,33.1L102.3,34.5L100.4,35.8L98.4,37.2L96.3,38.5L94.0,39.9L92.1,41.2L90.6,42.6L89.3,43.9L88.4,45.3L87.4,46.7L86.2,48.3L85.0,50.0L83.7,51.8L83.0,53.5L83.0,55.1L83.7,56.5L85.0,57.9L86.8,58.5L89.0,58.5L91.7,57.9L94.9,56.5L97.8,55.5L100.5,54.8L103.0,54.5L105.2,54.5L107.2,54.8L109.0,55.5L110.6,56.5L112.0,57.9L112.9,59.1L113.3,60.2L113.3,61.2L112.9,62.2L111.8,62.9L110.0,63.4L107.5,63.8L104.3,64.1L100.8,64.2L97.0,64.3L92.9,64.4L88.4,64.4L83.9,64.4L79.4,64.4L75.0,64.4L70.5,64.4L66.0,64.5L61.5,64.6L57.0,64.7L52.5,65.0L48.6,65.0L45.5,64.9L43.0,64.6L41.2,64.2L39.8,63.3L39.0,61.9Z" fill="#f8c67c"/>
<path d="M107.0,55.2L109.0,54.8L110.8,54.6L112.2,54.9L113.5,55.5L114.5,56.5L115.2,57.6L115.6,58.9L115.6,60.2L115.4,61.8L114.9,63.0L114.1,63.9L113.1,64.6L111.9,64.9L110.6,65.0L109.2,64.8L107.8,64.2L106.2,63.3L105.1,62.3L104.4,61.1L104.0,59.8L104.0,58.2L104.5,57.0L105.5,56.0Z" fill="#f8c67c"/>
<path d="M54.5,51.8L56.7,50.0L59.0,48.5L61.2,47.4L63.5,46.6L65.7,46.2L68.0,46.1L70.2,46.3L72.5,46.8L74.7,47.8L77.1,48.8L79.6,49.9L82.2,51.1L84.9,52.5L87.0,53.8L88.6,55.2L89.6,56.5L90.0,57.9L89.8,59.1L88.9,60.1L87.3,60.9L85.1,61.6L82.3,62.1L78.9,62.4L75.0,62.6L70.5,62.6L66.4,62.5L62.8,62.3L59.7,61.9L56.9,61.5L54.8,60.7L53.2,59.7L52.2,58.4L51.8,56.9L52.0,55.2L52.9,53.5Z" fill="#f5a35f"/>
<path d="M66.4,53.8L68.2,53.4L70.0,53.3L71.8,53.5L73.6,54.0L75.4,55.0L76.6,55.9L77.3,56.9L77.4,58.0L77.0,59.1L76.1,60.0L74.7,60.5L72.9,60.8L70.7,60.8L68.8,60.4L67.2,59.6L66.0,58.4L65.0,56.9L64.8,55.6L65.3,54.6Z" fill="#ee8050"/>
<path d="M158.5,54.1L159.2,49.1L160.1,45.1L161.3,42.0L162.9,39.8L164.7,38.6L166.6,37.6L168.4,36.8L170.3,36.2L172.2,36.0L173.8,36.0L175.2,36.5L176.4,37.3L177.3,38.6L178.1,39.9L178.7,41.3L179.1,42.7L179.5,44.3L179.5,45.8L179.4,47.2L179.0,48.5L178.3,49.7L177.6,50.9L176.6,52.0L175.6,53.0L174.3,53.9L173.1,55.0L172.0,56.3L170.8,57.8L169.7,59.5L168.5,60.9L167.2,62.1L165.8,63.1L164.2,63.9L162.8,64.2L161.6,64.2L160.4,63.7L159.2,62.8L158.6,60.9L158.3,58.0Z" fill="#b5dbe7"/>
<path d="M164.6,42.0L166.0,42.0L167.3,42.1L168.6,42.4L169.9,42.8L171.1,43.2L172.2,43.9L173.0,44.6L173.6,45.5L173.9,46.5L174.1,47.6L173.9,48.7L173.6,49.9L172.9,51.1L172.1,52.1L171.0,52.7L169.8,53.0L168.2,53.0L166.9,52.8L165.6,52.4L164.5,51.9L163.5,51.1L162.8,50.1L162.4,48.7L162.2,47.0L162.4,45.0L162.8,43.5L163.6,42.5Z" fill="#8ec5de"/>
<path d="M169.6,44.5L170.4,44.5L171.0,44.7L171.4,45.0L171.7,45.4L171.8,46.1L171.7,46.6L171.4,46.9L170.9,47.2L170.1,47.3L169.5,47.2L169.1,46.9L168.8,46.4L168.7,45.6L168.8,45.1L169.1,44.7Z" fill="#6ea8d2"/>
<path d="M109.8,75.6L110.6,74.4L111.5,73.2L112.6,72.1L114.0,71.0L115.5,70.0L116.9,69.0L118.3,68.0L119.6,67.0L120.8,66.0L122.0,65.0L123.0,64.0L123.8,63.0L124.6,62.0L125.7,61.2L127.3,60.5L129.3,60.0L131.7,59.6L133.8,59.6L135.5,59.8L137.0,60.4L138.0,61.2L139.4,61.9L140.9,62.5L142.6,63.0L144.6,63.3L146.4,63.8L148.0,64.4L149.4,65.3L150.8,66.2L152.1,67.1L153.6,67.9L155.1,68.7L156.8,69.3L158.4,69.6L160.0,69.6L161.6,69.3L163.3,68.7L164.8,67.9L166.3,66.9L167.7,65.8L169.0,64.4L170.3,63.3L171.6,62.3L172.8,61.5L174.2,60.9L175.4,60.3L176.7,60.0L178.0,59.7L179.4,59.5L180.9,59.6L182.6,59.8L184.6,60.3L186.7,61.0L188.4,63.2L189.5,67.1L190.0,72.5L190.0,79.5L189.1,84.9L187.4,88.6L184.8,90.8L181.2,91.2L178.2,91.4L175.8,91.1L173.8,90.5L172.2,89.5L170.6,88.6L168.9,87.9L167.0,87.2L165.0,86.8L163.2,86.8L161.8,87.2L160.5,88.2L159.5,89.8L158.9,91.2L158.6,92.8L158.8,94.2L159.2,95.8L159.9,97.3L160.8,98.9L161.9,100.6L163.1,102.4L164.4,105.6L165.6,110.3L166.9,116.4L168.1,124.1L165.9,129.8L160.1,133.6L150.9,135.5L138.1,135.5L128.6,134.0L122.2,131.1L119.0,126.7L119.0,120.8L118.9,115.7L118.8,111.2L118.6,107.5L118.4,104.5L118.1,101.8L117.7,99.2L117.2,97.0L116.8,95.0L116.1,93.1L115.4,91.4L114.5,89.8L113.5,88.2L112.6,86.9L111.7,85.6L110.9,84.5L110.1,83.5L109.5,82.5L109.1,81.4L108.9,80.3L108.8,79.2L108.9,78.0L109.3,76.8Z" fill="#f8c67c"/>
<path d="M111.2,76.6L112.2,75.4L113.3,74.2L114.6,73.2L116.0,72.4L117.5,71.6L118.9,70.9L120.3,70.1L121.6,69.4L122.8,68.6L124.0,67.8L125.0,66.9L125.8,66.0L126.6,65.0L127.6,64.1L128.8,63.2L130.3,62.4L132.1,61.6L133.7,61.1L135.3,60.8L136.7,60.7L138.0,60.8L139.3,61.0L140.6,61.2L141.9,61.6L143.1,61.9L144.4,62.5L145.6,63.2L146.8,64.0L147.9,65.0L149.0,66.0L150.0,66.9L150.8,67.8L151.6,68.7L152.6,69.5L153.9,70.2L155.4,70.9L157.3,71.6L159.1,71.9L161.0,71.9L163.0,71.6L165.0,70.9L166.9,70.2L168.6,69.4L170.2,68.5L171.8,67.5L173.2,66.6L174.8,65.9L176.2,65.2L177.8,64.8L179.5,64.4L181.5,64.1L183.8,64.0L186.2,64.0L188.1,65.6L189.4,68.9L190.0,73.8L190.0,80.2L189.1,85.0L187.2,88.0L184.4,89.2L180.6,88.8L177.2,88.2L174.1,87.6L171.2,86.9L168.8,86.1L166.4,85.8L164.3,85.8L162.4,86.1L160.6,86.9L159.2,87.9L158.1,89.1L157.2,90.6L156.8,92.4L156.6,94.3L156.9,96.4L157.5,98.8L158.5,101.2L159.6,105.0L160.7,110.1L161.9,116.4L163.1,124.1L161.3,129.8L156.4,133.6L148.5,135.5L137.5,135.5L129.2,134.0L123.8,131.1L121.0,126.7L121.0,120.8L120.9,115.7L120.8,111.2L120.6,107.5L120.4,104.5L120.1,101.8L119.7,99.2L119.2,97.0L118.8,95.0L118.1,93.1L117.4,91.4L116.5,89.8L115.5,88.2L114.5,86.9L113.6,85.6L112.8,84.5L111.9,83.5L111.3,82.5L110.7,81.6L110.3,80.7L110.1,79.8L110.1,78.8L110.5,77.8Z" fill="#f5a35f"/>
<path d="M112.2,78.0L113.2,77.0L114.4,76.1L115.8,75.2L117.3,74.4L119.1,73.6L120.8,72.9L122.4,72.1L124.0,71.4L125.5,70.6L126.8,69.8L127.9,68.9L128.8,68.0L129.6,67.0L130.5,66.1L131.6,65.2L132.9,64.4L134.4,63.6L135.9,63.1L137.4,62.9L138.9,62.9L140.4,63.1L141.9,63.6L143.3,64.4L144.6,65.4L145.8,66.6L146.9,67.8L147.8,69.0L148.6,70.2L149.1,71.3L149.9,72.3L151.0,73.1L152.2,73.8L153.8,74.2L155.2,74.8L156.8,75.2L158.2,75.8L159.8,76.2L161.1,76.8L162.4,77.4L163.5,78.1L164.5,78.9L165.2,79.8L165.8,80.9L166.0,82.2L166.0,83.8L165.6,85.1L164.9,86.2L163.8,87.1L162.2,87.9L160.9,88.6L159.6,89.4L158.5,90.1L157.5,90.9L156.9,91.9L156.6,93.3L156.8,95.0L157.2,97.0L157.9,99.1L158.6,101.4L159.5,103.8L160.5,106.2L161.4,109.7L162.3,114.2L163.1,119.6L163.9,125.9L161.8,130.7L156.9,133.9L149.2,135.5L138.8,135.5L130.9,134.0L125.6,131.1L123.0,126.7L123.0,120.8L122.9,115.7L122.8,111.2L122.6,107.5L122.4,104.5L122.1,101.8L121.7,99.2L121.2,97.0L120.8,95.0L120.1,93.1L119.4,91.4L118.5,89.8L117.5,88.2L116.5,86.9L115.6,85.6L114.7,84.5L113.8,83.5L113.0,82.6L112.4,81.8L111.8,81.1L111.4,80.4L111.3,79.7L111.6,78.9Z" fill="#ee8050"/>
<path d="M173.2,66.6L174.8,66.4L176.2,66.3L177.6,66.4L178.9,66.8L180.1,67.2L181.1,68.0L181.9,69.0L182.4,70.2L182.6,71.8L182.6,73.1L182.4,74.2L181.9,75.1L181.1,75.9L180.2,76.4L179.1,76.6L177.8,76.6L176.2,76.4L174.9,75.9L173.8,75.3L172.9,74.5L172.1,73.5L171.6,72.4L171.2,71.3L171.0,70.1L171.0,68.9L171.4,67.9L172.1,67.1Z" fill="#de5138"/>
<path d="M175.2,69.1L176.3,68.9L177.3,68.8L178.3,69.0L179.1,69.4L179.9,70.1L180.3,70.8L180.4,71.6L180.2,72.5L179.8,73.5L179.1,74.2L178.4,74.6L177.5,74.6L176.5,74.4L175.7,73.9L175.0,73.2L174.4,72.3L174.1,71.2L174.1,70.3L174.4,69.6Z" fill="#c7211f"/>
<path d="M114.2,79.4L115.2,78.6L116.5,77.9L118.0,77.1L119.7,76.4L121.7,75.6L123.6,74.9L125.3,74.1L127.0,73.4L128.4,72.6L129.8,71.8L130.9,70.9L131.8,70.0L132.6,69.0L133.4,68.1L134.3,67.4L135.2,66.8L136.2,66.2L137.2,66.0L138.2,66.0L139.2,66.2L140.2,66.8L141.1,67.4L142.0,68.3L142.8,69.4L143.6,70.6L144.2,71.9L144.8,73.3L145.2,74.8L145.5,76.2L145.9,77.7L146.3,79.2L146.8,80.6L147.2,81.9L147.9,83.2L148.6,84.4L149.5,85.5L150.5,86.5L151.6,87.5L152.7,88.5L153.9,89.5L155.1,90.5L156.1,91.8L156.7,93.2L157.0,95.0L157.0,97.0L156.8,98.8L156.2,100.2L155.5,101.5L154.5,102.5L153.6,103.6L152.7,104.9L151.9,106.2L151.1,107.8L150.8,109.5L150.9,111.5L151.5,113.8L152.5,116.2L153.1,119.1L153.4,122.3L153.2,125.8L152.8,129.7L150.7,132.6L147.2,134.5L142.1,135.5L135.4,135.5L130.4,134.0L127.1,131.1L125.3,126.7L125.2,120.8L125.0,115.7L124.8,111.2L124.4,107.5L124.1,104.5L123.7,101.8L123.2,99.2L122.8,97.0L122.2,95.0L121.7,93.1L121.0,91.4L120.2,89.8L119.3,88.2L118.4,86.9L117.6,85.8L116.7,84.9L115.8,84.1L115.0,83.4L114.4,82.7L113.8,82.1L113.4,81.4L113.3,80.8L113.6,80.1Z" fill="#de5138"/>
<path d="M120.7,82.5L121.6,82.1L122.6,81.8L123.6,81.5L124.7,81.3L125.8,81.2L126.9,81.0L127.9,80.7L128.8,80.2L129.7,79.8L130.6,79.2L131.7,78.7L132.8,78.2L134.0,77.7L135.0,77.1L135.9,76.4L136.6,75.6L137.2,74.8L137.7,74.1L138.2,73.6L138.7,73.2L139.2,73.0L139.7,73.1L140.2,73.5L140.7,74.3L141.2,75.3L141.7,76.6L142.2,78.2L142.7,80.0L143.2,82.0L144.0,83.9L145.0,85.8L146.3,87.4L147.9,89.0L149.4,90.4L151.0,91.7L152.5,92.8L154.1,93.9L155.1,94.9L155.6,95.9L155.6,97.0L155.1,98.0L154.3,98.9L153.3,99.7L152.0,100.3L150.4,100.8L149.0,101.5L147.7,102.2L146.6,103.1L145.5,104.2L144.9,105.3L144.6,106.6L144.8,108.0L145.2,109.6L145.9,111.1L146.7,112.7L147.6,114.2L148.6,115.8L149.3,117.3L149.7,118.9L149.8,120.4L149.5,122.0L148.9,123.3L147.8,124.3L146.4,125.1L144.6,125.6L142.7,125.9L140.8,125.9L138.8,125.6L136.8,125.1L135.0,124.3L133.4,123.3L132.2,122.0L131.1,120.4L130.2,118.8L129.5,116.9L128.8,115.0L128.3,113.0L127.9,110.9L127.6,108.9L127.5,106.8L127.5,104.7L127.4,102.8L127.1,101.0L126.7,99.3L126.2,97.7L125.5,96.2L124.8,94.6L123.9,93.1L122.8,91.5L121.9,90.0L121.2,88.4L120.5,86.9L120.0,85.4L119.9,84.1L120.1,83.2Z" fill="#c7211f"/>
<path d="M163.4,87.2L164.4,86.8L165.6,86.4L166.9,86.2L168.2,86.2L169.8,86.3L171.1,86.6L172.2,86.9L173.1,87.4L173.9,88.1L174.4,88.8L174.6,89.6L174.6,90.5L174.4,91.5L173.8,92.3L172.9,92.9L171.8,93.3L170.2,93.4L168.8,93.5L167.4,93.3L166.1,93.1L164.9,92.6L163.9,92.1L163.1,91.4L162.6,90.5L162.2,89.5L162.3,88.6L162.7,87.9Z" fill="#f4e3a6"/>
<path d="M180.0,45.9L182.0,45.1L184.1,44.4L186.4,43.8L188.8,43.2L191.2,42.8L194.0,42.4L197.1,42.1L200.4,42.0L204.1,42.0L206.8,43.6L208.6,46.9L209.5,51.8L209.5,58.2L208.3,63.1L205.8,66.4L202.2,68.0L197.3,68.0L193.2,67.6L189.7,66.9L187.0,65.8L185.0,64.2L183.2,62.7L181.8,61.1L180.5,59.4L179.5,57.6L178.7,55.8L178.1,53.9L177.6,52.0L177.4,50.0L177.7,48.3L178.6,46.9Z" fill="#f8c67c"/>
<path d="M185.0,48.5L187.0,47.5L189.7,46.8L193.2,46.2L197.3,46.0L202.2,46.0L205.8,47.2L208.3,49.8L209.5,53.5L209.5,58.5L208.6,62.2L206.8,64.8L204.1,66.0L200.4,66.0L197.3,65.6L194.6,64.9L192.4,63.8L190.6,62.2L188.9,60.5L187.3,58.5L185.8,56.2L184.2,53.8L183.6,51.6L183.9,49.9Z" fill="#f5a35f"/>
<path d="M193.0,53.9L195.0,53.1L197.2,52.6L199.7,52.2L202.3,52.0L205.2,52.0L207.3,52.8L208.8,54.2L209.5,56.5L209.5,59.5L208.7,61.8L207.0,63.2L204.4,64.0L201.1,64.0L198.2,63.4L195.7,62.3L193.8,60.6L192.2,58.4L191.6,56.5L191.9,55.0Z" fill="#ee8050"/>
<path d="M201.1,62.0L204.4,62.0L207.0,62.2L208.7,62.8L209.5,63.5L209.5,64.5L208.8,65.2L207.3,65.8L205.2,66.0L202.3,66.0L200.0,65.8L198.3,65.2L197.2,64.5L196.8,63.5L197.2,62.8L198.7,62.2Z" fill="#c7211f"/>
<path d="M180.2,86.0L181.8,86.0L182.9,86.7L183.6,88.1L184.0,90.1L184.0,92.9L183.6,94.9L182.9,96.3L181.8,97.0L180.2,97.0L179.1,96.3L178.4,94.9L178.0,92.9L178.0,90.1L178.4,88.1L179.1,86.7Z" fill="#8ec5de"/>
<path d="M180.6,98.0L184.4,98.0L187.2,100.3L189.1,105.0L190.0,112.1L190.0,121.4L189.1,128.5L187.2,133.2L184.4,135.5L180.6,135.5L177.8,133.2L175.9,128.5L175.0,121.4L175.0,112.1L175.9,105.0L177.8,100.3Z" fill="#b5dbe7"/>
<path d="M33.8,8.1L36.2,6.9L39.4,5.8L43.1,4.9L47.5,4.2L52.5,3.8L57.5,3.2L62.5,2.8L67.5,2.2L72.5,1.8L77.5,0.9L82.5,-0.2L87.5,-1.6L92.5,-3.4L96.4,-3.9L99.1,-3.3L100.8,-1.5L101.2,1.5L100.9,4.1L99.6,6.4L97.5,8.2L94.5,9.8L91.3,10.9L87.9,11.8L84.4,12.4L80.6,12.6L76.9,13.0L73.1,13.5L69.4,14.1L65.6,14.9L62.2,15.7L59.1,16.6L56.2,17.5L53.8,18.5L50.9,19.2L47.8,19.8L44.4,20.0L40.6,20.0L37.5,19.4L35.0,18.1L33.1,16.2L31.9,13.8L31.6,11.6L32.2,9.7ZM13.8,33.0L20.2,33.0L26.1,33.1L31.2,33.2L35.6,33.4L39.4,33.6L43.1,33.8L46.9,33.8L50.6,33.6L54.4,33.4L58.4,33.1L62.8,32.7L67.5,32.2L72.5,31.8L77.2,31.2L81.6,30.8L85.6,30.2L89.4,29.8L92.8,29.4L95.9,29.3L98.8,29.4L101.2,29.6L103.3,30.3L104.9,31.4L106.1,33.0L106.9,35.0L107.7,37.0L108.6,39.0L109.5,41.0L110.5,43.0L111.4,45.1L112.1,47.4L112.8,49.8L113.2,52.2L113.2,54.5L112.8,56.5L111.8,58.2L110.2,59.8L108.3,60.9L105.9,61.6L103.1,62.0L99.9,62.0L96.5,62.0L93.0,62.0L89.4,62.0L85.6,62.0L81.6,62.0L77.2,62.0L72.5,62.0L67.5,62.0L62.5,62.2L57.5,62.8L52.5,63.5L47.5,64.5L43.1,65.6L39.4,66.7L36.2,67.9L33.8,69.1L30.6,70.1L26.9,70.7L22.5,71.0L17.5,71.0L13.2,70.7L9.8,70.1L7.0,69.1L5.0,67.9L3.6,64.9L2.9,60.1L2.8,53.6L3.2,45.4L5.2,39.2L8.8,35.1ZM100.6,88.5L104.4,87.5L107.7,87.3L110.6,87.9L113.0,89.4L115.0,91.6L116.5,94.2L117.5,97.2L118.0,100.6L118.0,104.4L117.6,107.1L116.9,108.7L115.8,109.2L114.2,108.8L112.4,107.8L110.1,106.2L107.5,104.2L104.5,101.8L101.9,99.4L99.8,97.1L98.1,95.0L96.9,93.0L96.9,91.2L98.1,89.8ZM132.5,83.9L135.5,83.1L138.5,82.9L141.5,83.3L144.5,84.2L147.5,85.8L150.0,87.6L152.0,89.9L153.5,92.5L154.5,95.5L155.2,99.3L155.8,103.9L156.0,109.4L156.0,115.6L155.0,120.4L153.0,123.6L150.0,125.4L146.0,125.6L142.5,124.8L139.5,122.9L137.0,120.0L135.0,116.0L133.2,112.1L131.8,108.2L130.5,104.4L129.5,100.6L128.8,97.2L128.2,94.1L128.0,91.2L128.0,88.8L128.8,86.7L130.2,85.1ZM84.4,69.2L90.6,68.8L95.6,68.8L99.2,69.2L101.5,70.2L102.5,71.8L102.5,73.0L101.5,74.0L99.5,74.8L96.5,75.2L93.4,75.6L90.1,75.7L86.8,75.6L83.2,75.4L80.4,74.9L78.3,74.1L76.9,73.1L76.1,71.9L77.1,70.8L79.9,69.9ZM168.2,44.6L169.8,44.4L171.1,44.4L172.4,44.6L173.5,45.1L174.5,45.9L175.0,46.6L175.0,47.4L174.5,48.1L173.5,48.9L172.4,49.4L171.3,49.6L170.1,49.6L168.9,49.4L167.9,48.9L167.1,48.3L166.6,47.5L166.4,46.5L166.6,45.7L167.2,45.1Z" fill="url(#stip)" fill-rule="evenodd"/>
</g>
<path d="M0.0,0.0L203.5,0.0L203.5,45.1L203.0,47.1L201.7,49.5L200.7,50.8L198.9,51.8L197.4,52.3L196.9,53.9L197.9,54.4L199.2,55.4L199.9,56.5L200.7,57.5L201.5,58.5L202.0,59.6L202.0,62.2L202.0,63.5L201.0,64.5L199.7,65.0L197.6,65.5L195.9,65.8L194.6,66.6L194.1,65.3L194.6,63.5L195.1,62.2L194.6,60.9L193.8,59.8L195.1,58.5L193.6,57.8L191.5,57.8L190.8,56.5L190.0,56.7L191.3,55.4L191.5,53.6L190.3,52.8L189.0,52.1L187.0,52.6L183.9,53.6L181.1,54.9L181.9,53.1L183.2,51.0L182.6,49.5L180.6,49.7L179.3,51.0L177.0,52.1L175.5,53.9L173.7,54.4L172.2,54.6L172.5,56.2L174.2,57.0L175.5,57.8L176.3,59.3L178.8,58.3L180.1,57.5L181.9,58.3L184.4,58.5L183.7,59.8L180.6,60.9L178.8,62.2L176.8,63.5L176.0,65.3L178.6,66.6L179.8,69.9L180.6,71.2L182.9,73.3L182.6,75.1L180.6,76.1L182.1,77.7L183.2,78.2L182.1,80.3L181.6,81.6L180.1,83.4L178.6,85.5L177.0,88.1L176.0,89.6L174.2,91.7L173.0,92.2L170.9,94.3L169.2,95.6L166.6,96.3L164.1,97.1L162.8,97.6L161.5,97.9L159.0,98.9L156.4,99.7L153.9,100.5L153.4,102.8L152.1,101.5L151.6,99.7L148.8,99.2L147.5,99.7L145.8,101.0L144.0,102.0L142.4,104.1L141.7,106.2L142.4,108.3L144.0,110.1L146.5,112.7L148.0,114.0L149.8,116.3L150.6,119.7L150.8,121.7L150.6,123.8L150.6,124.6L150.1,125.6L147.8,127.2L145.2,128.5L144.2,129.5L139.4,129.5L138.6,128.5L136.3,128.2L135.1,126.4L134.6,125.1L133.0,123.8L131.0,122.8L129.5,122.5L129.5,120.7L128.5,120.4L127.2,121.0L127.1,123.0L126.2,124.8L125.4,126.9L125.2,128.7L124.9,129.5L123.6,129.5L123.9,126.9L123.9,124.8L123.6,123.0L122.6,121.0L122.4,119.1L121.3,116.5L121.1,113.2L120.3,111.6L119.0,111.9L117.8,112.7L115.7,114.2L114.0,114.5L112.7,114.0L113.2,110.6L112.7,107.5L111.7,106.2L110.7,104.9L109.4,103.6L108.4,102.3L107.6,101.3L106.8,99.7L106.3,97.6L105.6,96.9L104.3,97.1L103.0,98.2L102.0,98.7L100.5,98.9L99.2,99.2L97.9,99.2L96.9,99.2L95.6,99.5L94.1,100.0L93.9,101.8L93.4,102.8L91.1,104.1L89.3,105.4L88.3,106.2L86.7,108.0L84.7,109.6L82.2,111.9L82.2,112.7L79.4,113.4L78.9,114.7L76.8,115.3L76.6,117.8L77.1,121.0L76.8,123.0L75.8,124.8L75.8,127.2L75.9,128.7L74.5,129.5L66.6,129.5L65.6,126.4L64.1,123.8L63.1,122.0L62.1,118.4L60.5,115.3L59.3,111.9L58.5,108.8L58.0,106.2L57.7,103.6L58.0,101.0L57.5,97.9L56.5,99.2L56.2,100.5L54.7,101.5L52.9,101.5L51.4,100.5L49.9,98.9L48.3,97.4L49.9,97.1L51.6,96.1L50.1,96.3L47.8,95.6L46.8,94.3L44.5,93.5L43.8,91.4L42.5,90.9L42.2,89.6L39.4,89.9L36.9,90.1L34.3,90.1L31.3,90.4L29.5,90.1L27.0,89.6L24.2,89.6L22.1,89.1L19.8,88.8L18.6,87.3L17.8,85.5L16.0,85.0L14.0,86.2L12.2,86.8L10.2,86.2L8.9,85.7L6.6,84.4L3.8,83.1L2.0,80.5L1.3,79.0L0.5,77.7L0.0,77.2L0.0,59.3L1.3,59.6L2.5,60.1L4.6,60.6L6.4,60.3L8.9,59.8L10.2,60.1L9.9,58.5L9.7,57.0L9.9,54.9L8.1,53.6L9.4,52.8L8.9,51.5L7.1,51.8L7.1,50.2L7.4,48.7L6.9,47.1L6.1,45.8L4.3,44.3L3.3,43.5L3.1,42.5L2.0,41.2L0.8,40.4L2.0,39.9L3.3,39.4L3.8,38.3L6.4,38.3L8.9,38.9L10.7,37.8L10.2,36.3L8.4,34.7L6.4,33.9L4.8,33.5L3.1,33.7L1.0,34.2L0.0,34.7ZM0.0,86.0L0.5,86.5L0.3,87.5L0.5,89.1L1.5,90.6L2.0,91.4L2.0,89.1L3.1,87.5L4.1,88.3L4.1,90.1L3.6,91.7L4.1,92.5L6.4,92.7L8.9,93.0L11.2,92.2L13.5,90.1L15.3,88.8L15.5,87.5L16.3,87.0L16.3,88.6L16.0,90.1L16.8,92.2L18.6,93.5L20.9,94.3L22.4,95.3L24.2,96.9L24.9,97.4L24.2,98.9L22.9,100.5L21.9,102.3L19.8,103.1L19.8,105.7L19.1,106.4L17.3,107.2L16.0,109.0L14.0,109.8L13.2,111.1L10.4,111.4L7.9,112.1L5.6,114.0L5.6,115.0L3.8,115.8L1.3,116.5L0.0,116.8ZM180.6,90.4L181.9,89.9L183.2,90.6L182.6,92.2L182.1,93.8L181.6,95.6L180.6,96.9L180.2,98.7L179.6,97.6L178.8,96.9L178.3,95.8L178.4,94.0L179.3,92.5L180.4,91.2ZM152.6,103.3L154.4,103.3L155.2,104.4L154.2,105.7L153.9,106.7L152.6,107.7L151.4,108.3L149.8,107.5L149.1,105.9L149.3,104.6L150.6,103.9L151.6,103.6ZM203.5,67.6L203.0,68.6L202.5,69.2L203.0,69.9L203.0,71.0L203.5,71.2L203.5,67.6ZM193.8,68.9L194.6,68.5L195.6,68.6L195.4,69.3L194.1,69.4ZM179.6,107.5L180.6,107.2L182.9,108.0L183.7,107.5L183.9,110.6L184.4,112.7L182.1,114.5L182.1,116.5L182.4,118.6L183.7,118.9L185.2,118.6L186.5,119.4L187.7,119.7L188.5,121.7L188.2,122.8L187.0,122.0L185.7,121.5L184.4,120.4L182.6,119.4L181.1,119.9L179.8,119.7L179.6,118.4L180.4,117.6L179.6,117.1L178.6,117.1L178.1,115.8L177.6,113.7L178.6,113.7L179.1,111.9L179.1,110.1ZM179.1,120.4L181.1,120.7L181.9,121.7L181.6,123.5L180.6,123.5L179.3,121.7ZM183.2,124.8L185.2,125.4L185.9,126.4L184.7,127.7L183.2,128.2L182.9,126.4ZM185.4,127.2L187.0,127.2L186.5,129.5L185.2,129.5ZM187.7,126.4L188.5,127.9L188.0,129.5L187.2,128.7ZM189.0,125.6L190.8,126.4L191.3,128.7L190.3,129.5L189.3,127.7ZM189.0,123.0L190.8,122.8L192.3,123.8L192.8,126.9L190.8,126.7L189.8,125.4ZM176.3,125.9L177.6,127.7L176.3,129.5L174.8,129.5L176.0,127.2ZM186.2,123.3L187.7,123.5L188.2,124.6L187.0,124.3Z" fill="none" stroke="#9a9a9a" stroke-width="0.5"/>
<path d="M21.1,34.7L24.9,35.5L28.5,34.7L29.5,37.6L26.7,40.7L23.7,42.5L21.6,41.4L21.1,38.1Z" fill="none" stroke="#9a9a9a" stroke-width="0.5"/><path d="M59.8,35.0L62.3,33.9L64.9,34.7L68.7,35.2L72.5,34.4L74.3,35.0L71.2,36.3L67.4,36.5L63.6,36.0L61.6,38.3L59.8,38.1Z" fill="none" stroke="#9a9a9a" stroke-width="0.5"/><path d="M136.6,21.5L138.6,21.8L142.4,19.9L146.3,17.4L150.1,13.5L152.1,11.1L150.8,10.9L147.5,14.0L143.7,17.6L139.9,19.7L137.4,20.7Z" fill="none" stroke="#9a9a9a" stroke-width="0.5"/><path d="M66.6,45.3L69.2,44.5L72.0,45.1L71.2,46.1L68.7,45.8Z" fill="none" stroke="#9a9a9a" stroke-width="0.5"/><path d="M126.2,59.6L128.0,59.1L129.2,59.8L127.7,60.6Z" fill="none" stroke="#9a9a9a" stroke-width="0.5"/>
<path d="M36.9,66.8L44.8,66.6L52.7,65.5L61.0,66.8L65.1,69.7L70.0,73.8L75.0,77.2L79.9,79.8L85.0,81.6L92.6,82.6L95.9,83.9L102.8,83.4L111.9,81.6L117.0,80.3L120.1,84.7L128.0,87.8L132.8,81.6L136.1,75.1L137.6,68.6L134.3,59.1L128.0,54.4L123.1,53.1L112.4,51.0L105.1,51.8L99.0,53.6L90.0,56.5L80.9,58.3L73.8,58.3L68.4,54.6L63.1,51.0L53.9,51.0L45.0,53.6L40.7,58.3L38.2,62.2ZM50.4,46.6L55.7,44.8L63.1,43.8L72.0,42.0L80.9,41.2L90.0,40.1L99.0,41.2L99.0,44.5L90.0,45.6L73.8,46.6L63.1,49.2L50.4,49.2Z" fill="none" stroke="#a8a8a8" stroke-width="0.8" stroke-linejoin="round"/>
<rect x="38.16" y="25.90" width="63.59" height="38.85" fill="none" stroke="#3aa655" stroke-width="1"/>
<rect x="0" y="0" width="203.5" height="129.5" fill="none" stroke="#7f7f7f" stroke-width="1.3"/>
<line x1="0.00" y1="129.5" x2="0.00" y2="133.5" stroke="#7f7f7f" stroke-width="1.2"/>
<line x1="25.44" y1="129.5" x2="25.44" y2="131.7" stroke="#7f7f7f" stroke-width="1.2"/>
<line x1="50.88" y1="129.5" x2="50.88" y2="133.5" stroke="#7f7f7f" stroke-width="1.2"/>
<line x1="76.31" y1="129.5" x2="76.31" y2="131.7" stroke="#7f7f7f" stroke-width="1.2"/>
<line x1="101.75" y1="129.5" x2="101.75" y2="133.5" stroke="#7f7f7f" stroke-width="1.2"/>
<line x1="127.19" y1="129.5" x2="127.19" y2="131.7" stroke="#7f7f7f" stroke-width="1.2"/>
<line x1="152.62" y1="129.5" x2="152.62" y2="133.5" stroke="#7f7f7f" stroke-width="1.2"/>
<line x1="178.06" y1="129.5" x2="178.06" y2="131.7" stroke="#7f7f7f" stroke-width="1.2"/>
<line x1="203.50" y1="129.5" x2="203.50" y2="133.5" stroke="#7f7f7f" stroke-width="1.2"/>
<line x1="-4" y1="0.00" x2="0" y2="0.00" stroke="#7f7f7f" stroke-width="1.2"/>
<line x1="-2.2" y1="32.38" x2="0" y2="32.38" stroke="#7f7f7f" stroke-width="1.2"/>
<line x1="-4" y1="64.75" x2="0" y2="64.75" stroke="#7f7f7f" stroke-width="1.2"/>
<line x1="-2.2" y1="97.12" x2="0" y2="97.12" stroke="#7f7f7f" stroke-width="1.2"/>
<line x1="-4" y1="129.50" x2="0" y2="129.50" stroke="#7f7f7f" stroke-width="1.2"/>
<text x="0.00" y="147.60" text-anchor="middle" class="lab">50°E</text>
<text x="50.88" y="147.60" text-anchor="middle" class="lab">70°E</text>
<text x="101.75" y="147.60" text-anchor="middle" class="lab">90°E</text>
<text x="152.62" y="147.60" text-anchor="middle" class="lab">110°E</text>
<text x="203.50" y="147.60" text-anchor="middle" class="lab">130°E</text>
<text x="-7.7" y="3.60" text-anchor="end" class="lab">60°N</text>
<text x="-7.7" y="68.35" text-anchor="end" class="lab">35°N</text>
<text x="-7.7" y="133.10" text-anchor="end" class="lab">10°N</text>
<text x="0.8" y="-6.5" class="title">(e) ΔP (BCx10Asia) JJA</text>
</g>
<polygon points="175.8,531.4 175.8,536.3 159.5,533.8499999999999" fill="#c7211f" stroke="#555" stroke-width="0.6"/>
<polygon points="341.3,531.4 341.3,536.3 357.4,533.8499999999999" fill="#2a4ea0" stroke="#555" stroke-width="0.6"/>
<rect x="175.80" y="531.4" width="16.55" height="4.90" fill="#de5138" stroke="#555" stroke-width="0.6"/>
<rect x="192.35" y="531.4" width="16.55" height="4.90" fill="#ee8050" stroke="#555" stroke-width="0.6"/>
<rect x="208.90" y="531.4" width="16.55" height="4.90" fill="#f5a35f" stroke="#555" stroke-width="0.6"/>
<rect x="225.45" y="531.4" width="16.55" height="4.90" fill="#f8c67c" stroke="#555" stroke-width="0.6"/>
<rect x="242.00" y="531.4" width="16.55" height="4.90" fill="#f4e3a6" stroke="#555" stroke-width="0.6"/>
<rect x="258.55" y="531.4" width="16.55" height="4.90" fill="#dfeeee" stroke="#555" stroke-width="0.6"/>
<rect x="275.10" y="531.4" width="16.55" height="4.90" fill="#b5dbe7" stroke="#555" stroke-width="0.6"/>
<rect x="291.65" y="531.4" width="16.55" height="4.90" fill="#8ec5de" stroke="#555" stroke-width="0.6"/>
<rect x="308.20" y="531.4" width="16.55" height="4.90" fill="#6ea8d2" stroke="#555" stroke-width="0.6"/>
<rect x="324.75" y="531.4" width="16.55" height="4.90" fill="#4e7fbb" stroke="#555" stroke-width="0.6"/>
<text x="175.80" y="544.6" text-anchor="middle" class="cbl">-0.5</text>
<text x="192.35" y="544.6" text-anchor="middle" class="cbl">-0.4</text>
<text x="208.90" y="544.6" text-anchor="middle" class="cbl">-0.3</text>
<text x="225.45" y="544.6" text-anchor="middle" class="cbl">-0.2</text>
<text x="242.00" y="544.6" text-anchor="middle" class="cbl">-0.1</text>
<text x="258.55" y="544.6" text-anchor="middle" class="cbl">0</text>
<text x="275.10" y="544.6" text-anchor="middle" class="cbl">0.1</text>
<text x="291.65" y="544.6" text-anchor="middle" class="cbl">0.2</text>
<text x="308.20" y="544.6" text-anchor="middle" class="cbl">0.3</text>
<text x="324.75" y="544.6" text-anchor="middle" class="cbl">0.4</text>
<text x="341.30" y="544.6" text-anchor="middle" class="cbl">0.5</text>
</svg>
</body></html>
